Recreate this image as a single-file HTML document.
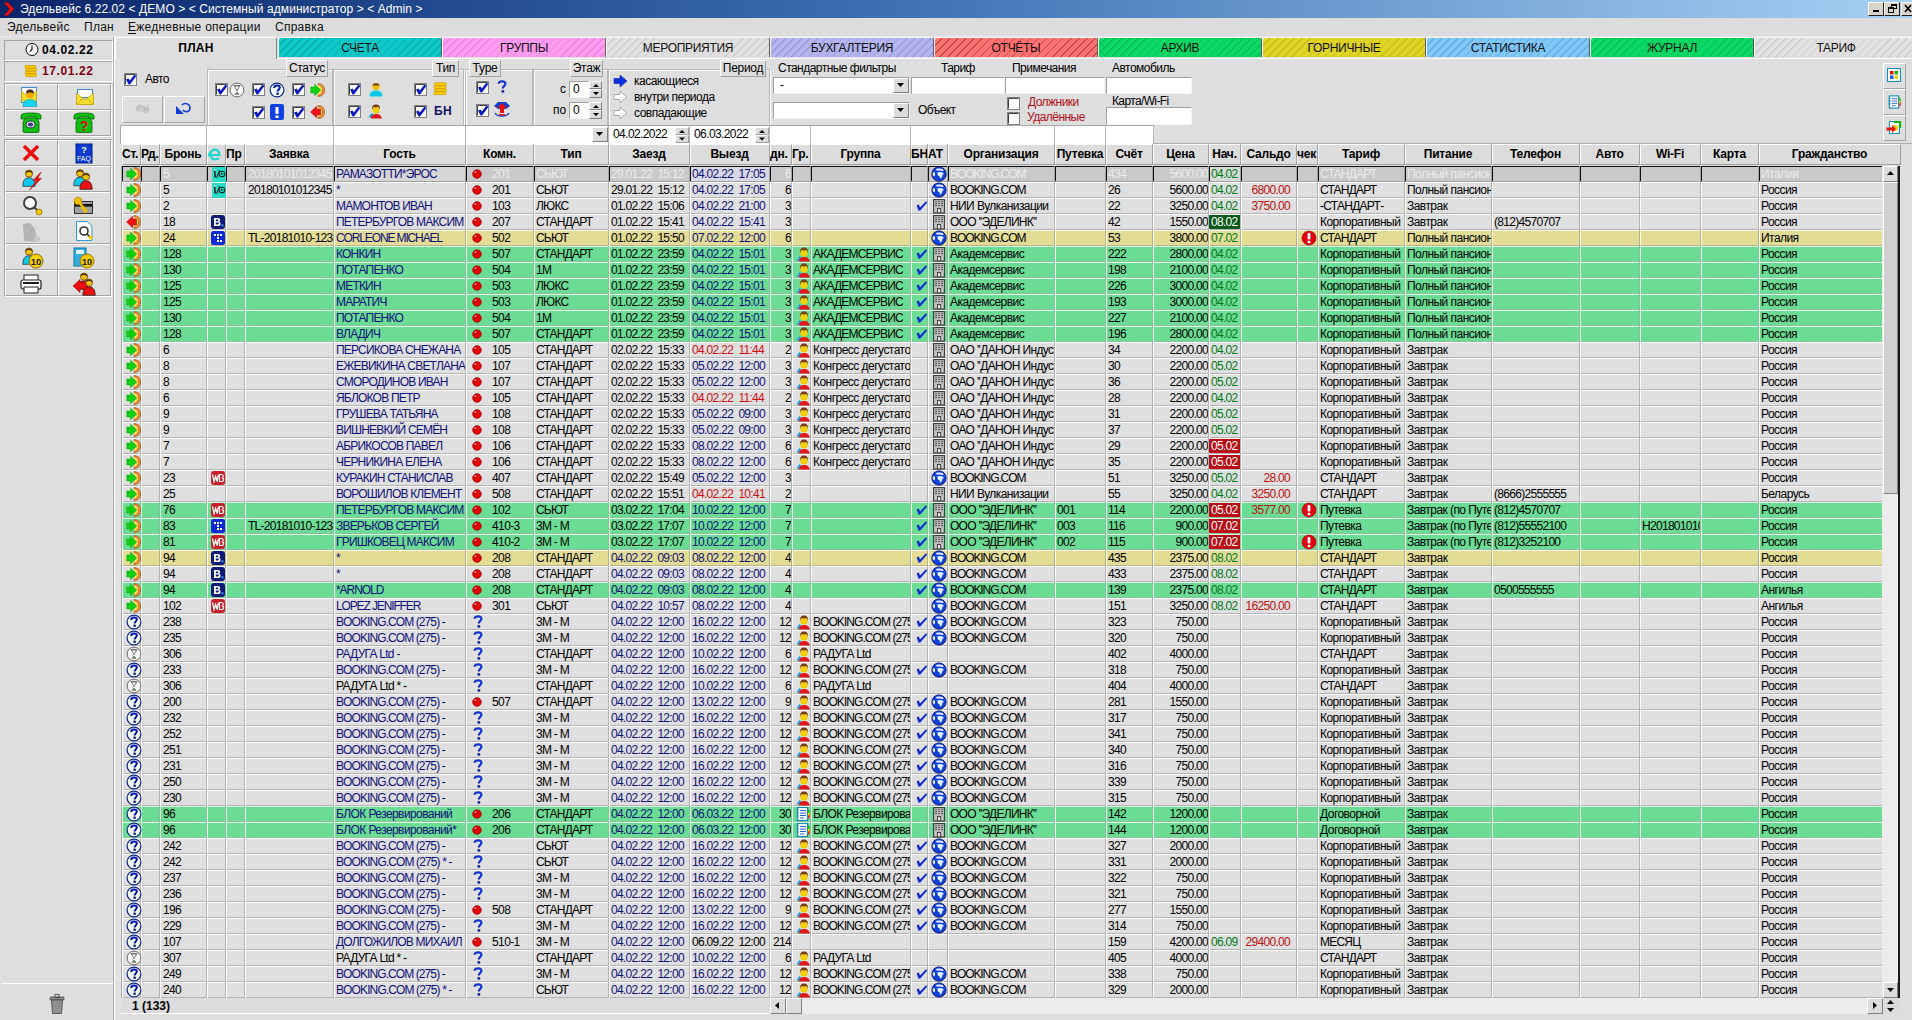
<!DOCTYPE html><html><head><meta charset="utf-8"><title>Эдельвейс</title><style>
*{box-sizing:border-box}
body{margin:0;width:1912px;height:1020px;overflow:hidden;background:#dedede;font-family:"Liberation Sans",sans-serif;font-size:12px;position:relative}
.a{position:absolute}
.t{white-space:pre;line-height:16px}
.cl{position:absolute;overflow:hidden;white-space:pre;line-height:16px;height:16px}
.r{text-align:right}
.btn{position:absolute;background:#dcdcdc;border-top:1px solid #fff;border-left:1px solid #fff;border-right:1px solid #808080;border-bottom:1px solid #808080}
.sunk{position:absolute;background:#fff;border-top:1px solid #a0a0a0;border-left:1px solid #a0a0a0;border-right:1px solid #f4f4f4;border-bottom:1px solid #f4f4f4}
.tab{position:absolute;top:37px;height:20px;border-top:1px solid #f6f6f6;border-left:1px solid #f6f6f6;border-right:1px solid #606060;border-radius:3px 3px 0 0;text-align:center;line-height:20px;font-size:12px;letter-spacing:-0.3px;color:#101010}
.grp{position:absolute;border:1px solid #b8b8b8;box-shadow:inset 1px 1px 0 #fff, 1px 1px 0 #fff}
.lbl{position:absolute;background:#dedede;border-top:1px solid #fff;border-left:1px solid #fff;border-right:1px solid #a0a0a0;border-bottom:1px solid #a0a0a0;line-height:14px;text-align:center;font-size:12px;letter-spacing:-0.3px}
</style></head><body>

<svg width="0" height="0" style="position:absolute">
<defs>
<symbol id="i-in" viewBox="0 0 16 16">
 <path d="M9 1.5 C13.5 1.5 15.6 4.5 15.6 8 C15.6 11.5 13.5 14.5 9 14.5 L9 12.8 C11.8 12.5 13 10.5 13 8 C13 5.5 11.8 3.5 9 3.2Z" fill="#f08a30" stroke="#9a4c10" stroke-width=".6"/>
 <path d="M9 3.2 C11.8 3.5 13 5.5 13 8 C13 10.5 11.8 12.5 9 12.8Z" fill="#ffe060"/>
 <path d="M1.8 5 H5.6 V2.2 L11.8 8 L5.6 13.8 V11 H1.8Z" fill="#10d010" stroke="#08a008" stroke-width=".5"/>
</symbol>
<symbol id="i-out" viewBox="0 0 16 16">
 <path d="M9 1.5 C13.5 1.5 15.6 4.5 15.6 8 C15.6 11.5 13.5 14.5 9 14.5 L9 12.8 C11.8 12.5 13 10.5 13 8 C13 5.5 11.8 3.5 9 3.2Z" fill="#f08a30" stroke="#9a4c10" stroke-width=".6"/>
 <path d="M9 3.2 C11.8 3.5 13 5.5 13 8 C13 10.5 11.8 12.5 9 12.8Z" fill="#ffe060"/>
 <path d="M11.5 5 H7.6 V2.2 L1.6 8 L7.6 13.8 V11 H11.5Z" fill="#f01010" stroke="#a00000" stroke-width=".5"/>
</symbol>
<symbol id="i-q" viewBox="0 0 16 16">
 <circle cx="8" cy="8" r="6.9" fill="#f4faff" stroke="#0a2a8a" stroke-width="1.2"/>
 <path d="M5.2 6 C5.2 4.2 6.4 3.4 8 3.4 C9.8 3.4 10.8 4.4 10.8 5.6 C10.8 7.3 8.6 7.6 8.6 9.4" fill="none" stroke="#0818a8" stroke-width="2"/>
 <rect x="7.4" y="10.6" width="2.4" height="2.2" fill="#0a1a60"/>
</symbol>
<symbol id="i-wait" viewBox="0 0 16 16">
 <circle cx="8" cy="8" r="6.9" fill="#f8f8f8" stroke="#6a6a6a" stroke-width="1"/>
 <path d="M4.6 3.4 H11.4" stroke="#6a6a6a" stroke-width="1"/>
 <path d="M5.4 4 L10.6 4 L8.4 8 L8.4 8.6 L7.6 8.6 L7.6 8Z" fill="none" stroke="#6a6a6a" stroke-width=".9"/>
 <path d="M8 9.5 L10.8 12.8 H5.2Z" fill="#707870"/>
</symbol>
<symbol id="i-wifi" viewBox="0 0 14 15">
 <rect x="0" y="0" width="14" height="15" fill="#28dcc8"/>
 <path d="M2.6 3.2 L3.2 10.5" stroke="#102828" stroke-width="1.6"/>
 <rect x="1.8" y="2.2" width="1.6" height="1.4" fill="#fff"/>
 <path d="M4.6 10.8 L7.6 3.4" stroke="#102828" stroke-width="1.1"/>
 <circle cx="10" cy="7" r="2.8" fill="none" stroke="#102828" stroke-width="1.1"/>
 <circle cx="10" cy="7" r=".9" fill="#102828"/>
</symbol>
<symbol id="i-B" viewBox="0 0 14 14">
 <rect x="0" y="0" width="14" height="14" rx="3" fill="#0c1a78"/>
 <path d="M3 3 H6.8 C8.6 3 9.2 4 9.2 5 C9.2 6 8.6 6.6 7.8 6.8 C9 7 9.6 7.8 9.6 8.9 C9.6 10.2 8.7 11 7 11 H3Z M4.8 4.5 V6.2 H6.5 C7.2 6.2 7.4 5.8 7.4 5.3 C7.4 4.8 7.1 4.5 6.5 4.5Z M4.8 7.6 V9.5 H6.8 C7.5 9.5 7.8 9.1 7.8 8.6 C7.8 8 7.5 7.6 6.8 7.6Z" fill="#fff" fill-rule="evenodd"/>
 <rect x="10.6" y="9.4" width="1.8" height="1.8" fill="#40b0ff"/>
</symbol>
<symbol id="i-dots" viewBox="0 0 14 14">
 <rect x="0" y="0" width="14" height="14" rx="2.5" fill="#0c2ad8"/>
 <g fill="#fff"><rect x="3" y="3" width="2" height="2"/><rect x="6" y="3" width="2" height="2"/><rect x="9" y="3" width="2" height="2"/><rect x="6" y="6" width="2" height="2"/><rect x="6" y="9" width="2" height="2"/><rect x="9" y="9" width="2" height="2"/></g>
</symbol>
<symbol id="i-wb" viewBox="0 0 14 14">
 <rect x="0" y="0" width="14" height="14" rx="3" fill="#c81e28"/>
 <path d="M1.5 3.5 L3 10.5 L4.6 5.5 L6.2 10.5 L7.4 3.5" fill="none" stroke="#fff" stroke-width="1.3"/>
 <path d="M8.5 3.5 V10.5 H10.8 C12 10.5 12.6 9.8 12.6 8.8 C12.6 7.8 12 7.2 11 7 C11.8 6.8 12.2 6.2 12.2 5.3 C12.2 4.2 11.5 3.5 10.5 3.5Z" fill="none" stroke="#fff" stroke-width="1.2"/>
</symbol>
<symbol id="i-dot" viewBox="0 0 10 10">
 <circle cx="5" cy="5" r="4.3" fill="#e80000" stroke="#8a0000" stroke-width=".7"/>
 <rect x="2.6" y="2.4" width="1.6" height="1.4" fill="#ffc0c0"/>
</symbol>
<symbol id="i-rq" viewBox="0 0 12 14">
 <path d="M2.6 3.8 C2.6 2 4 1.3 6 1.3 C8 1.3 9.4 2.2 9.4 3.8 C9.4 5.8 6.8 6 6.8 8.6" fill="none" stroke="#1434d0" stroke-width="2.2"/>
 <rect x="5.6" y="10.2" width="2.6" height="2.4" fill="#0a1a90"/>
</symbol>
<symbol id="i-grp" viewBox="0 0 16 16">
 <path d="M1.5 14 L4.5 10 L6.5 11.5 L3.5 15Z" fill="#18a8e0"/>
 <circle cx="9" cy="7" r="3.6" fill="#f0d000"/>
 <path d="M5 7 C4.6 3 6.5 1.5 9 1.5 C11.5 1.5 13.4 3 13 7 C12.6 5.6 12 4.4 11 4 C9.8 4.6 7.2 4.6 6.6 4 C5.8 4.6 5.4 5.6 5 7Z" fill="#7a3a12"/>
 <path d="M3.8 15.5 C4 12.4 6.2 11 9 11 C11.8 11 14.4 12.4 14.8 15.5Z" fill="#e01818"/>
</symbol>
<symbol id="i-list" viewBox="0 0 16 16">
 <rect x="2.5" y="1.5" width="10" height="13" fill="#fff" stroke="#1a8ab0" stroke-width="1.2"/>
 <path d="M5 4.5 H11 M5 7 H11 M5 9.5 H11 M5 12 H9" stroke="#2a6ad0" stroke-width="1"/>
 <path d="M1.5 4 H4 M1.5 7 H4 M1.5 10 H4" stroke="#1a8ab0" stroke-width="1"/>
 <path d="M13 3 A4 4 0 0 1 14.5 8 L13 8Z" fill="#10c010"/>
 <path d="M13 8 H14.5 A4 4 0 0 1 13 13Z" fill="#f02020"/>
 <path d="M13 6.5 H14.6 V9.5 H13Z" fill="#f0d000"/>
</symbol>
<symbol id="i-chk" viewBox="0 0 14 14">
 <path d="M2.6 5.6 L4.8 4.4 L6 7.6 L12 1.2 L13.2 2.4 L6.2 10.6 L4.6 10.8Z" fill="#0a28d0"/>
</symbol>
<symbol id="i-globe" viewBox="0 0 16 16">
 <circle cx="8" cy="8" r="7.1" fill="#1040e0" stroke="#081870" stroke-width="1"/>
 <path d="M4.6 3.4 C6.2 2.2 9.4 2 11.8 3.2 L12.8 4.8 L10.4 5 L8.8 4.2 L6.6 4.8Z" fill="#eef6ff"/>
 <path d="M6.2 6.6 L10.6 6.1 L12.8 7.6 L11.4 9.2 L10.8 11.2 L9.2 12.8 L8.6 10.6 L7 9.6Z" fill="#eef6ff"/>
 <path d="M1.9 6.4 L3.6 5.9 L4.2 8.6 L3.2 10.6 L1.8 9.2Z" fill="#eef6ff"/>
</symbol>
<symbol id="i-bld" viewBox="0 0 14 16">
 <rect x="1.6" y="1.6" width="10.8" height="13.4" fill="#c4c4c4" stroke="#383838" stroke-width="1.1"/>
 <g fill="#404040"><rect x="3.2" y="3.2" width="1.8" height="1"/><rect x="6.1" y="3.2" width="1.8" height="1"/><rect x="9" y="3.2" width="1.8" height="1"/><rect x="3.2" y="5.2" width="1.8" height="1"/><rect x="6.1" y="5.2" width="1.8" height="1"/><rect x="9" y="5.2" width="1.8" height="1"/><rect x="3.2" y="7.2" width="1.8" height="1"/><rect x="6.1" y="7.2" width="1.8" height="1"/><rect x="9" y="7.2" width="1.8" height="1"/></g>
 <rect x="5.4" y="10.4" width="3.2" height="4.6" fill="#e0e0e0" stroke="#383838" stroke-width=".9"/>
</symbol>
<symbol id="i-excl" viewBox="0 0 16 16">
 <circle cx="8" cy="8" r="7" fill="#e00010" stroke="#a00000" stroke-width=".6"/>
 <rect x="6.6" y="3" width="2.8" height="6.5" rx="1" fill="#fff"/>
 <rect x="6.7" y="10.8" width="2.6" height="2.4" fill="#fff"/>
</symbol>
<symbol id="i-cb" viewBox="0 0 13 13">
 <rect x=".5" y=".5" width="12" height="12" fill="#fff" stroke="#808080"/>
 <path d="M1.5 1.5 H11.5 M1.5 1.5 V11.5" stroke="#404040"/>
 <path d="M2 6.6 L4.6 5.4 L5.8 7.6 L10.6 1.6 L12.4 3 L6 11.4 L4.6 11.4Z" fill="#0c18c0"/>
</symbol>
<symbol id="i-cbe" viewBox="0 0 13 13">
 <rect x=".5" y=".5" width="12" height="12" fill="#fff" stroke="#808080"/>
 <path d="M1.5 1.5 H11.5 M1.5 1.5 V11.5" stroke="#404040"/>
</symbol>
</defs>
</svg>

<div class="a" style="left:0;top:0;width:1912px;height:18px;background:linear-gradient(90deg,#0a246a 0%,#3a6eb0 45%,#a6d0f4 100%)"></div>
<svg class="a" style="left:2px;top:1px" width="14" height="16"><path d="M2 1.5 H6 L12 8 L6 14.5 H2 L7.5 8Z" fill="#e81010" stroke="#900" stroke-width=".5"/></svg>
<div class="a t" style="left:20px;top:1px;color:#fff;font-size:12px;letter-spacing:0.08px;">Эдельвейс 6.22.02 &lt; ДЕМО &gt; &lt; Системный администратор &gt; &lt; Admin &gt;</div>
<div class="btn" style="left:1868px;top:2px;width:16px;height:14px;background:#d8d4cc;border-right-color:#202020;border-bottom-color:#202020"></div>
<div class="btn" style="left:1884px;top:2px;width:16px;height:14px;background:#d8d4cc;border-right-color:#202020;border-bottom-color:#202020"></div>
<div class="btn" style="left:1901px;top:2px;width:16px;height:14px;background:#d8d4cc;border-right-color:#202020;border-bottom-color:#202020"></div>
<div class="a" style="left:1873px;top:10px;width:6px;height:2px;background:#000"></div>
<div class="a" style="left:1891px;top:4px;width:6px;height:5px;border:1px solid #000;border-top-width:2px"></div>
<div class="a" style="left:1888px;top:7px;width:6px;height:6px;border:1px solid #000;border-top-width:2px;background:#d8d4cc"></div>
<svg class="a" style="left:1904px;top:4px" width="8" height="9"><path d="M1 1 L7 8 M7 1 L1 8" stroke="#000" stroke-width="1.6"/></svg>
<div class="a" style="left:0;top:18px;width:1912px;height:19px;background:#dcdcdc;border-bottom:1px solid #e8e8e8"></div>
<div class="a t" style="left:7px;top:19px;color:#101010;font-size:12px;letter-spacing:0.25px;">Эдельвейс</div>
<div class="a t" style="left:84px;top:19px;color:#101010;font-size:12px;letter-spacing:0.25px;">План</div>
<div class="a t" style="left:128px;top:19px;color:#101010;font-size:12px;letter-spacing:0.25px;">Ежедневные операции</div>
<div class="a t" style="left:275px;top:19px;color:#101010;font-size:12px;letter-spacing:0.25px;">Справка</div>
<div class="a" style="left:128px;top:33px;width:8px;height:1px;background:#101010"></div>
<div class="a" style="left:0;top:37px;width:114px;height:983px;background:#dedede;border-right:1px solid #b0b0b0"></div>
<div class="a" style="left:114px;top:37px;width:7px;height:983px;background:#e2e2e2;border-left:1px solid #fff"></div>
<div class="a" style="left:4px;top:40px;width:109px;height:21px;border-top:1px solid #a4a4a4;border-left:1px solid #a4a4a4;border-bottom:1px solid #fff;border-right:1px solid #fff"></div>
<div class="a" style="left:4px;top:61px;width:109px;height:21px;border-top:1px solid #a4a4a4;border-left:1px solid #a4a4a4;border-bottom:1px solid #fff;border-right:1px solid #fff"></div>
<svg class="a" style="left:25px;top:42px" width="14" height="15"><circle cx="7" cy="7.5" r="6" fill="#fff" stroke="#000" stroke-width="1"/><path d="M7 3.5 V7.5 L4.8 9.6" stroke="#000" stroke-width="1.1" fill="none"/></svg>
<div class="a t" style="left:42px;top:42px;color:#000;font-size:12px;letter-spacing:0.6px;font-weight:bold;">04.02.22</div>
<svg class="a" style="left:24px;top:65px" width="14" height="13"><g fill="#f8d000" stroke="#d09000" stroke-width=".7"><rect x="1" y=".6" width="11" height="2.6" rx="1.2"/><rect x="1.6" y="3.4" width="11" height="2.6" rx="1.2"/><rect x="1" y="6.2" width="11" height="2.6" rx="1.2"/><rect x="1.6" y="9" width="11" height="2.6" rx="1.2"/></g></svg>
<div class="a t" style="left:42px;top:63px;color:#800010;font-size:12px;letter-spacing:0.6px;font-weight:bold;">17.01.22</div>
<div class="a" style="left:4px;top:83px;width:108px;height:54px;border:1px solid #a4a4a4;border-right-color:#fff;border-bottom-color:#fff"></div>
<div class="a" style="left:4px;top:139px;width:108px;height:158px;border:1px solid #a4a4a4;border-right-color:#fff;border-bottom-color:#fff"></div>
<div class="btn" style="left:5px;top:84px;width:53px;height:26px;background:#dedede;border-right-color:#a4a4a4;border-bottom-color:#a4a4a4"></div>
<div class="btn" style="left:58px;top:84px;width:53px;height:26px;background:#dedede;border-right-color:#a4a4a4;border-bottom-color:#a4a4a4"></div>
<div class="btn" style="left:5px;top:110px;width:53px;height:26px;background:#dedede;border-right-color:#a4a4a4;border-bottom-color:#a4a4a4"></div>
<div class="btn" style="left:58px;top:110px;width:53px;height:26px;background:#dedede;border-right-color:#a4a4a4;border-bottom-color:#a4a4a4"></div>
<div class="btn" style="left:5px;top:140px;width:53px;height:26px;background:#dedede;border-right-color:#a4a4a4;border-bottom-color:#a4a4a4"></div>
<div class="btn" style="left:58px;top:140px;width:53px;height:26px;background:#dedede;border-right-color:#a4a4a4;border-bottom-color:#a4a4a4"></div>
<div class="btn" style="left:5px;top:166px;width:53px;height:26px;background:#dedede;border-right-color:#a4a4a4;border-bottom-color:#a4a4a4"></div>
<div class="btn" style="left:58px;top:166px;width:53px;height:26px;background:#dedede;border-right-color:#a4a4a4;border-bottom-color:#a4a4a4"></div>
<div class="btn" style="left:5px;top:192px;width:53px;height:26px;background:#dedede;border-right-color:#a4a4a4;border-bottom-color:#a4a4a4"></div>
<div class="btn" style="left:58px;top:192px;width:53px;height:26px;background:#dedede;border-right-color:#a4a4a4;border-bottom-color:#a4a4a4"></div>
<div class="btn" style="left:5px;top:218px;width:53px;height:26px;background:#dedede;border-right-color:#a4a4a4;border-bottom-color:#a4a4a4"></div>
<div class="btn" style="left:58px;top:218px;width:53px;height:26px;background:#dedede;border-right-color:#a4a4a4;border-bottom-color:#a4a4a4"></div>
<div class="btn" style="left:5px;top:244px;width:53px;height:26px;background:#dedede;border-right-color:#a4a4a4;border-bottom-color:#a4a4a4"></div>
<div class="btn" style="left:58px;top:244px;width:53px;height:26px;background:#dedede;border-right-color:#a4a4a4;border-bottom-color:#a4a4a4"></div>
<div class="btn" style="left:5px;top:270px;width:53px;height:26px;background:#dedede;border-right-color:#a4a4a4;border-bottom-color:#a4a4a4"></div>
<div class="btn" style="left:58px;top:270px;width:53px;height:26px;background:#dedede;border-right-color:#a4a4a4;border-bottom-color:#a4a4a4"></div>
<svg class="a" style="left:19px;top:86px" width="22" height="22"><rect x="2.5" y="1.5" width="15" height="15" fill="#fff" stroke="#3a8ad0"/><path d="M2.5 5 L10 12 L17.5 5 V15 H2.5Z" fill="#f8e030" stroke="#c0a000" stroke-width=".7"/><circle cx="11" cy="8.5" r="3.8" fill="#f0a800"/><path d="M7.2 8 C7 4.5 8.6 3.6 11 3.6 C13.4 3.6 15 4.5 14.8 8 C14 6 8 6 7.2 8Z" fill="#402818"/><path d="M4 20.5 C4 15.5 7 13.5 11 13.5 C15 13.5 18 15.5 18 20.5Z" fill="#10d8f4" stroke="#1090c0" stroke-width=".6"/></svg>
<svg class="a" style="left:75px;top:88px" width="20" height="18"><rect x="2.5" y="1.5" width="15" height="8" fill="#fff" stroke="#3a8ad0"/><path d="M1.5 5.5 L10 12 L18.5 5.5 V16.5 H1.5Z" fill="#f8e030" stroke="#c0a000" stroke-width=".8"/><path d="M1.5 16.5 L8 10.5 M18.5 16.5 L12 10.5" stroke="#c0a000" stroke-width=".8"/></svg>
<svg class="a" style="left:20px;top:112px" width="22" height="21"><path d="M1 4 C1 1.5 5 1 11 1 C17 1 21 1.5 21 4 L21 7 L17 7 L16 5 L6 5 L5 7 L1 7Z" fill="#10c010" stroke="#086008" stroke-width=".8"/><path d="M5 6 L17 6 L19 10 L19 19 C19 20 18.5 20.5 17.5 20.5 L4.5 20.5 C3.5 20.5 3 20 3 19 L3 10Z" fill="#10c010" stroke="#086008" stroke-width=".8"/><ellipse cx="10.5" cy="12.5" rx="4.5" ry="3.4" fill="#fff" stroke="#202040"/><ellipse cx="10.5" cy="12.5" rx="2.8" ry="2" fill="#404080"/></svg>
<svg class="a" style="left:73px;top:112px" width="22" height="21"><path d="M1 4 C1 1.5 5 1 11 1 C17 1 21 1.5 21 4 L21 7 L17 7 L16 5 L6 5 L5 7 L1 7Z" fill="#10c010" stroke="#086008" stroke-width=".8"/><path d="M5 6 L17 6 L19 10 L19 19 C19 20 18.5 20.5 17.5 20.5 L4.5 20.5 C3.5 20.5 3 20 3 19 L3 10Z" fill="#10c010" stroke="#086008" stroke-width=".8"/><text x="11" y="18.5" font-size="14" font-weight="bold" text-anchor="middle" fill="#e00000" font-family="Liberation Sans">?</text></svg>
<svg class="a" style="left:22px;top:144px" width="18" height="18"><path d="M2 2 L16 16 M16 2 L2 16" stroke="#e81010" stroke-width="3.6"/></svg>
<svg class="a" style="left:75px;top:143px" width="18" height="21"><rect x="1" y="1" width="16" height="19" fill="#0a3ad0" stroke="#00208a"/><text x="9" y="10" font-size="9" font-weight="bold" text-anchor="middle" fill="#fff" font-family="Liberation Sans">?</text><text x="9" y="18" font-size="7" text-anchor="middle" fill="#fff" font-family="Liberation Sans">FAQ</text></svg>
<svg class="a" style="left:21px;top:168px" width="22" height="24"><path d="M1.8000000000000003 18.299999999999997 C1.8000000000000003 11.299999999999999 5 9.799999999999999 8 9.799999999999999 C11 9.799999999999999 14.2 11.299999999999999 14.2 18.299999999999997Z" fill="#10c8f0" stroke="#202020" stroke-width=".7"/><circle cx="8" cy="5.6" r="3.6" fill="#f0c400" stroke="#503010" stroke-width=".7"/><path d="M4.4 5.6 C4.4 1.5 11.6 1.5 11.6 5.6 C9.8 3.4399999999999995 6.2 3.4399999999999995 4.4 5.6Z" fill="#4a2a10"/><path d="M20 4 L12 12.5 L15.5 12.5 L8.5 22 L20.5 10.5 L16.8 10.5Z" fill="#f01010" stroke="#900" stroke-width=".5"/></svg>
<svg class="a" style="left:72px;top:168px" width="24" height="24"><path d="M1.8000000000000003 17.799999999999997 C1.8000000000000003 10.799999999999999 5 9.299999999999999 8 9.299999999999999 C11 9.299999999999999 14.2 10.799999999999999 14.2 17.799999999999997Z" fill="#10c8f0" stroke="#202020" stroke-width=".7"/><circle cx="8" cy="5.1" r="3.6" fill="#f0c400" stroke="#503010" stroke-width=".7"/><path d="M4.4 5.1 C4.4 1.0 11.6 1.0 11.6 5.1 C9.8 2.9399999999999995 6.2 2.9399999999999995 4.4 5.1Z" fill="#4a2a10"/><path d="M7.800000000000001 21.299999999999997 C7.800000000000001 14.299999999999999 11 12.799999999999999 14 12.799999999999999 C17 12.799999999999999 20.200000000000003 14.299999999999999 20.200000000000003 21.299999999999997Z" fill="#e81010" stroke="#202020" stroke-width=".7"/><circle cx="14" cy="8.6" r="3.6" fill="#f0c400" stroke="#503010" stroke-width=".7"/><path d="M10.4 8.6 C10.4 4.5 17.6 4.5 17.6 8.6 C15.8 6.4399999999999995 12.2 6.4399999999999995 10.4 8.6Z" fill="#4a2a10"/></svg>
<svg class="a" style="left:22px;top:195px" width="22" height="22"><circle cx="8" cy="8" r="6" fill="#fff" stroke="#404040" stroke-width="2"/><path d="M12 12 L18 18" stroke="#404040" stroke-width="2"/><circle cx="17" cy="17" r="3" fill="#f0c800" stroke="#806000" stroke-width=".6"/></svg>
<svg class="a" style="left:72px;top:196px" width="22" height="20"><rect x="2.5" y="5.5" width="18" height="12" fill="#a0a0a0" stroke="#303030"/><rect x="3" y="8" width="17" height="2.6" fill="#101010"/><circle cx="6" cy="5" r="3.8" fill="#f0c000" stroke="#a07000" stroke-width=".6"/><path d="M7.5 7 L14 14.5 L12 16.5 M11 11.5 L9.5 13" stroke="#f0c000" stroke-width="2.6" fill="none"/></svg>
<svg class="a" style="left:20px;top:221px" width="22" height="22"><path d="M3 3 L10 2 L15 8 L16 14 L20 18 L17 21 L4 20Z" fill="#b4b4b4"/><circle cx="17" cy="18" r="3" fill="#c8c8c8"/></svg>
<svg class="a" style="left:75px;top:220px" width="20" height="22"><path d="M1.5 1.5 H12 L17 6 V20.5 H1.5Z" fill="#fff" stroke="#30a0d0"/><circle cx="9" cy="11" r="4" fill="#fff" stroke="#303030" stroke-width="1.6"/><path d="M12 14 L15 17" stroke="#303030" stroke-width="1.6"/><circle cx="15.5" cy="17.5" r="2" fill="#f0c800"/></svg>
<svg class="a" style="left:21px;top:246px" width="24" height="24"><path d="M1.8000000000000003 18.299999999999997 C1.8000000000000003 11.299999999999999 5 9.799999999999999 8 9.799999999999999 C11 9.799999999999999 14.2 11.299999999999999 14.2 18.299999999999997Z" fill="#10c8f0" stroke="#202020" stroke-width=".7"/><circle cx="8" cy="5.6" r="3.6" fill="#f0c400" stroke="#503010" stroke-width=".7"/><path d="M4.4 5.6 C4.4 1.5 11.6 1.5 11.6 5.6 C9.8 3.4399999999999995 6.2 3.4399999999999995 4.4 5.6Z" fill="#4a2a10"/><circle cx="15" cy="15" r="7" fill="#f8d000" stroke="#806000" stroke-width=".9"/><text x="15" y="19" font-size="9.5" font-weight="bold" text-anchor="middle" fill="#202020" font-family="Liberation Sans">10</text></svg>
<svg class="a" style="left:73px;top:247px" width="22" height="22"><rect x="1" y="1" width="12" height="18" fill="#30b0e0" stroke="#1070a0"/><rect x="3" y="3" width="8" height="4" fill="#e0f4ff"/><circle cx="14" cy="14" r="7" fill="#f0c800" stroke="#906000" stroke-width=".8"/><text x="14" y="18" font-size="9" font-weight="bold" text-anchor="middle" fill="#202020" font-family="Liberation Sans">10</text></svg>
<svg class="a" style="left:20px;top:274px" width="22" height="20"><rect x="4" y="1" width="14" height="6" fill="#fff" stroke="#202020"/><rect x="1" y="6" width="20" height="9" rx="2" fill="#fff" stroke="#202020" stroke-width="1.2"/><rect x="3" y="8" width="16" height="2" fill="#202020"/><rect x="4" y="13" width="14" height="6" fill="#fff" stroke="#202020"/></svg>
<svg class="a" style="left:72px;top:272px" width="24" height="24"><path d="M5.800000000000001 17.299999999999997 C5.800000000000001 10.299999999999999 9 8.799999999999999 12 8.799999999999999 C15 8.799999999999999 18.2 10.299999999999999 18.2 17.299999999999997Z" fill="#e81010" stroke="#202020" stroke-width=".7"/><circle cx="12" cy="4.6" r="3.6" fill="#f0c400" stroke="#503010" stroke-width=".7"/><path d="M8.4 4.6 C8.4 0.5 15.6 0.5 15.6 4.6 C13.8 2.4399999999999995 10.2 2.4399999999999995 8.4 4.6Z" fill="#4a2a10"/><path d="M10.8 23.299999999999997 C10.8 16.299999999999997 14 14.799999999999999 17 14.799999999999999 C20 14.799999999999999 23.200000000000003 16.299999999999997 23.200000000000003 23.299999999999997Z" fill="#e81010" stroke="#202020" stroke-width=".7"/><circle cx="17" cy="10.6" r="3.6" fill="#f0c400" stroke="#503010" stroke-width=".7"/><path d="M13.4 10.6 C13.4 6.5 20.6 6.5 20.6 10.6 C18.8 8.44 15.2 8.44 13.4 10.6Z" fill="#4a2a10"/><path d="M1 14 L8 7.5 V11 H14 V17 H8 V20.5Z" fill="#f01010" stroke="#900" stroke-width=".6"/></svg>
<div class="a" style="left:1px;top:983px;width:112px;height:37px;background:#dedede;border-top:1px solid #fff"></div>
<svg class="a" style="left:47px;top:993px" width="20" height="22"><rect x="3" y="4" width="14" height="3" rx="1" fill="#909090" stroke="#404040" stroke-width=".8"/><rect x="8" y="1.5" width="4" height="3" fill="none" stroke="#404040" stroke-width=".8"/><path d="M4.5 7 H15.5 L14.5 20.5 H5.5Z" fill="#909090" stroke="#404040" stroke-width=".8"/></svg>
<div class="a" style="left:114px;top:58px;width:1798px;height:1px;background:#fff"></div>
<div class="a" style="left:115px;top:37px;width:162px;height:22px;background:#dedede;border-top:1px solid #fff;border-left:1px solid #fff;border-right:1px solid #808080;border-radius:3px 3px 0 0"></div>
<div class="a t" style="left:115px;top:40px;width:162px;text-align:center;font-weight:bold;letter-spacing:0.3px;color:#000">ПЛАН</div>
<div class="tab" style="left:278px;width:164px;background:#0cc8c8 repeating-linear-gradient(135deg, transparent 0px, transparent 4.7px, #0aacac 4.7px, #0aacac 5.7px) ">СЧЕТА</div>
<div class="tab" style="left:442px;width:164px;background:#ff9cf0 repeating-linear-gradient(135deg, transparent 0px, transparent 4.7px, #e884dc 4.7px, #e884dc 5.7px) ">ГРУППЫ</div>
<div class="tab" style="left:606px;width:164px;background:#e0e0e0 repeating-linear-gradient(135deg, transparent 0px, transparent 4.7px, #cdcdcd 4.7px, #cdcdcd 5.7px) ">МЕРОПРИЯТИЯ</div>
<div class="tab" style="left:770px;width:164px;background:#b4b4f0 repeating-linear-gradient(135deg, transparent 0px, transparent 4.7px, #9c9cdc 4.7px, #9c9cdc 5.7px) ">БУХГАЛТЕРИЯ</div>
<div class="tab" style="left:934px;width:164px;background:#ff7272 repeating-linear-gradient(135deg, transparent 0px, transparent 4.7px, #cc4a4a 4.7px, #cc4a4a 5.7px) ">ОТЧЁТЫ</div>
<div class="tab" style="left:1098px;width:164px;background:#0ad864 repeating-linear-gradient(135deg, transparent 0px, transparent 4.7px, #0ac056 4.7px, #0ac056 5.7px) ">АРХИВ</div>
<div class="tab" style="left:1262px;width:164px;background:#e0d424 repeating-linear-gradient(135deg, transparent 0px, transparent 4.7px, #c8bc1c 4.7px, #c8bc1c 5.7px) ">ГОРНИЧНЫЕ</div>
<div class="tab" style="left:1426px;width:164px;background:#80c8fa repeating-linear-gradient(135deg, transparent 0px, transparent 4.7px, #64acdc 4.7px, #64acdc 5.7px) ">СТАТИСТИКА</div>
<div class="tab" style="left:1590px;width:164px;background:#0ad864 repeating-linear-gradient(135deg, transparent 0px, transparent 4.7px, #0ac056 4.7px, #0ac056 5.7px) ">ЖУРНАЛ</div>
<div class="tab" style="left:1754px;width:164px;background:#e0e0e0 repeating-linear-gradient(135deg, transparent 0px, transparent 4.7px, #cdcdcd 4.7px, #cdcdcd 5.7px) ">ТАРИФ</div>
<svg class="a" style="left:124px;top:73px" width="13" height="13"><use href="#i-cb"/></svg>
<div class="a t" style="left:145px;top:71px;color:#000;font-size:12px;letter-spacing:-0.57px;">Авто</div>
<div class="btn" style="left:122px;top:96px;width:41px;height:27px;background:#dedede;border-right-color:#a4a4a4;border-bottom-color:#a4a4a4"></div>
<div class="btn" style="left:164px;top:96px;width:41px;height:27px;background:#dedede;border-right-color:#a4a4a4;border-bottom-color:#a4a4a4"></div>
<svg class="a" style="left:134px;top:101px" width="18" height="16"><path d="M2 9 C2 4 6 3 9 5 L12 7 L14 3 V11 H7 L10 8 C8 6 5 7 5 10Z" fill="#b8b8b8"/><path d="M16 7 C16 12 12 13 9 11 L6 9 L4 13 V5 H11 L8 8 C10 10 13 9 13 6Z" fill="#c8c8c8"/></svg>
<svg class="a" style="left:175px;top:101px" width="18" height="16"><path d="M7 4 C10 1 15 3 15 7 C15 11 10 12 8 9" fill="none" stroke="#1040d0" stroke-width="1.6"/><path d="M1 5 V13 H9Z" fill="#1040d0"/></svg>
<div class="grp" style="left:207px;top:69px;width:126px;height:57px"></div>
<div class="grp" style="left:333px;top:69px;width:131px;height:57px"></div>
<div class="grp" style="left:465px;top:69px;width:68px;height:57px"></div>
<div class="grp" style="left:533px;top:69px;width:75px;height:57px"></div>
<div class="grp" style="left:608px;top:69px;width:162px;height:57px"></div>
<div class="lbl" style="left:286px;top:60px;width:42px;height:17px">Статус</div>
<div class="lbl" style="left:432px;top:60px;width:27px;height:17px">Тип</div>
<div class="lbl" style="left:469px;top:60px;width:32px;height:17px">Type</div>
<div class="lbl" style="left:570px;top:60px;width:33px;height:17px">Этаж</div>
<div class="lbl" style="left:720px;top:60px;width:46px;height:17px">Период</div>
<svg class="a" style="left:215px;top:83px" width="13" height="13"><use href="#i-cb"/></svg>
<svg class="a" style="left:229px;top:82px" width="16" height="16"><use href="#i-wait"/></svg>
<svg class="a" style="left:252px;top:83px" width="13" height="13"><use href="#i-cb"/></svg>
<svg class="a" style="left:269px;top:82px" width="16" height="16"><use href="#i-q"/></svg>
<svg class="a" style="left:292px;top:83px" width="13" height="13"><use href="#i-cb"/></svg>
<svg class="a" style="left:309px;top:82px" width="16" height="16"><use href="#i-in"/></svg>
<svg class="a" style="left:252px;top:106px" width="13" height="13"><use href="#i-cb"/></svg>
<svg class="a" style="left:270px;top:104px" width="14" height="16"><rect x="0" y="0" width="14" height="16" rx="2" fill="#1040e0"/><rect x="5.5" y="3" width="3" height="7" fill="#fff"/><rect x="5.5" y="11.5" width="3" height="2.5" fill="#fff"/></svg>
<svg class="a" style="left:292px;top:106px" width="13" height="13"><use href="#i-cb"/></svg>
<svg class="a" style="left:309px;top:104px" width="16" height="16"><use href="#i-out"/></svg>
<svg class="a" style="left:348px;top:83px" width="13" height="13"><use href="#i-cb"/></svg>
<svg class="a" style="left:368px;top:81px" width="16" height="16"><circle cx="8" cy="5.5" r="3.6" fill="#f0c000"/><path d="M4.4 4.6 C4.4 1.4 11.6 1.4 11.6 4.6Z" fill="#704010"/><path d="M1.5 15.5 C1.5 11 4.5 9.5 8 9.5 C11.5 9.5 14.5 11 14.5 15.5Z" fill="#10c8e8"/></svg>
<svg class="a" style="left:414px;top:83px" width="13" height="13"><use href="#i-cb"/></svg>
<svg class="a" style="left:433px;top:82px" width="15" height="14"><g fill="#f8d000" stroke="#d09000" stroke-width=".7"><rect x="1.4" y=".8" width="12" height="2.8" rx="1.3"/><rect x="1" y="3.8" width="12" height="2.8" rx="1.3"/><rect x="1.4" y="6.8" width="12" height="2.8" rx="1.3"/><rect x="1" y="9.8" width="12" height="2.8" rx="1.3"/></g></svg>
<svg class="a" style="left:348px;top:105px" width="13" height="13"><use href="#i-cb"/></svg>
<svg class="a" style="left:367px;top:103px" width="16" height="16"><use href="#i-grp"/></svg>
<svg class="a" style="left:414px;top:105px" width="13" height="13"><use href="#i-cb"/></svg>
<div class="a t" style="left:434px;top:103px;color:#101060;font-size:12px;letter-spacing:0.3px;font-weight:bold;">БН</div>
<svg class="a" style="left:476px;top:81px" width="13" height="13"><use href="#i-cb"/></svg>
<svg class="a" style="left:496px;top:80px" width="12" height="14"><use href="#i-rq"/></svg>
<svg class="a" style="left:476px;top:104px" width="13" height="13"><use href="#i-cb"/></svg>
<svg class="a" style="left:493px;top:101px" width="18" height="17"><path d="M1 5 L5 1 H13 L17 5 L13 8 H5Z" fill="#1040d0"/><path d="M9 2 L14 7 H11 V12 H7 V7 H4Z" fill="#e81010"/><path d="M2 12 C4 16 14 16 16 12" fill="none" stroke="#1040d0" stroke-width="1.5"/><rect x="6" y="13" width="6" height="1.5" fill="#e81010"/></svg>
<div class="a t" style="left:560px;top:81px;color:#000;font-size:12px;letter-spacing:0px;">с</div>
<div class="a t" style="left:553px;top:102px;color:#000;font-size:12px;letter-spacing:0px;">по</div>
<div class="sunk" style="left:569px;top:81px;width:20px;height:17px"></div>
<div class="a t" style="left:573px;top:81px;color:#000;font-size:12px;letter-spacing:0px;">0</div>
<div class="btn" style="left:589px;top:81px;width:13px;height:8px"></div><div class="btn" style="left:589px;top:89px;width:13px;height:9px"></div>
<svg class="a" style="left:592px;top:83px" width="8" height="13"><path d="M1 4 L4 1 L7 4Z M1 9 L4 12 L7 9Z" fill="#000"/></svg>
<div class="sunk" style="left:569px;top:102px;width:20px;height:17px"></div>
<div class="a t" style="left:573px;top:102px;color:#000;font-size:12px;letter-spacing:0px;">0</div>
<div class="btn" style="left:589px;top:102px;width:13px;height:8px"></div><div class="btn" style="left:589px;top:110px;width:13px;height:9px"></div>
<svg class="a" style="left:592px;top:104px" width="8" height="13"><path d="M1 4 L4 1 L7 4Z M1 9 L4 12 L7 9Z" fill="#000"/></svg>
<svg class="a" style="left:613px;top:74px" width="16" height="14"><path d="M1 4.5 H7 V1 L14 7 L7 13 V9.5 H1Z" fill="#1030e0" stroke="#0a20a0" stroke-width=".6"/></svg>
<svg class="a" style="left:613px;top:90px" width="16" height="14"><path d="M1 4.5 H7 V1 L14 7 L7 13 V9.5 H1Z" fill="#fff" stroke="#a0a0a0" stroke-width=".9"/></svg>
<svg class="a" style="left:613px;top:106px" width="16" height="14"><path d="M1 4.5 H7 V1 L14 7 L7 13 V9.5 H1Z" fill="#fff" stroke="#a0a0a0" stroke-width=".9"/></svg>
<div class="a t" style="left:634px;top:73px;color:#000;font-size:12px;letter-spacing:-0.5px;">касающиеся</div>
<div class="a t" style="left:634px;top:89px;color:#000;font-size:12px;letter-spacing:-0.52px;">внутри периода</div>
<div class="a t" style="left:634px;top:105px;color:#000;font-size:12px;letter-spacing:-0.5px;">совпадающие</div>
<div class="a t" style="left:778px;top:60px;color:#000;font-size:12px;letter-spacing:-0.53px;">Стандартные фильтры</div>
<div class="a t" style="left:941px;top:60px;color:#000;font-size:12px;letter-spacing:-0.56px;">Тариф</div>
<div class="a t" style="left:1012px;top:60px;color:#000;font-size:12px;letter-spacing:-0.53px;">Примечания</div>
<div class="a t" style="left:1112px;top:60px;color:#000;font-size:12px;letter-spacing:-0.53px;">Автомобиль</div>
<div class="sunk" style="left:773px;top:77px;width:137px;height:17px"></div>
<div class="btn" style="left:893px;top:78px;width:16px;height:15px"></div>
<svg class="a" style="left:897px;top:83px" width="8" height="5"><path d="M0 0 H7 L3.5 4Z" fill="#000"/></svg>
<div class="sunk" style="left:773px;top:102px;width:137px;height:17px"></div>
<div class="btn" style="left:893px;top:103px;width:16px;height:15px"></div>
<svg class="a" style="left:897px;top:108px" width="8" height="5"><path d="M0 0 H7 L3.5 4Z" fill="#000"/></svg>
<div class="a t" style="left:780px;top:77px;color:#000;font-size:12px;letter-spacing:0px;">-</div>
<div class="a t" style="left:918px;top:102px;color:#000;font-size:12px;letter-spacing:-0.55px;">Объект</div>
<div class="sunk" style="left:911px;top:77px;width:94px;height:17px"></div>
<div class="sunk" style="left:1005px;top:77px;width:100px;height:17px"></div>
<div class="sunk" style="left:1106px;top:77px;width:86px;height:17px"></div>
<div class="sunk" style="left:1106px;top:107px;width:86px;height:18px"></div>
<svg class="a" style="left:1007px;top:97px" width="13" height="13"><use href="#i-cbe"/></svg>
<svg class="a" style="left:1007px;top:112px" width="13" height="13"><use href="#i-cbe"/></svg>
<div class="a t" style="left:1028px;top:94px;color:#b01018;font-size:12px;letter-spacing:-0.54px;">Должники</div>
<div class="a t" style="left:1027px;top:109px;color:#b01018;font-size:12px;letter-spacing:-0.53px;">Удалённые</div>
<div class="a t" style="left:1112px;top:93px;color:#000;font-size:12px;letter-spacing:-0.63px;">Карта/Wi-Fi</div>
<div class="btn" style="left:1883px;top:63px;width:23px;height:26px;background:#dedede;border-right-color:#a4a4a4;border-bottom-color:#a4a4a4"></div>
<div class="btn" style="left:1883px;top:89px;width:23px;height:26px;background:#dedede;border-right-color:#a4a4a4;border-bottom-color:#a4a4a4"></div>
<div class="btn" style="left:1883px;top:115px;width:23px;height:26px;background:#dedede;border-right-color:#a4a4a4;border-bottom-color:#a4a4a4"></div>
<svg class="a" style="left:1887px;top:68px" width="14" height="14"><rect x=".5" y=".5" width="13" height="13" fill="#fff" stroke="#1090c0"/><rect x="3" y="3" width="3.5" height="3.5" fill="#e01010"/><rect x="7.5" y="3" width="3.5" height="3.5" fill="#10b010"/><rect x="3" y="7.5" width="3.5" height="3.5" fill="#1060e0"/><rect x="7.5" y="7.5" width="3.5" height="3.5" fill="#f0d000"/></svg>
<svg class="a" style="left:1887px;top:94px" width="15" height="16"><use href="#i-list" width="15" height="16"/></svg>
<svg class="a" style="left:1886px;top:120px" width="16" height="16"><rect x="3.5" y="1.5" width="10" height="12" fill="#fff" stroke="#1090c0"/><path d="M8 2 L14 2 L14 8" fill="none" stroke="#10b010" stroke-width="2.2"/><circle cx="9" cy="8" r="3" fill="#f0d000"/><path d="M0.5 7.5 H6 V5 L10 9 L6 13 V10.5 H0.5Z" fill="#e81010"/></svg>
<div class="a" style="left:1154px;top:143px;width:758px;height:1px;background:#b0b0b0"></div>
<div class="a" style="left:120px;top:125px;width:1034px;height:19px;background:#fff;border-top:1px solid #a8a8a8;border-left:1px solid #a8a8a8"></div>
<div class="a" style="left:206px;top:126px;width:1px;height:18px;background:#b8b8b8"></div>
<div class="a" style="left:333px;top:126px;width:1px;height:18px;background:#b8b8b8"></div>
<div class="a" style="left:465px;top:126px;width:1px;height:18px;background:#b8b8b8"></div>
<div class="a" style="left:608px;top:126px;width:1px;height:18px;background:#b8b8b8"></div>
<div class="a" style="left:689px;top:126px;width:1px;height:18px;background:#b8b8b8"></div>
<div class="a" style="left:769px;top:126px;width:1px;height:18px;background:#b8b8b8"></div>
<div class="a" style="left:810px;top:126px;width:1px;height:18px;background:#b8b8b8"></div>
<div class="a" style="left:910px;top:126px;width:1px;height:18px;background:#b8b8b8"></div>
<div class="a" style="left:1054px;top:126px;width:1px;height:18px;background:#b8b8b8"></div>
<div class="a" style="left:1105px;top:126px;width:1px;height:18px;background:#b8b8b8"></div>
<div class="a" style="left:1153px;top:126px;width:1px;height:18px;background:#b8b8b8"></div>
<div class="btn" style="left:592px;top:127px;width:16px;height:15px"></div>
<svg class="a" style="left:596px;top:132px" width="8" height="5"><path d="M0 0 H7 L3.5 4Z" fill="#000"/></svg>
<div class="a t" style="left:613px;top:126px;color:#000;font-size:12px;letter-spacing:-0.6px;">04.02.2022</div>
<div class="a t" style="left:694px;top:126px;color:#000;font-size:12px;letter-spacing:-0.6px;">06.03.2022</div>
<div class="btn" style="left:675px;top:127px;width:14px;height:8px;border-right-color:#a0a0a0;border-bottom-color:#a0a0a0"></div><div class="btn" style="left:675px;top:135px;width:14px;height:8px;border-right-color:#a0a0a0;border-bottom-color:#a0a0a0"></div>
<svg class="a" style="left:678px;top:129px" width="9" height="13"><path d="M1 4 L4 1 L7 4Z M1 8.5 L4 11.5 L7 8.5Z" fill="#000"/></svg>
<div class="btn" style="left:755px;top:127px;width:14px;height:8px;border-right-color:#a0a0a0;border-bottom-color:#a0a0a0"></div><div class="btn" style="left:755px;top:135px;width:14px;height:8px;border-right-color:#a0a0a0;border-bottom-color:#a0a0a0"></div>
<svg class="a" style="left:758px;top:129px" width="9" height="13"><path d="M1 4 L4 1 L7 4Z M1 8.5 L4 11.5 L7 8.5Z" fill="#000"/></svg>
<div class="a" style="left:120px;top:144px;width:1781px;height:22px;background:#dcdcdc"></div>
<div class="a" style="left:122px;top:144px;width:19px;height:21px;border-left:1px solid #fff;border-top:1px solid #fff;border-right:1px solid #a0a0a0;border-bottom:1px solid #a0a0a0"></div>
<div class="cl" style="left:122px;top:146px;width:18px;text-align:left;font-weight:bold;letter-spacing:-0.2px;color:#000">Ст.</div>
<div class="a" style="left:141px;top:144px;width:19px;height:21px;border-left:1px solid #fff;border-top:1px solid #fff;border-right:1px solid #a0a0a0;border-bottom:1px solid #a0a0a0"></div>
<div class="cl" style="left:141px;top:146px;width:18px;text-align:left;font-weight:bold;letter-spacing:-0.2px;color:#000">Рд.</div>
<div class="a" style="left:160px;top:144px;width:47px;height:21px;border-left:1px solid #fff;border-top:1px solid #fff;border-right:1px solid #a0a0a0;border-bottom:1px solid #a0a0a0"></div>
<div class="cl" style="left:160px;top:146px;width:46px;text-align:center;font-weight:bold;letter-spacing:-0.2px;color:#000">Бронь</div>
<div class="a" style="left:207px;top:144px;width:19px;height:21px;border-left:1px solid #fff;border-top:1px solid #fff;border-right:1px solid #a0a0a0;border-bottom:1px solid #a0a0a0"></div>
<div class="a" style="left:226px;top:144px;width:19px;height:21px;border-left:1px solid #fff;border-top:1px solid #fff;border-right:1px solid #a0a0a0;border-bottom:1px solid #a0a0a0"></div>
<div class="cl" style="left:226px;top:146px;width:18px;text-align:left;font-weight:bold;letter-spacing:-0.2px;color:#000">Пр</div>
<div class="a" style="left:245px;top:144px;width:89px;height:21px;border-left:1px solid #fff;border-top:1px solid #fff;border-right:1px solid #a0a0a0;border-bottom:1px solid #a0a0a0"></div>
<div class="cl" style="left:245px;top:146px;width:88px;text-align:center;font-weight:bold;letter-spacing:-0.2px;color:#000">Заявка</div>
<div class="a" style="left:334px;top:144px;width:132px;height:21px;border-left:1px solid #fff;border-top:1px solid #fff;border-right:1px solid #a0a0a0;border-bottom:1px solid #a0a0a0"></div>
<div class="cl" style="left:334px;top:146px;width:131px;text-align:center;font-weight:bold;letter-spacing:-0.2px;color:#000">Гость</div>
<div class="a" style="left:466px;top:144px;width:68px;height:21px;border-left:1px solid #fff;border-top:1px solid #fff;border-right:1px solid #a0a0a0;border-bottom:1px solid #a0a0a0"></div>
<div class="cl" style="left:466px;top:146px;width:67px;text-align:center;font-weight:bold;letter-spacing:-0.2px;color:#000">Комн.</div>
<div class="a" style="left:534px;top:144px;width:75px;height:21px;border-left:1px solid #fff;border-top:1px solid #fff;border-right:1px solid #a0a0a0;border-bottom:1px solid #a0a0a0"></div>
<div class="cl" style="left:534px;top:146px;width:74px;text-align:center;font-weight:bold;letter-spacing:-0.2px;color:#000">Тип</div>
<div class="a" style="left:609px;top:144px;width:81px;height:21px;border-left:1px solid #fff;border-top:1px solid #fff;border-right:1px solid #a0a0a0;border-bottom:1px solid #a0a0a0"></div>
<div class="cl" style="left:609px;top:146px;width:80px;text-align:center;font-weight:bold;letter-spacing:-0.2px;color:#000">Заезд</div>
<div class="a" style="left:690px;top:144px;width:80px;height:21px;border-left:1px solid #fff;border-top:1px solid #fff;border-right:1px solid #a0a0a0;border-bottom:1px solid #a0a0a0"></div>
<div class="cl" style="left:690px;top:146px;width:79px;text-align:center;font-weight:bold;letter-spacing:-0.2px;color:#000">Выезд</div>
<div class="a" style="left:770px;top:144px;width:22px;height:21px;border-left:1px solid #fff;border-top:1px solid #fff;border-right:1px solid #a0a0a0;border-bottom:1px solid #a0a0a0"></div>
<div class="cl" style="left:770px;top:146px;width:21px;text-align:left;font-weight:bold;letter-spacing:-0.2px;color:#000">дн.</div>
<div class="a" style="left:792px;top:144px;width:19px;height:21px;border-left:1px solid #fff;border-top:1px solid #fff;border-right:1px solid #a0a0a0;border-bottom:1px solid #a0a0a0"></div>
<div class="cl" style="left:792px;top:146px;width:18px;text-align:left;font-weight:bold;letter-spacing:-0.2px;color:#000">Гр.</div>
<div class="a" style="left:811px;top:144px;width:100px;height:21px;border-left:1px solid #fff;border-top:1px solid #fff;border-right:1px solid #a0a0a0;border-bottom:1px solid #a0a0a0"></div>
<div class="cl" style="left:811px;top:146px;width:99px;text-align:center;font-weight:bold;letter-spacing:-0.2px;color:#000">Группа</div>
<div class="a" style="left:911px;top:144px;width:17px;height:21px;border-left:1px solid #fff;border-top:1px solid #fff;border-right:1px solid #a0a0a0;border-bottom:1px solid #a0a0a0"></div>
<div class="cl" style="left:911px;top:146px;width:16px;text-align:left;font-weight:bold;letter-spacing:-0.2px;color:#000">БН</div>
<div class="a" style="left:928px;top:144px;width:20px;height:21px;border-left:1px solid #fff;border-top:1px solid #fff;border-right:1px solid #a0a0a0;border-bottom:1px solid #a0a0a0"></div>
<div class="cl" style="left:928px;top:146px;width:19px;text-align:left;font-weight:bold;letter-spacing:-0.2px;color:#000">АТ</div>
<div class="a" style="left:948px;top:144px;width:107px;height:21px;border-left:1px solid #fff;border-top:1px solid #fff;border-right:1px solid #a0a0a0;border-bottom:1px solid #a0a0a0"></div>
<div class="cl" style="left:948px;top:146px;width:106px;text-align:center;font-weight:bold;letter-spacing:-0.2px;color:#000">Организация</div>
<div class="a" style="left:1055px;top:144px;width:51px;height:21px;border-left:1px solid #fff;border-top:1px solid #fff;border-right:1px solid #a0a0a0;border-bottom:1px solid #a0a0a0"></div>
<div class="cl" style="left:1055px;top:146px;width:50px;text-align:center;font-weight:bold;letter-spacing:-0.2px;color:#000">Путевка</div>
<div class="a" style="left:1106px;top:144px;width:47px;height:21px;border-left:1px solid #fff;border-top:1px solid #fff;border-right:1px solid #a0a0a0;border-bottom:1px solid #a0a0a0"></div>
<div class="cl" style="left:1106px;top:146px;width:46px;text-align:center;font-weight:bold;letter-spacing:-0.2px;color:#000">Счёт</div>
<div class="a" style="left:1153px;top:144px;width:56px;height:21px;border-left:1px solid #fff;border-top:1px solid #fff;border-right:1px solid #a0a0a0;border-bottom:1px solid #a0a0a0"></div>
<div class="cl" style="left:1153px;top:146px;width:55px;text-align:center;font-weight:bold;letter-spacing:-0.2px;color:#000">Цена</div>
<div class="a" style="left:1209px;top:144px;width:32px;height:21px;border-left:1px solid #fff;border-top:1px solid #fff;border-right:1px solid #a0a0a0;border-bottom:1px solid #a0a0a0"></div>
<div class="cl" style="left:1209px;top:146px;width:31px;text-align:center;font-weight:bold;letter-spacing:-0.2px;color:#000">Нач.</div>
<div class="a" style="left:1241px;top:144px;width:56px;height:21px;border-left:1px solid #fff;border-top:1px solid #fff;border-right:1px solid #a0a0a0;border-bottom:1px solid #a0a0a0"></div>
<div class="cl" style="left:1241px;top:146px;width:55px;text-align:center;font-weight:bold;letter-spacing:-0.2px;color:#000">Сальдо</div>
<div class="a" style="left:1297px;top:144px;width:21px;height:21px;border-left:1px solid #fff;border-top:1px solid #fff;border-right:1px solid #a0a0a0;border-bottom:1px solid #a0a0a0"></div>
<div class="cl" style="left:1297px;top:146px;width:20px;text-align:left;font-weight:bold;letter-spacing:-0.2px;color:#000">чек</div>
<div class="a" style="left:1318px;top:144px;width:87px;height:21px;border-left:1px solid #fff;border-top:1px solid #fff;border-right:1px solid #a0a0a0;border-bottom:1px solid #a0a0a0"></div>
<div class="cl" style="left:1318px;top:146px;width:86px;text-align:center;font-weight:bold;letter-spacing:-0.2px;color:#000">Тариф</div>
<div class="a" style="left:1405px;top:144px;width:87px;height:21px;border-left:1px solid #fff;border-top:1px solid #fff;border-right:1px solid #a0a0a0;border-bottom:1px solid #a0a0a0"></div>
<div class="cl" style="left:1405px;top:146px;width:86px;text-align:center;font-weight:bold;letter-spacing:-0.2px;color:#000">Питание</div>
<div class="a" style="left:1492px;top:144px;width:88px;height:21px;border-left:1px solid #fff;border-top:1px solid #fff;border-right:1px solid #a0a0a0;border-bottom:1px solid #a0a0a0"></div>
<div class="cl" style="left:1492px;top:146px;width:87px;text-align:center;font-weight:bold;letter-spacing:-0.2px;color:#000">Телефон</div>
<div class="a" style="left:1580px;top:144px;width:60px;height:21px;border-left:1px solid #fff;border-top:1px solid #fff;border-right:1px solid #a0a0a0;border-bottom:1px solid #a0a0a0"></div>
<div class="cl" style="left:1580px;top:146px;width:59px;text-align:center;font-weight:bold;letter-spacing:-0.2px;color:#000">Авто</div>
<div class="a" style="left:1640px;top:144px;width:61px;height:21px;border-left:1px solid #fff;border-top:1px solid #fff;border-right:1px solid #a0a0a0;border-bottom:1px solid #a0a0a0"></div>
<div class="cl" style="left:1640px;top:146px;width:60px;text-align:center;font-weight:bold;letter-spacing:-0.2px;color:#000">Wi-Fi</div>
<div class="a" style="left:1701px;top:144px;width:58px;height:21px;border-left:1px solid #fff;border-top:1px solid #fff;border-right:1px solid #a0a0a0;border-bottom:1px solid #a0a0a0"></div>
<div class="cl" style="left:1701px;top:146px;width:57px;text-align:center;font-weight:bold;letter-spacing:-0.2px;color:#000">Карта</div>
<div class="a" style="left:1759px;top:144px;width:142px;height:21px;border-left:1px solid #fff;border-top:1px solid #fff;border-right:1px solid #a0a0a0;border-bottom:1px solid #a0a0a0"></div>
<div class="cl" style="left:1759px;top:146px;width:141px;text-align:center;font-weight:bold;letter-spacing:-0.2px;color:#000">Гражданство</div>
<svg class="a" style="left:207px;top:147px" width="16" height="15"><path d="M4 8 H12.5 C12.5 4.6 10.6 2.6 8 2.6 C5.2 2.6 3.4 5 3.4 7.6 C3.4 10.6 5.6 12.4 8.4 12.4 C10 12.4 11.2 11.8 12 11" fill="none" stroke="#18d8d0" stroke-width="2.2"/><path d="M1.2 9.5 C1.6 6.5 3 5 4 4.4" fill="none" stroke="#18d8d0" stroke-width="1.6"/></svg>
<div class="a" style="left:121px;top:166px;width:1761px;height:832px;background:#dfdfdf"></div>
<div class="a" style="left:121px;top:166px;width:1761px;height:16px;background:#c9c9c9;border-top:1px solid #ffffff;border-bottom:1px solid #a0a0a0"></div>
<div class="a" style="left:121px;top:182px;width:1761px;height:16px;background:#dfdfdf;border-top:1px solid #ffffff;border-bottom:1px solid #b4b4b4"></div>
<div class="a" style="left:121px;top:198px;width:1761px;height:16px;background:#dfdfdf;border-top:1px solid #ffffff;border-bottom:1px solid #b4b4b4"></div>
<div class="a" style="left:121px;top:214px;width:1761px;height:16px;background:#dfdfdf;border-top:1px solid #ffffff;border-bottom:1px solid #b4b4b4"></div>
<div class="a" style="left:121px;top:230px;width:1761px;height:16px;background:#e3dc95;border-top:1px solid #fffff0;border-bottom:1px solid #b8b28c"></div>
<div class="a" style="left:121px;top:246px;width:1761px;height:16px;background:#6bdc93;border-top:1px solid #e0ffe8;border-bottom:1px solid #8cc09c"></div>
<div class="a" style="left:121px;top:262px;width:1761px;height:16px;background:#6bdc93;border-top:1px solid #e0ffe8;border-bottom:1px solid #8cc09c"></div>
<div class="a" style="left:121px;top:278px;width:1761px;height:16px;background:#6bdc93;border-top:1px solid #e0ffe8;border-bottom:1px solid #8cc09c"></div>
<div class="a" style="left:121px;top:294px;width:1761px;height:16px;background:#6bdc93;border-top:1px solid #e0ffe8;border-bottom:1px solid #8cc09c"></div>
<div class="a" style="left:121px;top:310px;width:1761px;height:16px;background:#6bdc93;border-top:1px solid #e0ffe8;border-bottom:1px solid #8cc09c"></div>
<div class="a" style="left:121px;top:326px;width:1761px;height:16px;background:#6bdc93;border-top:1px solid #e0ffe8;border-bottom:1px solid #8cc09c"></div>
<div class="a" style="left:121px;top:342px;width:1761px;height:16px;background:#dfdfdf;border-top:1px solid #ffffff;border-bottom:1px solid #b4b4b4"></div>
<div class="a" style="left:121px;top:358px;width:1761px;height:16px;background:#dfdfdf;border-top:1px solid #ffffff;border-bottom:1px solid #b4b4b4"></div>
<div class="a" style="left:121px;top:374px;width:1761px;height:16px;background:#dfdfdf;border-top:1px solid #ffffff;border-bottom:1px solid #b4b4b4"></div>
<div class="a" style="left:121px;top:390px;width:1761px;height:16px;background:#dfdfdf;border-top:1px solid #ffffff;border-bottom:1px solid #b4b4b4"></div>
<div class="a" style="left:121px;top:406px;width:1761px;height:16px;background:#dfdfdf;border-top:1px solid #ffffff;border-bottom:1px solid #b4b4b4"></div>
<div class="a" style="left:121px;top:422px;width:1761px;height:16px;background:#dfdfdf;border-top:1px solid #ffffff;border-bottom:1px solid #b4b4b4"></div>
<div class="a" style="left:121px;top:438px;width:1761px;height:16px;background:#dfdfdf;border-top:1px solid #ffffff;border-bottom:1px solid #b4b4b4"></div>
<div class="a" style="left:121px;top:454px;width:1761px;height:16px;background:#dfdfdf;border-top:1px solid #ffffff;border-bottom:1px solid #b4b4b4"></div>
<div class="a" style="left:121px;top:470px;width:1761px;height:16px;background:#dfdfdf;border-top:1px solid #ffffff;border-bottom:1px solid #b4b4b4"></div>
<div class="a" style="left:121px;top:486px;width:1761px;height:16px;background:#dfdfdf;border-top:1px solid #ffffff;border-bottom:1px solid #b4b4b4"></div>
<div class="a" style="left:121px;top:502px;width:1761px;height:16px;background:#6bdc93;border-top:1px solid #e0ffe8;border-bottom:1px solid #8cc09c"></div>
<div class="a" style="left:121px;top:518px;width:1761px;height:16px;background:#6bdc93;border-top:1px solid #e0ffe8;border-bottom:1px solid #8cc09c"></div>
<div class="a" style="left:121px;top:534px;width:1761px;height:16px;background:#6bdc93;border-top:1px solid #e0ffe8;border-bottom:1px solid #8cc09c"></div>
<div class="a" style="left:121px;top:550px;width:1761px;height:16px;background:#e3dc95;border-top:1px solid #fffff0;border-bottom:1px solid #b8b28c"></div>
<div class="a" style="left:121px;top:566px;width:1761px;height:16px;background:#dfdfdf;border-top:1px solid #ffffff;border-bottom:1px solid #b4b4b4"></div>
<div class="a" style="left:121px;top:582px;width:1761px;height:16px;background:#6bdc93;border-top:1px solid #e0ffe8;border-bottom:1px solid #8cc09c"></div>
<div class="a" style="left:121px;top:598px;width:1761px;height:16px;background:#dfdfdf;border-top:1px solid #ffffff;border-bottom:1px solid #b4b4b4"></div>
<div class="a" style="left:121px;top:614px;width:1761px;height:16px;background:#dfdfdf;border-top:1px solid #ffffff;border-bottom:1px solid #b4b4b4"></div>
<div class="a" style="left:121px;top:630px;width:1761px;height:16px;background:#dfdfdf;border-top:1px solid #ffffff;border-bottom:1px solid #b4b4b4"></div>
<div class="a" style="left:121px;top:646px;width:1761px;height:16px;background:#dfdfdf;border-top:1px solid #ffffff;border-bottom:1px solid #b4b4b4"></div>
<div class="a" style="left:121px;top:662px;width:1761px;height:16px;background:#dfdfdf;border-top:1px solid #ffffff;border-bottom:1px solid #b4b4b4"></div>
<div class="a" style="left:121px;top:678px;width:1761px;height:16px;background:#dfdfdf;border-top:1px solid #ffffff;border-bottom:1px solid #b4b4b4"></div>
<div class="a" style="left:121px;top:694px;width:1761px;height:16px;background:#dfdfdf;border-top:1px solid #ffffff;border-bottom:1px solid #b4b4b4"></div>
<div class="a" style="left:121px;top:710px;width:1761px;height:16px;background:#dfdfdf;border-top:1px solid #ffffff;border-bottom:1px solid #b4b4b4"></div>
<div class="a" style="left:121px;top:726px;width:1761px;height:16px;background:#dfdfdf;border-top:1px solid #ffffff;border-bottom:1px solid #b4b4b4"></div>
<div class="a" style="left:121px;top:742px;width:1761px;height:16px;background:#dfdfdf;border-top:1px solid #ffffff;border-bottom:1px solid #b4b4b4"></div>
<div class="a" style="left:121px;top:758px;width:1761px;height:16px;background:#dfdfdf;border-top:1px solid #ffffff;border-bottom:1px solid #b4b4b4"></div>
<div class="a" style="left:121px;top:774px;width:1761px;height:16px;background:#dfdfdf;border-top:1px solid #ffffff;border-bottom:1px solid #b4b4b4"></div>
<div class="a" style="left:121px;top:790px;width:1761px;height:16px;background:#dfdfdf;border-top:1px solid #ffffff;border-bottom:1px solid #b4b4b4"></div>
<div class="a" style="left:121px;top:806px;width:1761px;height:16px;background:#6bdc93;border-top:1px solid #e0ffe8;border-bottom:1px solid #8cc09c"></div>
<div class="a" style="left:121px;top:822px;width:1761px;height:16px;background:#6bdc93;border-top:1px solid #e0ffe8;border-bottom:1px solid #8cc09c"></div>
<div class="a" style="left:121px;top:838px;width:1761px;height:16px;background:#dfdfdf;border-top:1px solid #ffffff;border-bottom:1px solid #b4b4b4"></div>
<div class="a" style="left:121px;top:854px;width:1761px;height:16px;background:#dfdfdf;border-top:1px solid #ffffff;border-bottom:1px solid #b4b4b4"></div>
<div class="a" style="left:121px;top:870px;width:1761px;height:16px;background:#dfdfdf;border-top:1px solid #ffffff;border-bottom:1px solid #b4b4b4"></div>
<div class="a" style="left:121px;top:886px;width:1761px;height:16px;background:#dfdfdf;border-top:1px solid #ffffff;border-bottom:1px solid #b4b4b4"></div>
<div class="a" style="left:121px;top:902px;width:1761px;height:16px;background:#dfdfdf;border-top:1px solid #ffffff;border-bottom:1px solid #b4b4b4"></div>
<div class="a" style="left:121px;top:918px;width:1761px;height:16px;background:#dfdfdf;border-top:1px solid #ffffff;border-bottom:1px solid #b4b4b4"></div>
<div class="a" style="left:121px;top:934px;width:1761px;height:16px;background:#dfdfdf;border-top:1px solid #ffffff;border-bottom:1px solid #b4b4b4"></div>
<div class="a" style="left:121px;top:950px;width:1761px;height:16px;background:#dfdfdf;border-top:1px solid #ffffff;border-bottom:1px solid #b4b4b4"></div>
<div class="a" style="left:121px;top:966px;width:1761px;height:16px;background:#dfdfdf;border-top:1px solid #ffffff;border-bottom:1px solid #b4b4b4"></div>
<div class="a" style="left:121px;top:982px;width:1761px;height:16px;background:#dfdfdf;border-top:1px solid #ffffff;border-bottom:1px solid #b4b4b4"></div>
<div class="a" style="left:122px;top:166px;width:19px;height:15px;background:#c9c9c9;border-top:1px solid #101010;border-left:1px solid #101010"></div>
<div class="a" style="left:141px;top:166px;width:19px;height:15px;background:#c9c9c9;border-top:1px solid #101010;border-left:1px solid #101010"></div>
<div class="a" style="left:160px;top:166px;width:47px;height:15px;background:#c9c9c9;border-top:1px solid #101010;border-left:1px solid #101010"></div>
<div class="a" style="left:207px;top:166px;width:19px;height:15px;background:#c9c9c9;border-top:1px solid #101010;border-left:1px solid #101010"></div>
<div class="a" style="left:226px;top:166px;width:19px;height:15px;background:#c9c9c9;border-top:1px solid #101010;border-left:1px solid #101010"></div>
<div class="a" style="left:245px;top:166px;width:89px;height:15px;background:#c9c9c9;border-top:1px solid #101010;border-left:1px solid #101010"></div>
<div class="a" style="left:334px;top:166px;width:132px;height:15px;background:#d6d6d6;border-top:1px solid #101010;border-left:1px solid #101010"></div>
<div class="a" style="left:466px;top:166px;width:68px;height:15px;background:#c9c9c9;border-top:1px solid #101010;border-left:1px solid #101010"></div>
<div class="a" style="left:534px;top:166px;width:75px;height:15px;background:#c9c9c9;border-top:1px solid #101010;border-left:1px solid #101010"></div>
<div class="a" style="left:609px;top:166px;width:81px;height:15px;background:#c9c9c9;border-top:1px solid #101010;border-left:1px solid #101010"></div>
<div class="a" style="left:690px;top:166px;width:80px;height:15px;background:#d8d8e6;border-top:1px solid #101010;border-left:1px solid #101010"></div>
<div class="a" style="left:770px;top:166px;width:22px;height:15px;background:#c9c9c9;border-top:1px solid #101010;border-left:1px solid #101010"></div>
<div class="a" style="left:792px;top:166px;width:19px;height:15px;background:#c9c9c9;border-top:1px solid #101010;border-left:1px solid #101010"></div>
<div class="a" style="left:811px;top:166px;width:100px;height:15px;background:#c9c9c9;border-top:1px solid #101010;border-left:1px solid #101010"></div>
<div class="a" style="left:911px;top:166px;width:17px;height:15px;background:#c9c9c9;border-top:1px solid #101010;border-left:1px solid #101010"></div>
<div class="a" style="left:928px;top:166px;width:20px;height:15px;background:#c9c9c9;border-top:1px solid #101010;border-left:1px solid #101010"></div>
<div class="a" style="left:948px;top:166px;width:107px;height:15px;background:#c9c9c9;border-top:1px solid #101010;border-left:1px solid #101010"></div>
<div class="a" style="left:1055px;top:166px;width:51px;height:15px;background:#c9c9c9;border-top:1px solid #101010;border-left:1px solid #101010"></div>
<div class="a" style="left:1106px;top:166px;width:47px;height:15px;background:#c9c9c9;border-top:1px solid #101010;border-left:1px solid #101010"></div>
<div class="a" style="left:1153px;top:166px;width:56px;height:15px;background:#c9c9c9;border-top:1px solid #101010;border-left:1px solid #101010"></div>
<div class="a" style="left:1209px;top:166px;width:32px;height:15px;background:#d4dcd4;border-top:1px solid #101010;border-left:1px solid #101010"></div>
<div class="a" style="left:1241px;top:166px;width:56px;height:15px;background:#c9c9c9;border-top:1px solid #101010;border-left:1px solid #101010"></div>
<div class="a" style="left:1297px;top:166px;width:21px;height:15px;background:#c9c9c9;border-top:1px solid #101010;border-left:1px solid #101010"></div>
<div class="a" style="left:1318px;top:166px;width:87px;height:15px;background:#c9c9c9;border-top:1px solid #101010;border-left:1px solid #101010"></div>
<div class="a" style="left:1405px;top:166px;width:87px;height:15px;background:#c9c9c9;border-top:1px solid #101010;border-left:1px solid #101010"></div>
<div class="a" style="left:1492px;top:166px;width:88px;height:15px;background:#c9c9c9;border-top:1px solid #101010;border-left:1px solid #101010"></div>
<div class="a" style="left:1580px;top:166px;width:60px;height:15px;background:#c9c9c9;border-top:1px solid #101010;border-left:1px solid #101010"></div>
<div class="a" style="left:1640px;top:166px;width:61px;height:15px;background:#c9c9c9;border-top:1px solid #101010;border-left:1px solid #101010"></div>
<div class="a" style="left:1701px;top:166px;width:58px;height:15px;background:#c9c9c9;border-top:1px solid #101010;border-left:1px solid #101010"></div>
<div class="a" style="left:1759px;top:166px;width:124px;height:15px;background:#c9c9c9;border-top:1px solid #101010;border-left:1px solid #101010"></div>
<svg class="a" style="left:0;top:0;pointer-events:none" width="1912" height="1020" shape-rendering="crispEdges"><path d="M140.5 166V182M159.5 166V182M206.5 166V182M225.5 166V182M244.5 166V182M333.5 166V182M465.5 166V182M533.5 166V182M608.5 166V182M689.5 166V182M769.5 166V182M791.5 166V182M810.5 166V182M910.5 166V182M927.5 166V182M947.5 166V182M1054.5 166V182M1105.5 166V182M1152.5 166V182M1208.5 166V182M1240.5 166V182M1296.5 166V182M1317.5 166V182M1404.5 166V182M1491.5 166V182M1579.5 166V182M1639.5 166V182M1700.5 166V182M1758.5 166V182" stroke="#a0a0a0" stroke-width="1" fill="none"/><path d="M140.5 182V230M159.5 182V230M206.5 182V230M225.5 182V230M244.5 182V230M333.5 182V230M465.5 182V230M533.5 182V230M608.5 182V230M689.5 182V230M769.5 182V230M791.5 182V230M810.5 182V230M910.5 182V230M927.5 182V230M947.5 182V230M1054.5 182V230M1105.5 182V230M1152.5 182V230M1208.5 182V230M1240.5 182V230M1296.5 182V230M1317.5 182V230M1404.5 182V230M1491.5 182V230M1579.5 182V230M1639.5 182V230M1700.5 182V230M1758.5 182V230" stroke="#b4b4b4" stroke-width="1" fill="none"/><path d="M122.5 182V230M141.5 182V230M160.5 182V230M207.5 182V230M226.5 182V230M245.5 182V230M334.5 182V230M466.5 182V230M534.5 182V230M609.5 182V230M690.5 182V230M770.5 182V230M792.5 182V230M811.5 182V230M911.5 182V230M928.5 182V230M948.5 182V230M1055.5 182V230M1106.5 182V230M1153.5 182V230M1209.5 182V230M1241.5 182V230M1297.5 182V230M1318.5 182V230M1405.5 182V230M1492.5 182V230M1580.5 182V230M1640.5 182V230M1701.5 182V230M1759.5 182V230" stroke="#ffffff" stroke-width="1" fill="none"/><path d="M140.5 230V246M159.5 230V246M206.5 230V246M225.5 230V246M244.5 230V246M333.5 230V246M465.5 230V246M533.5 230V246M608.5 230V246M689.5 230V246M769.5 230V246M791.5 230V246M810.5 230V246M910.5 230V246M927.5 230V246M947.5 230V246M1054.5 230V246M1105.5 230V246M1152.5 230V246M1208.5 230V246M1240.5 230V246M1296.5 230V246M1317.5 230V246M1404.5 230V246M1491.5 230V246M1579.5 230V246M1639.5 230V246M1700.5 230V246M1758.5 230V246" stroke="#b8b28c" stroke-width="1" fill="none"/><path d="M122.5 230V246M141.5 230V246M160.5 230V246M207.5 230V246M226.5 230V246M245.5 230V246M334.5 230V246M466.5 230V246M534.5 230V246M609.5 230V246M690.5 230V246M770.5 230V246M792.5 230V246M811.5 230V246M911.5 230V246M928.5 230V246M948.5 230V246M1055.5 230V246M1106.5 230V246M1153.5 230V246M1209.5 230V246M1241.5 230V246M1297.5 230V246M1318.5 230V246M1405.5 230V246M1492.5 230V246M1580.5 230V246M1640.5 230V246M1701.5 230V246M1759.5 230V246" stroke="#fffff0" stroke-width="1" fill="none"/><path d="M140.5 246V342M159.5 246V342M206.5 246V342M225.5 246V342M244.5 246V342M333.5 246V342M465.5 246V342M533.5 246V342M608.5 246V342M689.5 246V342M769.5 246V342M791.5 246V342M810.5 246V342M910.5 246V342M927.5 246V342M947.5 246V342M1054.5 246V342M1105.5 246V342M1152.5 246V342M1208.5 246V342M1240.5 246V342M1296.5 246V342M1317.5 246V342M1404.5 246V342M1491.5 246V342M1579.5 246V342M1639.5 246V342M1700.5 246V342M1758.5 246V342" stroke="#8cc09c" stroke-width="1" fill="none"/><path d="M122.5 246V342M141.5 246V342M160.5 246V342M207.5 246V342M226.5 246V342M245.5 246V342M334.5 246V342M466.5 246V342M534.5 246V342M609.5 246V342M690.5 246V342M770.5 246V342M792.5 246V342M811.5 246V342M911.5 246V342M928.5 246V342M948.5 246V342M1055.5 246V342M1106.5 246V342M1153.5 246V342M1209.5 246V342M1241.5 246V342M1297.5 246V342M1318.5 246V342M1405.5 246V342M1492.5 246V342M1580.5 246V342M1640.5 246V342M1701.5 246V342M1759.5 246V342" stroke="#e0ffe8" stroke-width="1" fill="none"/><path d="M140.5 342V502M159.5 342V502M206.5 342V502M225.5 342V502M244.5 342V502M333.5 342V502M465.5 342V502M533.5 342V502M608.5 342V502M689.5 342V502M769.5 342V502M791.5 342V502M810.5 342V502M910.5 342V502M927.5 342V502M947.5 342V502M1054.5 342V502M1105.5 342V502M1152.5 342V502M1208.5 342V502M1240.5 342V502M1296.5 342V502M1317.5 342V502M1404.5 342V502M1491.5 342V502M1579.5 342V502M1639.5 342V502M1700.5 342V502M1758.5 342V502" stroke="#b4b4b4" stroke-width="1" fill="none"/><path d="M122.5 342V502M141.5 342V502M160.5 342V502M207.5 342V502M226.5 342V502M245.5 342V502M334.5 342V502M466.5 342V502M534.5 342V502M609.5 342V502M690.5 342V502M770.5 342V502M792.5 342V502M811.5 342V502M911.5 342V502M928.5 342V502M948.5 342V502M1055.5 342V502M1106.5 342V502M1153.5 342V502M1209.5 342V502M1241.5 342V502M1297.5 342V502M1318.5 342V502M1405.5 342V502M1492.5 342V502M1580.5 342V502M1640.5 342V502M1701.5 342V502M1759.5 342V502" stroke="#ffffff" stroke-width="1" fill="none"/><path d="M140.5 502V550M159.5 502V550M206.5 502V550M225.5 502V550M244.5 502V550M333.5 502V550M465.5 502V550M533.5 502V550M608.5 502V550M689.5 502V550M769.5 502V550M791.5 502V550M810.5 502V550M910.5 502V550M927.5 502V550M947.5 502V550M1054.5 502V550M1105.5 502V550M1152.5 502V550M1208.5 502V550M1240.5 502V550M1296.5 502V550M1317.5 502V550M1404.5 502V550M1491.5 502V550M1579.5 502V550M1639.5 502V550M1700.5 502V550M1758.5 502V550" stroke="#8cc09c" stroke-width="1" fill="none"/><path d="M122.5 502V550M141.5 502V550M160.5 502V550M207.5 502V550M226.5 502V550M245.5 502V550M334.5 502V550M466.5 502V550M534.5 502V550M609.5 502V550M690.5 502V550M770.5 502V550M792.5 502V550M811.5 502V550M911.5 502V550M928.5 502V550M948.5 502V550M1055.5 502V550M1106.5 502V550M1153.5 502V550M1209.5 502V550M1241.5 502V550M1297.5 502V550M1318.5 502V550M1405.5 502V550M1492.5 502V550M1580.5 502V550M1640.5 502V550M1701.5 502V550M1759.5 502V550" stroke="#e0ffe8" stroke-width="1" fill="none"/><path d="M140.5 550V566M159.5 550V566M206.5 550V566M225.5 550V566M244.5 550V566M333.5 550V566M465.5 550V566M533.5 550V566M608.5 550V566M689.5 550V566M769.5 550V566M791.5 550V566M810.5 550V566M910.5 550V566M927.5 550V566M947.5 550V566M1054.5 550V566M1105.5 550V566M1152.5 550V566M1208.5 550V566M1240.5 550V566M1296.5 550V566M1317.5 550V566M1404.5 550V566M1491.5 550V566M1579.5 550V566M1639.5 550V566M1700.5 550V566M1758.5 550V566" stroke="#b8b28c" stroke-width="1" fill="none"/><path d="M122.5 550V566M141.5 550V566M160.5 550V566M207.5 550V566M226.5 550V566M245.5 550V566M334.5 550V566M466.5 550V566M534.5 550V566M609.5 550V566M690.5 550V566M770.5 550V566M792.5 550V566M811.5 550V566M911.5 550V566M928.5 550V566M948.5 550V566M1055.5 550V566M1106.5 550V566M1153.5 550V566M1209.5 550V566M1241.5 550V566M1297.5 550V566M1318.5 550V566M1405.5 550V566M1492.5 550V566M1580.5 550V566M1640.5 550V566M1701.5 550V566M1759.5 550V566" stroke="#fffff0" stroke-width="1" fill="none"/><path d="M140.5 566V582M159.5 566V582M206.5 566V582M225.5 566V582M244.5 566V582M333.5 566V582M465.5 566V582M533.5 566V582M608.5 566V582M689.5 566V582M769.5 566V582M791.5 566V582M810.5 566V582M910.5 566V582M927.5 566V582M947.5 566V582M1054.5 566V582M1105.5 566V582M1152.5 566V582M1208.5 566V582M1240.5 566V582M1296.5 566V582M1317.5 566V582M1404.5 566V582M1491.5 566V582M1579.5 566V582M1639.5 566V582M1700.5 566V582M1758.5 566V582" stroke="#b4b4b4" stroke-width="1" fill="none"/><path d="M122.5 566V582M141.5 566V582M160.5 566V582M207.5 566V582M226.5 566V582M245.5 566V582M334.5 566V582M466.5 566V582M534.5 566V582M609.5 566V582M690.5 566V582M770.5 566V582M792.5 566V582M811.5 566V582M911.5 566V582M928.5 566V582M948.5 566V582M1055.5 566V582M1106.5 566V582M1153.5 566V582M1209.5 566V582M1241.5 566V582M1297.5 566V582M1318.5 566V582M1405.5 566V582M1492.5 566V582M1580.5 566V582M1640.5 566V582M1701.5 566V582M1759.5 566V582" stroke="#ffffff" stroke-width="1" fill="none"/><path d="M140.5 582V598M159.5 582V598M206.5 582V598M225.5 582V598M244.5 582V598M333.5 582V598M465.5 582V598M533.5 582V598M608.5 582V598M689.5 582V598M769.5 582V598M791.5 582V598M810.5 582V598M910.5 582V598M927.5 582V598M947.5 582V598M1054.5 582V598M1105.5 582V598M1152.5 582V598M1208.5 582V598M1240.5 582V598M1296.5 582V598M1317.5 582V598M1404.5 582V598M1491.5 582V598M1579.5 582V598M1639.5 582V598M1700.5 582V598M1758.5 582V598" stroke="#8cc09c" stroke-width="1" fill="none"/><path d="M122.5 582V598M141.5 582V598M160.5 582V598M207.5 582V598M226.5 582V598M245.5 582V598M334.5 582V598M466.5 582V598M534.5 582V598M609.5 582V598M690.5 582V598M770.5 582V598M792.5 582V598M811.5 582V598M911.5 582V598M928.5 582V598M948.5 582V598M1055.5 582V598M1106.5 582V598M1153.5 582V598M1209.5 582V598M1241.5 582V598M1297.5 582V598M1318.5 582V598M1405.5 582V598M1492.5 582V598M1580.5 582V598M1640.5 582V598M1701.5 582V598M1759.5 582V598" stroke="#e0ffe8" stroke-width="1" fill="none"/><path d="M140.5 598V806M159.5 598V806M206.5 598V806M225.5 598V806M244.5 598V806M333.5 598V806M465.5 598V806M533.5 598V806M608.5 598V806M689.5 598V806M769.5 598V806M791.5 598V806M810.5 598V806M910.5 598V806M927.5 598V806M947.5 598V806M1054.5 598V806M1105.5 598V806M1152.5 598V806M1208.5 598V806M1240.5 598V806M1296.5 598V806M1317.5 598V806M1404.5 598V806M1491.5 598V806M1579.5 598V806M1639.5 598V806M1700.5 598V806M1758.5 598V806" stroke="#b4b4b4" stroke-width="1" fill="none"/><path d="M122.5 598V806M141.5 598V806M160.5 598V806M207.5 598V806M226.5 598V806M245.5 598V806M334.5 598V806M466.5 598V806M534.5 598V806M609.5 598V806M690.5 598V806M770.5 598V806M792.5 598V806M811.5 598V806M911.5 598V806M928.5 598V806M948.5 598V806M1055.5 598V806M1106.5 598V806M1153.5 598V806M1209.5 598V806M1241.5 598V806M1297.5 598V806M1318.5 598V806M1405.5 598V806M1492.5 598V806M1580.5 598V806M1640.5 598V806M1701.5 598V806M1759.5 598V806" stroke="#ffffff" stroke-width="1" fill="none"/><path d="M140.5 806V838M159.5 806V838M206.5 806V838M225.5 806V838M244.5 806V838M333.5 806V838M465.5 806V838M533.5 806V838M608.5 806V838M689.5 806V838M769.5 806V838M791.5 806V838M810.5 806V838M910.5 806V838M927.5 806V838M947.5 806V838M1054.5 806V838M1105.5 806V838M1152.5 806V838M1208.5 806V838M1240.5 806V838M1296.5 806V838M1317.5 806V838M1404.5 806V838M1491.5 806V838M1579.5 806V838M1639.5 806V838M1700.5 806V838M1758.5 806V838" stroke="#8cc09c" stroke-width="1" fill="none"/><path d="M122.5 806V838M141.5 806V838M160.5 806V838M207.5 806V838M226.5 806V838M245.5 806V838M334.5 806V838M466.5 806V838M534.5 806V838M609.5 806V838M690.5 806V838M770.5 806V838M792.5 806V838M811.5 806V838M911.5 806V838M928.5 806V838M948.5 806V838M1055.5 806V838M1106.5 806V838M1153.5 806V838M1209.5 806V838M1241.5 806V838M1297.5 806V838M1318.5 806V838M1405.5 806V838M1492.5 806V838M1580.5 806V838M1640.5 806V838M1701.5 806V838M1759.5 806V838" stroke="#e0ffe8" stroke-width="1" fill="none"/><path d="M140.5 838V998M159.5 838V998M206.5 838V998M225.5 838V998M244.5 838V998M333.5 838V998M465.5 838V998M533.5 838V998M608.5 838V998M689.5 838V998M769.5 838V998M791.5 838V998M810.5 838V998M910.5 838V998M927.5 838V998M947.5 838V998M1054.5 838V998M1105.5 838V998M1152.5 838V998M1208.5 838V998M1240.5 838V998M1296.5 838V998M1317.5 838V998M1404.5 838V998M1491.5 838V998M1579.5 838V998M1639.5 838V998M1700.5 838V998M1758.5 838V998" stroke="#b4b4b4" stroke-width="1" fill="none"/><path d="M122.5 838V998M141.5 838V998M160.5 838V998M207.5 838V998M226.5 838V998M245.5 838V998M334.5 838V998M466.5 838V998M534.5 838V998M609.5 838V998M690.5 838V998M770.5 838V998M792.5 838V998M811.5 838V998M911.5 838V998M928.5 838V998M948.5 838V998M1055.5 838V998M1106.5 838V998M1153.5 838V998M1209.5 838V998M1241.5 838V998M1297.5 838V998M1318.5 838V998M1405.5 838V998M1492.5 838V998M1580.5 838V998M1640.5 838V998M1701.5 838V998M1759.5 838V998" stroke="#ffffff" stroke-width="1" fill="none"/><path d="M121.5 166V998" stroke="#a8a8a8" stroke-width="1"/></svg>
<svg class="a" style="left:125px;top:166px" width="16" height="16"><use href="#i-in"/></svg>
<div class="cl" style="left:161px;top:166px;width:45px;color:#ececec;letter-spacing:-0.7px;padding-left:2px;">5</div>
<svg class="a" style="left:212px;top:167px" width="14" height="15"><use href="#i-wifi"/></svg>
<div class="cl" style="left:246px;top:166px;width:87px;color:#ececec;letter-spacing:-0.7px;padding-left:2px;">20180101012345</div>
<div class="cl" style="left:335px;top:166px;width:130px;color:#10107a;letter-spacing:-0.78px;padding-left:1px;">РАМАЗОТТИ*ЭРОС</div>
<svg class="a" style="left:472px;top:169px" width="10" height="10"><use href="#i-dot"/></svg>
<div class="a t" style="left:492px;top:166px;color:#ececec;font-size:12px;letter-spacing:-0.6px;">201</div>
<div class="cl" style="left:535px;top:166px;width:73px;color:#ececec;letter-spacing:-0.8px;padding-left:1px;">СЬЮТ</div>
<div class="cl" style="left:610px;top:166px;width:79px;color:#ececec;letter-spacing:-0.7px;padding-left:1px;">29.01.22  15:12</div>
<div class="cl" style="left:691px;top:166px;width:78px;color:#10107a;letter-spacing:-0.7px;padding-left:1px;">04.02.22  17:05</div>
<div class="cl" style="left:771px;top:166px;width:20px;color:#ececec;letter-spacing:-0.7px;text-align:right;padding-right:0px;">6</div>

<svg class="a" style="left:931px;top:166px" width="16" height="16"><use href="#i-globe"/></svg>
<div class="cl" style="left:949px;top:166px;width:105px;color:#ececec;letter-spacing:-1.09px;padding-left:1px;">BOOKING.COM</div>

<div class="cl" style="left:1107px;top:166px;width:45px;color:#ececec;letter-spacing:-0.7px;padding-left:1px;">434</div>
<div class="cl" style="left:1154px;top:166px;width:54px;color:#ececec;letter-spacing:-0.7px;text-align:right;padding-right:0px;">5600.00</div>
<div class="cl" style="left:1210px;top:166px;width:30px;color:#007a20;letter-spacing:-0.7px;padding-left:1px;">04.02</div>

<div class="cl" style="left:1319px;top:166px;width:85px;color:#ececec;letter-spacing:-0.8px;padding-left:1px;">СТАНДАРТ</div>
<div class="cl" style="left:1406px;top:166px;width:85px;color:#ececec;letter-spacing:-0.54px;padding-left:1px;">Полный пансион</div>


<div class="cl" style="left:1760px;top:166px;width:122px;color:#ececec;letter-spacing:-0.55px;padding-left:1px;">Италия</div>
<svg class="a" style="left:125px;top:182px" width="16" height="16"><use href="#i-in"/></svg>
<div class="cl" style="left:161px;top:182px;width:45px;color:#000;letter-spacing:-0.7px;padding-left:2px;">5</div>
<svg class="a" style="left:212px;top:183px" width="14" height="15"><use href="#i-wifi"/></svg>
<div class="cl" style="left:246px;top:182px;width:87px;color:#000;letter-spacing:-0.7px;padding-left:2px;">20180101012345</div>
<div class="cl" style="left:335px;top:182px;width:130px;color:#10107a;letter-spacing:-0.5px;padding-left:1px;">*</div>
<svg class="a" style="left:472px;top:185px" width="10" height="10"><use href="#i-dot"/></svg>
<div class="a t" style="left:492px;top:182px;color:#000;font-size:12px;letter-spacing:-0.6px;">201</div>
<div class="cl" style="left:535px;top:182px;width:73px;color:#000;letter-spacing:-0.8px;padding-left:1px;">СЬЮТ</div>
<div class="cl" style="left:610px;top:182px;width:79px;color:#000;letter-spacing:-0.7px;padding-left:1px;">29.01.22  15:12</div>
<div class="cl" style="left:691px;top:182px;width:78px;color:#10107a;letter-spacing:-0.7px;padding-left:1px;">04.02.22  17:05</div>
<div class="cl" style="left:771px;top:182px;width:20px;color:#000;letter-spacing:-0.7px;text-align:right;padding-right:0px;">6</div>

<svg class="a" style="left:931px;top:182px" width="16" height="16"><use href="#i-globe"/></svg>
<div class="cl" style="left:949px;top:182px;width:105px;color:#000;letter-spacing:-1.09px;padding-left:1px;">BOOKING.COM</div>

<div class="cl" style="left:1107px;top:182px;width:45px;color:#000;letter-spacing:-0.7px;padding-left:1px;">26</div>
<div class="cl" style="left:1154px;top:182px;width:54px;color:#000;letter-spacing:-0.7px;text-align:right;padding-right:0px;">5600.00</div>
<div class="cl" style="left:1210px;top:182px;width:30px;color:#007a20;letter-spacing:-0.7px;padding-left:1px;">04.02</div>
<div class="cl" style="left:1242px;top:182px;width:54px;color:#c01010;letter-spacing:-0.7px;text-align:right;padding-right:6px;">6800.00</div>
<div class="cl" style="left:1319px;top:182px;width:85px;color:#000;letter-spacing:-0.8px;padding-left:1px;">СТАНДАРТ</div>
<div class="cl" style="left:1406px;top:182px;width:85px;color:#000;letter-spacing:-0.54px;padding-left:1px;">Полный пансион</div>


<div class="cl" style="left:1760px;top:182px;width:122px;color:#000;letter-spacing:-0.55px;padding-left:1px;">Россия</div>
<svg class="a" style="left:125px;top:198px" width="16" height="16"><use href="#i-in"/></svg>
<div class="cl" style="left:161px;top:198px;width:45px;color:#000;letter-spacing:-0.7px;padding-left:2px;">2</div>

<div class="cl" style="left:335px;top:198px;width:130px;color:#10107a;letter-spacing:-0.8px;padding-left:1px;">МАМОНТОВ ИВАН</div>
<svg class="a" style="left:472px;top:201px" width="10" height="10"><use href="#i-dot"/></svg>
<div class="a t" style="left:492px;top:198px;color:#000;font-size:12px;letter-spacing:-0.6px;">103</div>
<div class="cl" style="left:535px;top:198px;width:73px;color:#000;letter-spacing:-0.8px;padding-left:1px;">ЛЮКС</div>
<div class="cl" style="left:610px;top:198px;width:79px;color:#000;letter-spacing:-0.7px;padding-left:1px;">01.02.22  15:06</div>
<div class="cl" style="left:691px;top:198px;width:78px;color:#10107a;letter-spacing:-0.7px;padding-left:1px;">04.02.22  21:00</div>
<div class="cl" style="left:771px;top:198px;width:20px;color:#000;letter-spacing:-0.7px;text-align:right;padding-right:0px;">3</div>

<svg class="a" style="left:914px;top:200px" width="14" height="14"><use href="#i-chk"/></svg>
<svg class="a" style="left:932px;top:198px" width="14" height="16"><use href="#i-bld"/></svg>
<div class="cl" style="left:949px;top:198px;width:105px;color:#000;letter-spacing:-0.59px;padding-left:1px;">НИИ Вулканизации</div>

<div class="cl" style="left:1107px;top:198px;width:45px;color:#000;letter-spacing:-0.7px;padding-left:1px;">22</div>
<div class="cl" style="left:1154px;top:198px;width:54px;color:#000;letter-spacing:-0.7px;text-align:right;padding-right:0px;">3250.00</div>
<div class="cl" style="left:1210px;top:198px;width:30px;color:#007a20;letter-spacing:-0.7px;padding-left:1px;">04.02</div>
<div class="cl" style="left:1242px;top:198px;width:54px;color:#c01010;letter-spacing:-0.7px;text-align:right;padding-right:6px;">3750.00</div>
<div class="cl" style="left:1319px;top:198px;width:85px;color:#000;letter-spacing:-0.74px;padding-left:1px;">-СТАНДАРТ-</div>
<div class="cl" style="left:1406px;top:198px;width:85px;color:#000;letter-spacing:-0.54px;padding-left:1px;">Завтрак</div>


<div class="cl" style="left:1760px;top:198px;width:122px;color:#000;letter-spacing:-0.55px;padding-left:1px;">Россия</div>
<svg class="a" style="left:125px;top:214px" width="16" height="16"><use href="#i-out"/></svg>
<div class="cl" style="left:161px;top:214px;width:45px;color:#000;letter-spacing:-0.7px;padding-left:2px;">18</div>
<svg class="a" style="left:211px;top:215px" width="14" height="14"><use href="#i-B"/></svg>

<div class="cl" style="left:335px;top:214px;width:130px;color:#10107a;letter-spacing:-0.8px;padding-left:1px;">ПЕТЕРБУРГОВ МАКСИМ</div>
<svg class="a" style="left:472px;top:217px" width="10" height="10"><use href="#i-dot"/></svg>
<div class="a t" style="left:492px;top:214px;color:#000;font-size:12px;letter-spacing:-0.6px;">207</div>
<div class="cl" style="left:535px;top:214px;width:73px;color:#000;letter-spacing:-0.8px;padding-left:1px;">СТАНДАРТ</div>
<div class="cl" style="left:610px;top:214px;width:79px;color:#000;letter-spacing:-0.7px;padding-left:1px;">01.02.22  15:41</div>
<div class="cl" style="left:691px;top:214px;width:78px;color:#10107a;letter-spacing:-0.7px;padding-left:1px;">04.02.22  15:41</div>
<div class="cl" style="left:771px;top:214px;width:20px;color:#000;letter-spacing:-0.7px;text-align:right;padding-right:0px;">3</div>

<svg class="a" style="left:932px;top:214px" width="14" height="16"><use href="#i-bld"/></svg>
<div class="cl" style="left:949px;top:214px;width:105px;color:#000;letter-spacing:-0.72px;padding-left:1px;">ООО &#x27;&#x27;ЭДЕЛИНК&#x27;&#x27;</div>

<div class="cl" style="left:1107px;top:214px;width:45px;color:#000;letter-spacing:-0.7px;padding-left:1px;">42</div>
<div class="cl" style="left:1154px;top:214px;width:54px;color:#000;letter-spacing:-0.7px;text-align:right;padding-right:0px;">1550.00</div>
<div class="a" style="left:1209px;top:215px;width:31px;height:14px;background:#0a5a18"></div>
<div class="cl" style="left:1210px;top:214px;width:30px;color:#fff;letter-spacing:-0.7px;padding-left:1px;">08.02</div>

<div class="cl" style="left:1319px;top:214px;width:85px;color:#000;letter-spacing:-0.52px;padding-left:1px;">Корпоративный</div>
<div class="cl" style="left:1406px;top:214px;width:85px;color:#000;letter-spacing:-0.54px;padding-left:1px;">Завтрак</div>
<div class="cl" style="left:1493px;top:214px;width:86px;color:#000;letter-spacing:-0.7px;padding-left:1px;">(812)4570707</div>

<div class="cl" style="left:1760px;top:214px;width:122px;color:#000;letter-spacing:-0.55px;padding-left:1px;">Россия</div>
<svg class="a" style="left:125px;top:230px" width="16" height="16"><use href="#i-in"/></svg>
<div class="cl" style="left:161px;top:230px;width:45px;color:#000;letter-spacing:-0.7px;padding-left:2px;">24</div>
<svg class="a" style="left:211px;top:231px" width="14" height="14"><use href="#i-dots"/></svg>
<div class="cl" style="left:246px;top:230px;width:87px;color:#000;letter-spacing:-0.73px;padding-left:2px;">TL-20181010-1234</div>
<div class="cl" style="left:335px;top:230px;width:130px;color:#10107a;letter-spacing:-1.13px;padding-left:1px;">CORLEONE MICHAEL</div>
<svg class="a" style="left:472px;top:233px" width="10" height="10"><use href="#i-dot"/></svg>
<div class="a t" style="left:492px;top:230px;color:#000;font-size:12px;letter-spacing:-0.6px;">502</div>
<div class="cl" style="left:535px;top:230px;width:73px;color:#000;letter-spacing:-0.8px;padding-left:1px;">СЬЮТ</div>
<div class="cl" style="left:610px;top:230px;width:79px;color:#000;letter-spacing:-0.7px;padding-left:1px;">01.02.22  15:50</div>
<div class="cl" style="left:691px;top:230px;width:78px;color:#10107a;letter-spacing:-0.7px;padding-left:1px;">07.02.22  12:00</div>
<div class="cl" style="left:771px;top:230px;width:20px;color:#000;letter-spacing:-0.7px;text-align:right;padding-right:0px;">6</div>

<svg class="a" style="left:931px;top:230px" width="16" height="16"><use href="#i-globe"/></svg>
<div class="cl" style="left:949px;top:230px;width:105px;color:#000;letter-spacing:-1.09px;padding-left:1px;">BOOKING.COM</div>

<div class="cl" style="left:1107px;top:230px;width:45px;color:#000;letter-spacing:-0.7px;padding-left:1px;">53</div>
<div class="cl" style="left:1154px;top:230px;width:54px;color:#000;letter-spacing:-0.7px;text-align:right;padding-right:0px;">3800.00</div>
<div class="cl" style="left:1210px;top:230px;width:30px;color:#007a20;letter-spacing:-0.7px;padding-left:1px;">07.02</div>

<svg class="a" style="left:1301px;top:230px" width="16" height="16"><use href="#i-excl"/></svg>
<div class="cl" style="left:1319px;top:230px;width:85px;color:#000;letter-spacing:-0.8px;padding-left:1px;">СТАНДАРТ</div>
<div class="cl" style="left:1406px;top:230px;width:85px;color:#000;letter-spacing:-0.54px;padding-left:1px;">Полный пансион</div>


<div class="cl" style="left:1760px;top:230px;width:122px;color:#000;letter-spacing:-0.55px;padding-left:1px;">Италия</div>
<svg class="a" style="left:125px;top:246px" width="16" height="16"><use href="#i-in"/></svg>
<div class="cl" style="left:161px;top:246px;width:45px;color:#000;letter-spacing:-0.7px;padding-left:2px;">128</div>

<div class="cl" style="left:335px;top:246px;width:130px;color:#10107a;letter-spacing:-0.8px;padding-left:1px;">КОНКИН</div>
<svg class="a" style="left:472px;top:249px" width="10" height="10"><use href="#i-dot"/></svg>
<div class="a t" style="left:492px;top:246px;color:#000;font-size:12px;letter-spacing:-0.6px;">507</div>
<div class="cl" style="left:535px;top:246px;width:73px;color:#000;letter-spacing:-0.8px;padding-left:1px;">СТАНДАРТ</div>
<div class="cl" style="left:610px;top:246px;width:79px;color:#000;letter-spacing:-0.7px;padding-left:1px;">01.02.22  23:59</div>
<div class="cl" style="left:691px;top:246px;width:78px;color:#10107a;letter-spacing:-0.7px;padding-left:1px;">04.02.22  15:01</div>
<div class="cl" style="left:771px;top:246px;width:20px;color:#000;letter-spacing:-0.7px;text-align:right;padding-right:0px;">3</div>
<svg class="a" style="left:795px;top:246px" width="16" height="16"><use href="#i-grp"/></svg>
<div class="cl" style="left:812px;top:246px;width:98px;color:#000;letter-spacing:-0.8px;padding-left:1px;">АКАДЕМСЕРВИС</div>
<svg class="a" style="left:914px;top:248px" width="14" height="14"><use href="#i-chk"/></svg>
<svg class="a" style="left:932px;top:246px" width="14" height="16"><use href="#i-bld"/></svg>
<div class="cl" style="left:949px;top:246px;width:105px;color:#000;letter-spacing:-0.53px;padding-left:1px;">Академсервис</div>

<div class="cl" style="left:1107px;top:246px;width:45px;color:#000;letter-spacing:-0.7px;padding-left:1px;">222</div>
<div class="cl" style="left:1154px;top:246px;width:54px;color:#000;letter-spacing:-0.7px;text-align:right;padding-right:0px;">2800.00</div>
<div class="cl" style="left:1210px;top:246px;width:30px;color:#007a20;letter-spacing:-0.7px;padding-left:1px;">04.02</div>

<div class="cl" style="left:1319px;top:246px;width:85px;color:#000;letter-spacing:-0.52px;padding-left:1px;">Корпоративный</div>
<div class="cl" style="left:1406px;top:246px;width:85px;color:#000;letter-spacing:-0.54px;padding-left:1px;">Полный пансион</div>


<div class="cl" style="left:1760px;top:246px;width:122px;color:#000;letter-spacing:-0.55px;padding-left:1px;">Россия</div>
<svg class="a" style="left:125px;top:262px" width="16" height="16"><use href="#i-in"/></svg>
<div class="cl" style="left:161px;top:262px;width:45px;color:#000;letter-spacing:-0.7px;padding-left:2px;">130</div>

<div class="cl" style="left:335px;top:262px;width:130px;color:#10107a;letter-spacing:-0.8px;padding-left:1px;">ПОТАПЕНКО</div>
<svg class="a" style="left:472px;top:265px" width="10" height="10"><use href="#i-dot"/></svg>
<div class="a t" style="left:492px;top:262px;color:#000;font-size:12px;letter-spacing:-0.6px;">504</div>
<div class="cl" style="left:535px;top:262px;width:73px;color:#000;letter-spacing:-0.75px;padding-left:1px;">1М</div>
<div class="cl" style="left:610px;top:262px;width:79px;color:#000;letter-spacing:-0.7px;padding-left:1px;">01.02.22  23:59</div>
<div class="cl" style="left:691px;top:262px;width:78px;color:#10107a;letter-spacing:-0.7px;padding-left:1px;">04.02.22  15:01</div>
<div class="cl" style="left:771px;top:262px;width:20px;color:#000;letter-spacing:-0.7px;text-align:right;padding-right:0px;">3</div>
<svg class="a" style="left:795px;top:262px" width="16" height="16"><use href="#i-grp"/></svg>
<div class="cl" style="left:812px;top:262px;width:98px;color:#000;letter-spacing:-0.8px;padding-left:1px;">АКАДЕМСЕРВИС</div>
<svg class="a" style="left:914px;top:264px" width="14" height="14"><use href="#i-chk"/></svg>
<svg class="a" style="left:932px;top:262px" width="14" height="16"><use href="#i-bld"/></svg>
<div class="cl" style="left:949px;top:262px;width:105px;color:#000;letter-spacing:-0.53px;padding-left:1px;">Академсервис</div>

<div class="cl" style="left:1107px;top:262px;width:45px;color:#000;letter-spacing:-0.7px;padding-left:1px;">198</div>
<div class="cl" style="left:1154px;top:262px;width:54px;color:#000;letter-spacing:-0.7px;text-align:right;padding-right:0px;">2100.00</div>
<div class="cl" style="left:1210px;top:262px;width:30px;color:#007a20;letter-spacing:-0.7px;padding-left:1px;">04.02</div>

<div class="cl" style="left:1319px;top:262px;width:85px;color:#000;letter-spacing:-0.52px;padding-left:1px;">Корпоративный</div>
<div class="cl" style="left:1406px;top:262px;width:85px;color:#000;letter-spacing:-0.54px;padding-left:1px;">Полный пансион</div>


<div class="cl" style="left:1760px;top:262px;width:122px;color:#000;letter-spacing:-0.55px;padding-left:1px;">Россия</div>
<svg class="a" style="left:125px;top:278px" width="16" height="16"><use href="#i-in"/></svg>
<div class="cl" style="left:161px;top:278px;width:45px;color:#000;letter-spacing:-0.7px;padding-left:2px;">125</div>

<div class="cl" style="left:335px;top:278px;width:130px;color:#10107a;letter-spacing:-0.8px;padding-left:1px;">МЕТКИН</div>
<svg class="a" style="left:472px;top:281px" width="10" height="10"><use href="#i-dot"/></svg>
<div class="a t" style="left:492px;top:278px;color:#000;font-size:12px;letter-spacing:-0.6px;">503</div>
<div class="cl" style="left:535px;top:278px;width:73px;color:#000;letter-spacing:-0.8px;padding-left:1px;">ЛЮКС</div>
<div class="cl" style="left:610px;top:278px;width:79px;color:#000;letter-spacing:-0.7px;padding-left:1px;">01.02.22  23:59</div>
<div class="cl" style="left:691px;top:278px;width:78px;color:#10107a;letter-spacing:-0.7px;padding-left:1px;">04.02.22  15:01</div>
<div class="cl" style="left:771px;top:278px;width:20px;color:#000;letter-spacing:-0.7px;text-align:right;padding-right:0px;">3</div>
<svg class="a" style="left:795px;top:278px" width="16" height="16"><use href="#i-grp"/></svg>
<div class="cl" style="left:812px;top:278px;width:98px;color:#000;letter-spacing:-0.8px;padding-left:1px;">АКАДЕМСЕРВИС</div>
<svg class="a" style="left:914px;top:280px" width="14" height="14"><use href="#i-chk"/></svg>
<svg class="a" style="left:932px;top:278px" width="14" height="16"><use href="#i-bld"/></svg>
<div class="cl" style="left:949px;top:278px;width:105px;color:#000;letter-spacing:-0.53px;padding-left:1px;">Академсервис</div>

<div class="cl" style="left:1107px;top:278px;width:45px;color:#000;letter-spacing:-0.7px;padding-left:1px;">226</div>
<div class="cl" style="left:1154px;top:278px;width:54px;color:#000;letter-spacing:-0.7px;text-align:right;padding-right:0px;">3000.00</div>
<div class="cl" style="left:1210px;top:278px;width:30px;color:#007a20;letter-spacing:-0.7px;padding-left:1px;">04.02</div>

<div class="cl" style="left:1319px;top:278px;width:85px;color:#000;letter-spacing:-0.52px;padding-left:1px;">Корпоративный</div>
<div class="cl" style="left:1406px;top:278px;width:85px;color:#000;letter-spacing:-0.54px;padding-left:1px;">Полный пансион</div>


<div class="cl" style="left:1760px;top:278px;width:122px;color:#000;letter-spacing:-0.55px;padding-left:1px;">Россия</div>
<svg class="a" style="left:125px;top:294px" width="16" height="16"><use href="#i-in"/></svg>
<div class="cl" style="left:161px;top:294px;width:45px;color:#000;letter-spacing:-0.7px;padding-left:2px;">125</div>

<div class="cl" style="left:335px;top:294px;width:130px;color:#10107a;letter-spacing:-0.8px;padding-left:1px;">МАРАТИЧ</div>
<svg class="a" style="left:472px;top:297px" width="10" height="10"><use href="#i-dot"/></svg>
<div class="a t" style="left:492px;top:294px;color:#000;font-size:12px;letter-spacing:-0.6px;">503</div>
<div class="cl" style="left:535px;top:294px;width:73px;color:#000;letter-spacing:-0.8px;padding-left:1px;">ЛЮКС</div>
<div class="cl" style="left:610px;top:294px;width:79px;color:#000;letter-spacing:-0.7px;padding-left:1px;">01.02.22  23:59</div>
<div class="cl" style="left:691px;top:294px;width:78px;color:#10107a;letter-spacing:-0.7px;padding-left:1px;">04.02.22  15:01</div>
<div class="cl" style="left:771px;top:294px;width:20px;color:#000;letter-spacing:-0.7px;text-align:right;padding-right:0px;">3</div>
<svg class="a" style="left:795px;top:294px" width="16" height="16"><use href="#i-grp"/></svg>
<div class="cl" style="left:812px;top:294px;width:98px;color:#000;letter-spacing:-0.8px;padding-left:1px;">АКАДЕМСЕРВИС</div>
<svg class="a" style="left:914px;top:296px" width="14" height="14"><use href="#i-chk"/></svg>
<svg class="a" style="left:932px;top:294px" width="14" height="16"><use href="#i-bld"/></svg>
<div class="cl" style="left:949px;top:294px;width:105px;color:#000;letter-spacing:-0.53px;padding-left:1px;">Академсервис</div>

<div class="cl" style="left:1107px;top:294px;width:45px;color:#000;letter-spacing:-0.7px;padding-left:1px;">193</div>
<div class="cl" style="left:1154px;top:294px;width:54px;color:#000;letter-spacing:-0.7px;text-align:right;padding-right:0px;">3000.00</div>
<div class="cl" style="left:1210px;top:294px;width:30px;color:#007a20;letter-spacing:-0.7px;padding-left:1px;">04.02</div>

<div class="cl" style="left:1319px;top:294px;width:85px;color:#000;letter-spacing:-0.52px;padding-left:1px;">Корпоративный</div>
<div class="cl" style="left:1406px;top:294px;width:85px;color:#000;letter-spacing:-0.54px;padding-left:1px;">Полный пансион</div>


<div class="cl" style="left:1760px;top:294px;width:122px;color:#000;letter-spacing:-0.55px;padding-left:1px;">Россия</div>
<svg class="a" style="left:125px;top:310px" width="16" height="16"><use href="#i-in"/></svg>
<div class="cl" style="left:161px;top:310px;width:45px;color:#000;letter-spacing:-0.7px;padding-left:2px;">130</div>

<div class="cl" style="left:335px;top:310px;width:130px;color:#10107a;letter-spacing:-0.8px;padding-left:1px;">ПОТАПЕНКО</div>
<svg class="a" style="left:472px;top:313px" width="10" height="10"><use href="#i-dot"/></svg>
<div class="a t" style="left:492px;top:310px;color:#000;font-size:12px;letter-spacing:-0.6px;">504</div>
<div class="cl" style="left:535px;top:310px;width:73px;color:#000;letter-spacing:-0.75px;padding-left:1px;">1М</div>
<div class="cl" style="left:610px;top:310px;width:79px;color:#000;letter-spacing:-0.7px;padding-left:1px;">01.02.22  23:59</div>
<div class="cl" style="left:691px;top:310px;width:78px;color:#10107a;letter-spacing:-0.7px;padding-left:1px;">04.02.22  15:01</div>
<div class="cl" style="left:771px;top:310px;width:20px;color:#000;letter-spacing:-0.7px;text-align:right;padding-right:0px;">3</div>
<svg class="a" style="left:795px;top:310px" width="16" height="16"><use href="#i-grp"/></svg>
<div class="cl" style="left:812px;top:310px;width:98px;color:#000;letter-spacing:-0.8px;padding-left:1px;">АКАДЕМСЕРВИС</div>
<svg class="a" style="left:914px;top:312px" width="14" height="14"><use href="#i-chk"/></svg>
<svg class="a" style="left:932px;top:310px" width="14" height="16"><use href="#i-bld"/></svg>
<div class="cl" style="left:949px;top:310px;width:105px;color:#000;letter-spacing:-0.53px;padding-left:1px;">Академсервис</div>

<div class="cl" style="left:1107px;top:310px;width:45px;color:#000;letter-spacing:-0.7px;padding-left:1px;">227</div>
<div class="cl" style="left:1154px;top:310px;width:54px;color:#000;letter-spacing:-0.7px;text-align:right;padding-right:0px;">2100.00</div>
<div class="cl" style="left:1210px;top:310px;width:30px;color:#007a20;letter-spacing:-0.7px;padding-left:1px;">04.02</div>

<div class="cl" style="left:1319px;top:310px;width:85px;color:#000;letter-spacing:-0.52px;padding-left:1px;">Корпоративный</div>
<div class="cl" style="left:1406px;top:310px;width:85px;color:#000;letter-spacing:-0.54px;padding-left:1px;">Полный пансион</div>


<div class="cl" style="left:1760px;top:310px;width:122px;color:#000;letter-spacing:-0.55px;padding-left:1px;">Россия</div>
<svg class="a" style="left:125px;top:326px" width="16" height="16"><use href="#i-in"/></svg>
<div class="cl" style="left:161px;top:326px;width:45px;color:#000;letter-spacing:-0.7px;padding-left:2px;">128</div>

<div class="cl" style="left:335px;top:326px;width:130px;color:#10107a;letter-spacing:-0.8px;padding-left:1px;">ВЛАДИЧ</div>
<svg class="a" style="left:472px;top:329px" width="10" height="10"><use href="#i-dot"/></svg>
<div class="a t" style="left:492px;top:326px;color:#000;font-size:12px;letter-spacing:-0.6px;">507</div>
<div class="cl" style="left:535px;top:326px;width:73px;color:#000;letter-spacing:-0.8px;padding-left:1px;">СТАНДАРТ</div>
<div class="cl" style="left:610px;top:326px;width:79px;color:#000;letter-spacing:-0.7px;padding-left:1px;">01.02.22  23:59</div>
<div class="cl" style="left:691px;top:326px;width:78px;color:#10107a;letter-spacing:-0.7px;padding-left:1px;">04.02.22  15:01</div>
<div class="cl" style="left:771px;top:326px;width:20px;color:#000;letter-spacing:-0.7px;text-align:right;padding-right:0px;">3</div>
<svg class="a" style="left:795px;top:326px" width="16" height="16"><use href="#i-grp"/></svg>
<div class="cl" style="left:812px;top:326px;width:98px;color:#000;letter-spacing:-0.8px;padding-left:1px;">АКАДЕМСЕРВИС</div>
<svg class="a" style="left:914px;top:328px" width="14" height="14"><use href="#i-chk"/></svg>
<svg class="a" style="left:932px;top:326px" width="14" height="16"><use href="#i-bld"/></svg>
<div class="cl" style="left:949px;top:326px;width:105px;color:#000;letter-spacing:-0.53px;padding-left:1px;">Академсервис</div>

<div class="cl" style="left:1107px;top:326px;width:45px;color:#000;letter-spacing:-0.7px;padding-left:1px;">196</div>
<div class="cl" style="left:1154px;top:326px;width:54px;color:#000;letter-spacing:-0.7px;text-align:right;padding-right:0px;">2800.00</div>
<div class="cl" style="left:1210px;top:326px;width:30px;color:#007a20;letter-spacing:-0.7px;padding-left:1px;">04.02</div>

<div class="cl" style="left:1319px;top:326px;width:85px;color:#000;letter-spacing:-0.52px;padding-left:1px;">Корпоративный</div>
<div class="cl" style="left:1406px;top:326px;width:85px;color:#000;letter-spacing:-0.54px;padding-left:1px;">Полный пансион</div>


<div class="cl" style="left:1760px;top:326px;width:122px;color:#000;letter-spacing:-0.55px;padding-left:1px;">Россия</div>
<svg class="a" style="left:125px;top:342px" width="16" height="16"><use href="#i-in"/></svg>
<div class="cl" style="left:161px;top:342px;width:45px;color:#000;letter-spacing:-0.7px;padding-left:2px;">6</div>

<div class="cl" style="left:335px;top:342px;width:130px;color:#10107a;letter-spacing:-0.8px;padding-left:1px;">ПЕРСИКОВА СНЕЖАНА</div>
<svg class="a" style="left:472px;top:345px" width="10" height="10"><use href="#i-dot"/></svg>
<div class="a t" style="left:492px;top:342px;color:#000;font-size:12px;letter-spacing:-0.6px;">105</div>
<div class="cl" style="left:535px;top:342px;width:73px;color:#000;letter-spacing:-0.8px;padding-left:1px;">СТАНДАРТ</div>
<div class="cl" style="left:610px;top:342px;width:79px;color:#000;letter-spacing:-0.7px;padding-left:1px;">02.02.22  15:33</div>
<div class="cl" style="left:691px;top:342px;width:78px;color:#d01010;letter-spacing:-0.7px;padding-left:1px;">04.02.22  11:44</div>
<div class="cl" style="left:771px;top:342px;width:20px;color:#000;letter-spacing:-0.7px;text-align:right;padding-right:0px;">2</div>
<svg class="a" style="left:795px;top:342px" width="16" height="16"><use href="#i-grp"/></svg>
<div class="cl" style="left:812px;top:342px;width:98px;color:#000;letter-spacing:-0.53px;padding-left:1px;">Конгресс дегустаторов</div>
<svg class="a" style="left:932px;top:342px" width="14" height="16"><use href="#i-bld"/></svg>
<div class="cl" style="left:949px;top:342px;width:105px;color:#000;letter-spacing:-0.64px;padding-left:1px;">ОАО &#x27;&#x27;ДАНОН Индустрия&#x27;&#x27;</div>

<div class="cl" style="left:1107px;top:342px;width:45px;color:#000;letter-spacing:-0.7px;padding-left:1px;">34</div>
<div class="cl" style="left:1154px;top:342px;width:54px;color:#000;letter-spacing:-0.7px;text-align:right;padding-right:0px;">2200.00</div>
<div class="cl" style="left:1210px;top:342px;width:30px;color:#007a20;letter-spacing:-0.7px;padding-left:1px;">04.02</div>

<div class="cl" style="left:1319px;top:342px;width:85px;color:#000;letter-spacing:-0.52px;padding-left:1px;">Корпоративный</div>
<div class="cl" style="left:1406px;top:342px;width:85px;color:#000;letter-spacing:-0.54px;padding-left:1px;">Завтрак</div>


<div class="cl" style="left:1760px;top:342px;width:122px;color:#000;letter-spacing:-0.55px;padding-left:1px;">Россия</div>
<svg class="a" style="left:125px;top:358px" width="16" height="16"><use href="#i-in"/></svg>
<div class="cl" style="left:161px;top:358px;width:45px;color:#000;letter-spacing:-0.7px;padding-left:2px;">8</div>

<div class="cl" style="left:335px;top:358px;width:130px;color:#10107a;letter-spacing:-0.8px;padding-left:1px;">ЕЖЕВИКИНА СВЕТЛАНА</div>
<svg class="a" style="left:472px;top:361px" width="10" height="10"><use href="#i-dot"/></svg>
<div class="a t" style="left:492px;top:358px;color:#000;font-size:12px;letter-spacing:-0.6px;">107</div>
<div class="cl" style="left:535px;top:358px;width:73px;color:#000;letter-spacing:-0.8px;padding-left:1px;">СТАНДАРТ</div>
<div class="cl" style="left:610px;top:358px;width:79px;color:#000;letter-spacing:-0.7px;padding-left:1px;">02.02.22  15:33</div>
<div class="cl" style="left:691px;top:358px;width:78px;color:#10107a;letter-spacing:-0.7px;padding-left:1px;">05.02.22  12:00</div>
<div class="cl" style="left:771px;top:358px;width:20px;color:#000;letter-spacing:-0.7px;text-align:right;padding-right:0px;">3</div>
<svg class="a" style="left:795px;top:358px" width="16" height="16"><use href="#i-grp"/></svg>
<div class="cl" style="left:812px;top:358px;width:98px;color:#000;letter-spacing:-0.53px;padding-left:1px;">Конгресс дегустаторов</div>
<svg class="a" style="left:932px;top:358px" width="14" height="16"><use href="#i-bld"/></svg>
<div class="cl" style="left:949px;top:358px;width:105px;color:#000;letter-spacing:-0.64px;padding-left:1px;">ОАО &#x27;&#x27;ДАНОН Индустрия&#x27;&#x27;</div>

<div class="cl" style="left:1107px;top:358px;width:45px;color:#000;letter-spacing:-0.7px;padding-left:1px;">30</div>
<div class="cl" style="left:1154px;top:358px;width:54px;color:#000;letter-spacing:-0.7px;text-align:right;padding-right:0px;">2200.00</div>
<div class="cl" style="left:1210px;top:358px;width:30px;color:#007a20;letter-spacing:-0.7px;padding-left:1px;">05.02</div>

<div class="cl" style="left:1319px;top:358px;width:85px;color:#000;letter-spacing:-0.52px;padding-left:1px;">Корпоративный</div>
<div class="cl" style="left:1406px;top:358px;width:85px;color:#000;letter-spacing:-0.54px;padding-left:1px;">Завтрак</div>


<div class="cl" style="left:1760px;top:358px;width:122px;color:#000;letter-spacing:-0.55px;padding-left:1px;">Россия</div>
<svg class="a" style="left:125px;top:374px" width="16" height="16"><use href="#i-in"/></svg>
<div class="cl" style="left:161px;top:374px;width:45px;color:#000;letter-spacing:-0.7px;padding-left:2px;">8</div>

<div class="cl" style="left:335px;top:374px;width:130px;color:#10107a;letter-spacing:-0.8px;padding-left:1px;">СМОРОДИНОВ ИВАН</div>
<svg class="a" style="left:472px;top:377px" width="10" height="10"><use href="#i-dot"/></svg>
<div class="a t" style="left:492px;top:374px;color:#000;font-size:12px;letter-spacing:-0.6px;">107</div>
<div class="cl" style="left:535px;top:374px;width:73px;color:#000;letter-spacing:-0.8px;padding-left:1px;">СТАНДАРТ</div>
<div class="cl" style="left:610px;top:374px;width:79px;color:#000;letter-spacing:-0.7px;padding-left:1px;">02.02.22  15:33</div>
<div class="cl" style="left:691px;top:374px;width:78px;color:#10107a;letter-spacing:-0.7px;padding-left:1px;">05.02.22  12:00</div>
<div class="cl" style="left:771px;top:374px;width:20px;color:#000;letter-spacing:-0.7px;text-align:right;padding-right:0px;">3</div>
<svg class="a" style="left:795px;top:374px" width="16" height="16"><use href="#i-grp"/></svg>
<div class="cl" style="left:812px;top:374px;width:98px;color:#000;letter-spacing:-0.53px;padding-left:1px;">Конгресс дегустаторов</div>
<svg class="a" style="left:932px;top:374px" width="14" height="16"><use href="#i-bld"/></svg>
<div class="cl" style="left:949px;top:374px;width:105px;color:#000;letter-spacing:-0.64px;padding-left:1px;">ОАО &#x27;&#x27;ДАНОН Индустрия&#x27;&#x27;</div>

<div class="cl" style="left:1107px;top:374px;width:45px;color:#000;letter-spacing:-0.7px;padding-left:1px;">36</div>
<div class="cl" style="left:1154px;top:374px;width:54px;color:#000;letter-spacing:-0.7px;text-align:right;padding-right:0px;">2200.00</div>
<div class="cl" style="left:1210px;top:374px;width:30px;color:#007a20;letter-spacing:-0.7px;padding-left:1px;">05.02</div>

<div class="cl" style="left:1319px;top:374px;width:85px;color:#000;letter-spacing:-0.52px;padding-left:1px;">Корпоративный</div>
<div class="cl" style="left:1406px;top:374px;width:85px;color:#000;letter-spacing:-0.54px;padding-left:1px;">Завтрак</div>


<div class="cl" style="left:1760px;top:374px;width:122px;color:#000;letter-spacing:-0.55px;padding-left:1px;">Россия</div>
<svg class="a" style="left:125px;top:390px" width="16" height="16"><use href="#i-in"/></svg>
<div class="cl" style="left:161px;top:390px;width:45px;color:#000;letter-spacing:-0.7px;padding-left:2px;">6</div>

<div class="cl" style="left:335px;top:390px;width:130px;color:#10107a;letter-spacing:-0.8px;padding-left:1px;">ЯБЛОКОВ ПЕТР</div>
<svg class="a" style="left:472px;top:393px" width="10" height="10"><use href="#i-dot"/></svg>
<div class="a t" style="left:492px;top:390px;color:#000;font-size:12px;letter-spacing:-0.6px;">105</div>
<div class="cl" style="left:535px;top:390px;width:73px;color:#000;letter-spacing:-0.8px;padding-left:1px;">СТАНДАРТ</div>
<div class="cl" style="left:610px;top:390px;width:79px;color:#000;letter-spacing:-0.7px;padding-left:1px;">02.02.22  15:33</div>
<div class="cl" style="left:691px;top:390px;width:78px;color:#d01010;letter-spacing:-0.7px;padding-left:1px;">04.02.22  11:44</div>
<div class="cl" style="left:771px;top:390px;width:20px;color:#000;letter-spacing:-0.7px;text-align:right;padding-right:0px;">2</div>
<svg class="a" style="left:795px;top:390px" width="16" height="16"><use href="#i-grp"/></svg>
<div class="cl" style="left:812px;top:390px;width:98px;color:#000;letter-spacing:-0.53px;padding-left:1px;">Конгресс дегустаторов</div>
<svg class="a" style="left:932px;top:390px" width="14" height="16"><use href="#i-bld"/></svg>
<div class="cl" style="left:949px;top:390px;width:105px;color:#000;letter-spacing:-0.64px;padding-left:1px;">ОАО &#x27;&#x27;ДАНОН Индустрия&#x27;&#x27;</div>

<div class="cl" style="left:1107px;top:390px;width:45px;color:#000;letter-spacing:-0.7px;padding-left:1px;">28</div>
<div class="cl" style="left:1154px;top:390px;width:54px;color:#000;letter-spacing:-0.7px;text-align:right;padding-right:0px;">2200.00</div>
<div class="cl" style="left:1210px;top:390px;width:30px;color:#007a20;letter-spacing:-0.7px;padding-left:1px;">04.02</div>

<div class="cl" style="left:1319px;top:390px;width:85px;color:#000;letter-spacing:-0.52px;padding-left:1px;">Корпоративный</div>
<div class="cl" style="left:1406px;top:390px;width:85px;color:#000;letter-spacing:-0.54px;padding-left:1px;">Завтрак</div>


<div class="cl" style="left:1760px;top:390px;width:122px;color:#000;letter-spacing:-0.55px;padding-left:1px;">Россия</div>
<svg class="a" style="left:125px;top:406px" width="16" height="16"><use href="#i-in"/></svg>
<div class="cl" style="left:161px;top:406px;width:45px;color:#000;letter-spacing:-0.7px;padding-left:2px;">9</div>

<div class="cl" style="left:335px;top:406px;width:130px;color:#10107a;letter-spacing:-0.8px;padding-left:1px;">ГРУШЕВА ТАТЬЯНА</div>
<svg class="a" style="left:472px;top:409px" width="10" height="10"><use href="#i-dot"/></svg>
<div class="a t" style="left:492px;top:406px;color:#000;font-size:12px;letter-spacing:-0.6px;">108</div>
<div class="cl" style="left:535px;top:406px;width:73px;color:#000;letter-spacing:-0.8px;padding-left:1px;">СТАНДАРТ</div>
<div class="cl" style="left:610px;top:406px;width:79px;color:#000;letter-spacing:-0.7px;padding-left:1px;">02.02.22  15:33</div>
<div class="cl" style="left:691px;top:406px;width:78px;color:#10107a;letter-spacing:-0.7px;padding-left:1px;">05.02.22  09:00</div>
<div class="cl" style="left:771px;top:406px;width:20px;color:#000;letter-spacing:-0.7px;text-align:right;padding-right:0px;">3</div>
<svg class="a" style="left:795px;top:406px" width="16" height="16"><use href="#i-grp"/></svg>
<div class="cl" style="left:812px;top:406px;width:98px;color:#000;letter-spacing:-0.53px;padding-left:1px;">Конгресс дегустаторов</div>
<svg class="a" style="left:932px;top:406px" width="14" height="16"><use href="#i-bld"/></svg>
<div class="cl" style="left:949px;top:406px;width:105px;color:#000;letter-spacing:-0.64px;padding-left:1px;">ОАО &#x27;&#x27;ДАНОН Индустрия&#x27;&#x27;</div>

<div class="cl" style="left:1107px;top:406px;width:45px;color:#000;letter-spacing:-0.7px;padding-left:1px;">31</div>
<div class="cl" style="left:1154px;top:406px;width:54px;color:#000;letter-spacing:-0.7px;text-align:right;padding-right:0px;">2200.00</div>
<div class="cl" style="left:1210px;top:406px;width:30px;color:#007a20;letter-spacing:-0.7px;padding-left:1px;">05.02</div>

<div class="cl" style="left:1319px;top:406px;width:85px;color:#000;letter-spacing:-0.52px;padding-left:1px;">Корпоративный</div>
<div class="cl" style="left:1406px;top:406px;width:85px;color:#000;letter-spacing:-0.54px;padding-left:1px;">Завтрак</div>


<div class="cl" style="left:1760px;top:406px;width:122px;color:#000;letter-spacing:-0.55px;padding-left:1px;">Россия</div>
<svg class="a" style="left:125px;top:422px" width="16" height="16"><use href="#i-in"/></svg>
<div class="cl" style="left:161px;top:422px;width:45px;color:#000;letter-spacing:-0.7px;padding-left:2px;">9</div>

<div class="cl" style="left:335px;top:422px;width:130px;color:#10107a;letter-spacing:-0.8px;padding-left:1px;">ВИШНЕВКИЙ СЕМЁН</div>
<svg class="a" style="left:472px;top:425px" width="10" height="10"><use href="#i-dot"/></svg>
<div class="a t" style="left:492px;top:422px;color:#000;font-size:12px;letter-spacing:-0.6px;">108</div>
<div class="cl" style="left:535px;top:422px;width:73px;color:#000;letter-spacing:-0.8px;padding-left:1px;">СТАНДАРТ</div>
<div class="cl" style="left:610px;top:422px;width:79px;color:#000;letter-spacing:-0.7px;padding-left:1px;">02.02.22  15:33</div>
<div class="cl" style="left:691px;top:422px;width:78px;color:#10107a;letter-spacing:-0.7px;padding-left:1px;">05.02.22  09:00</div>
<div class="cl" style="left:771px;top:422px;width:20px;color:#000;letter-spacing:-0.7px;text-align:right;padding-right:0px;">3</div>
<svg class="a" style="left:795px;top:422px" width="16" height="16"><use href="#i-grp"/></svg>
<div class="cl" style="left:812px;top:422px;width:98px;color:#000;letter-spacing:-0.53px;padding-left:1px;">Конгресс дегустаторов</div>
<svg class="a" style="left:932px;top:422px" width="14" height="16"><use href="#i-bld"/></svg>
<div class="cl" style="left:949px;top:422px;width:105px;color:#000;letter-spacing:-0.64px;padding-left:1px;">ОАО &#x27;&#x27;ДАНОН Индустрия&#x27;&#x27;</div>

<div class="cl" style="left:1107px;top:422px;width:45px;color:#000;letter-spacing:-0.7px;padding-left:1px;">37</div>
<div class="cl" style="left:1154px;top:422px;width:54px;color:#000;letter-spacing:-0.7px;text-align:right;padding-right:0px;">2200.00</div>
<div class="cl" style="left:1210px;top:422px;width:30px;color:#007a20;letter-spacing:-0.7px;padding-left:1px;">05.02</div>

<div class="cl" style="left:1319px;top:422px;width:85px;color:#000;letter-spacing:-0.52px;padding-left:1px;">Корпоративный</div>
<div class="cl" style="left:1406px;top:422px;width:85px;color:#000;letter-spacing:-0.54px;padding-left:1px;">Завтрак</div>


<div class="cl" style="left:1760px;top:422px;width:122px;color:#000;letter-spacing:-0.55px;padding-left:1px;">Россия</div>
<svg class="a" style="left:125px;top:438px" width="16" height="16"><use href="#i-in"/></svg>
<div class="cl" style="left:161px;top:438px;width:45px;color:#000;letter-spacing:-0.7px;padding-left:2px;">7</div>

<div class="cl" style="left:335px;top:438px;width:130px;color:#10107a;letter-spacing:-0.8px;padding-left:1px;">АБРИКОСОВ ПАВЕЛ</div>
<svg class="a" style="left:472px;top:441px" width="10" height="10"><use href="#i-dot"/></svg>
<div class="a t" style="left:492px;top:438px;color:#000;font-size:12px;letter-spacing:-0.6px;">106</div>
<div class="cl" style="left:535px;top:438px;width:73px;color:#000;letter-spacing:-0.8px;padding-left:1px;">СТАНДАРТ</div>
<div class="cl" style="left:610px;top:438px;width:79px;color:#000;letter-spacing:-0.7px;padding-left:1px;">02.02.22  15:33</div>
<div class="cl" style="left:691px;top:438px;width:78px;color:#10107a;letter-spacing:-0.7px;padding-left:1px;">08.02.22  12:00</div>
<div class="cl" style="left:771px;top:438px;width:20px;color:#000;letter-spacing:-0.7px;text-align:right;padding-right:0px;">6</div>
<svg class="a" style="left:795px;top:438px" width="16" height="16"><use href="#i-grp"/></svg>
<div class="cl" style="left:812px;top:438px;width:98px;color:#000;letter-spacing:-0.53px;padding-left:1px;">Конгресс дегустаторов</div>
<svg class="a" style="left:932px;top:438px" width="14" height="16"><use href="#i-bld"/></svg>
<div class="cl" style="left:949px;top:438px;width:105px;color:#000;letter-spacing:-0.64px;padding-left:1px;">ОАО &#x27;&#x27;ДАНОН Индустрия&#x27;&#x27;</div>

<div class="cl" style="left:1107px;top:438px;width:45px;color:#000;letter-spacing:-0.7px;padding-left:1px;">29</div>
<div class="cl" style="left:1154px;top:438px;width:54px;color:#000;letter-spacing:-0.7px;text-align:right;padding-right:0px;">2200.00</div>
<div class="a" style="left:1209px;top:439px;width:31px;height:14px;background:#b80e14"></div>
<div class="cl" style="left:1210px;top:438px;width:30px;color:#fff;letter-spacing:-0.7px;padding-left:1px;">05.02</div>

<div class="cl" style="left:1319px;top:438px;width:85px;color:#000;letter-spacing:-0.52px;padding-left:1px;">Корпоративный</div>
<div class="cl" style="left:1406px;top:438px;width:85px;color:#000;letter-spacing:-0.54px;padding-left:1px;">Завтрак</div>


<div class="cl" style="left:1760px;top:438px;width:122px;color:#000;letter-spacing:-0.55px;padding-left:1px;">Россия</div>
<svg class="a" style="left:125px;top:454px" width="16" height="16"><use href="#i-in"/></svg>
<div class="cl" style="left:161px;top:454px;width:45px;color:#000;letter-spacing:-0.7px;padding-left:2px;">7</div>

<div class="cl" style="left:335px;top:454px;width:130px;color:#10107a;letter-spacing:-0.8px;padding-left:1px;">ЧЕРНИКИНА ЕЛЕНА</div>
<svg class="a" style="left:472px;top:457px" width="10" height="10"><use href="#i-dot"/></svg>
<div class="a t" style="left:492px;top:454px;color:#000;font-size:12px;letter-spacing:-0.6px;">106</div>
<div class="cl" style="left:535px;top:454px;width:73px;color:#000;letter-spacing:-0.8px;padding-left:1px;">СТАНДАРТ</div>
<div class="cl" style="left:610px;top:454px;width:79px;color:#000;letter-spacing:-0.7px;padding-left:1px;">02.02.22  15:33</div>
<div class="cl" style="left:691px;top:454px;width:78px;color:#10107a;letter-spacing:-0.7px;padding-left:1px;">08.02.22  12:00</div>
<div class="cl" style="left:771px;top:454px;width:20px;color:#000;letter-spacing:-0.7px;text-align:right;padding-right:0px;">6</div>
<svg class="a" style="left:795px;top:454px" width="16" height="16"><use href="#i-grp"/></svg>
<div class="cl" style="left:812px;top:454px;width:98px;color:#000;letter-spacing:-0.53px;padding-left:1px;">Конгресс дегустаторов</div>
<svg class="a" style="left:932px;top:454px" width="14" height="16"><use href="#i-bld"/></svg>
<div class="cl" style="left:949px;top:454px;width:105px;color:#000;letter-spacing:-0.64px;padding-left:1px;">ОАО &#x27;&#x27;ДАНОН Индустрия&#x27;&#x27;</div>

<div class="cl" style="left:1107px;top:454px;width:45px;color:#000;letter-spacing:-0.7px;padding-left:1px;">35</div>
<div class="cl" style="left:1154px;top:454px;width:54px;color:#000;letter-spacing:-0.7px;text-align:right;padding-right:0px;">2200.00</div>
<div class="a" style="left:1209px;top:455px;width:31px;height:14px;background:#b80e14"></div>
<div class="cl" style="left:1210px;top:454px;width:30px;color:#fff;letter-spacing:-0.7px;padding-left:1px;">05.02</div>

<div class="cl" style="left:1319px;top:454px;width:85px;color:#000;letter-spacing:-0.52px;padding-left:1px;">Корпоративный</div>
<div class="cl" style="left:1406px;top:454px;width:85px;color:#000;letter-spacing:-0.54px;padding-left:1px;">Завтрак</div>


<div class="cl" style="left:1760px;top:454px;width:122px;color:#000;letter-spacing:-0.55px;padding-left:1px;">Россия</div>
<svg class="a" style="left:125px;top:470px" width="16" height="16"><use href="#i-in"/></svg>
<div class="cl" style="left:161px;top:470px;width:45px;color:#000;letter-spacing:-0.7px;padding-left:2px;">23</div>
<svg class="a" style="left:211px;top:471px" width="14" height="14"><use href="#i-wb"/></svg>

<div class="cl" style="left:335px;top:470px;width:130px;color:#10107a;letter-spacing:-0.8px;padding-left:1px;">КУРАКИН СТАНИСЛАВ</div>
<svg class="a" style="left:472px;top:473px" width="10" height="10"><use href="#i-dot"/></svg>
<div class="a t" style="left:492px;top:470px;color:#000;font-size:12px;letter-spacing:-0.6px;">407</div>
<div class="cl" style="left:535px;top:470px;width:73px;color:#000;letter-spacing:-0.8px;padding-left:1px;">СТАНДАРТ</div>
<div class="cl" style="left:610px;top:470px;width:79px;color:#000;letter-spacing:-0.7px;padding-left:1px;">02.02.22  15:49</div>
<div class="cl" style="left:691px;top:470px;width:78px;color:#10107a;letter-spacing:-0.7px;padding-left:1px;">05.02.22  12:00</div>
<div class="cl" style="left:771px;top:470px;width:20px;color:#000;letter-spacing:-0.7px;text-align:right;padding-right:0px;">3</div>

<svg class="a" style="left:931px;top:470px" width="16" height="16"><use href="#i-globe"/></svg>
<div class="cl" style="left:949px;top:470px;width:105px;color:#000;letter-spacing:-1.09px;padding-left:1px;">BOOKING.COM</div>

<div class="cl" style="left:1107px;top:470px;width:45px;color:#000;letter-spacing:-0.7px;padding-left:1px;">51</div>
<div class="cl" style="left:1154px;top:470px;width:54px;color:#000;letter-spacing:-0.7px;text-align:right;padding-right:0px;">3250.00</div>
<div class="cl" style="left:1210px;top:470px;width:30px;color:#007a20;letter-spacing:-0.7px;padding-left:1px;">05.02</div>
<div class="cl" style="left:1242px;top:470px;width:54px;color:#c01010;letter-spacing:-0.7px;text-align:right;padding-right:6px;">28.00</div>
<div class="cl" style="left:1319px;top:470px;width:85px;color:#000;letter-spacing:-0.8px;padding-left:1px;">СТАНДАРТ</div>
<div class="cl" style="left:1406px;top:470px;width:85px;color:#000;letter-spacing:-0.54px;padding-left:1px;">Завтрак</div>


<div class="cl" style="left:1760px;top:470px;width:122px;color:#000;letter-spacing:-0.55px;padding-left:1px;">Россия</div>
<svg class="a" style="left:125px;top:486px" width="16" height="16"><use href="#i-in"/></svg>
<div class="cl" style="left:161px;top:486px;width:45px;color:#000;letter-spacing:-0.7px;padding-left:2px;">25</div>

<div class="cl" style="left:335px;top:486px;width:130px;color:#10107a;letter-spacing:-0.8px;padding-left:1px;">ВОРОШИЛОВ КЛЕМЕНТ</div>
<svg class="a" style="left:472px;top:489px" width="10" height="10"><use href="#i-dot"/></svg>
<div class="a t" style="left:492px;top:486px;color:#000;font-size:12px;letter-spacing:-0.6px;">508</div>
<div class="cl" style="left:535px;top:486px;width:73px;color:#000;letter-spacing:-0.8px;padding-left:1px;">СТАНДАРТ</div>
<div class="cl" style="left:610px;top:486px;width:79px;color:#000;letter-spacing:-0.7px;padding-left:1px;">02.02.22  15:51</div>
<div class="cl" style="left:691px;top:486px;width:78px;color:#d01010;letter-spacing:-0.7px;padding-left:1px;">04.02.22  10:41</div>
<div class="cl" style="left:771px;top:486px;width:20px;color:#000;letter-spacing:-0.7px;text-align:right;padding-right:0px;">2</div>

<svg class="a" style="left:932px;top:486px" width="14" height="16"><use href="#i-bld"/></svg>
<div class="cl" style="left:949px;top:486px;width:105px;color:#000;letter-spacing:-0.59px;padding-left:1px;">НИИ Вулканизации</div>

<div class="cl" style="left:1107px;top:486px;width:45px;color:#000;letter-spacing:-0.7px;padding-left:1px;">55</div>
<div class="cl" style="left:1154px;top:486px;width:54px;color:#000;letter-spacing:-0.7px;text-align:right;padding-right:0px;">3250.00</div>
<div class="cl" style="left:1210px;top:486px;width:30px;color:#007a20;letter-spacing:-0.7px;padding-left:1px;">04.02</div>
<div class="cl" style="left:1242px;top:486px;width:54px;color:#c01010;letter-spacing:-0.7px;text-align:right;padding-right:6px;">3250.00</div>
<div class="cl" style="left:1319px;top:486px;width:85px;color:#000;letter-spacing:-0.8px;padding-left:1px;">СТАНДАРТ</div>
<div class="cl" style="left:1406px;top:486px;width:85px;color:#000;letter-spacing:-0.54px;padding-left:1px;">Завтрак</div>
<div class="cl" style="left:1493px;top:486px;width:86px;color:#000;letter-spacing:-0.7px;padding-left:1px;">(8666)2555555</div>

<div class="cl" style="left:1760px;top:486px;width:122px;color:#000;letter-spacing:-0.54px;padding-left:1px;">Беларусь</div>
<svg class="a" style="left:125px;top:502px" width="16" height="16"><use href="#i-in"/></svg>
<div class="cl" style="left:161px;top:502px;width:45px;color:#000;letter-spacing:-0.7px;padding-left:2px;">76</div>
<svg class="a" style="left:211px;top:503px" width="14" height="14"><use href="#i-wb"/></svg>

<div class="cl" style="left:335px;top:502px;width:130px;color:#10107a;letter-spacing:-0.8px;padding-left:1px;">ПЕТЕРБУРГОВ МАКСИМ</div>
<svg class="a" style="left:472px;top:505px" width="10" height="10"><use href="#i-dot"/></svg>
<div class="a t" style="left:492px;top:502px;color:#000;font-size:12px;letter-spacing:-0.6px;">102</div>
<div class="cl" style="left:535px;top:502px;width:73px;color:#000;letter-spacing:-0.8px;padding-left:1px;">СЬЮТ</div>
<div class="cl" style="left:610px;top:502px;width:79px;color:#000;letter-spacing:-0.7px;padding-left:1px;">03.02.22  17:04</div>
<div class="cl" style="left:691px;top:502px;width:78px;color:#10107a;letter-spacing:-0.7px;padding-left:1px;">10.02.22  12:00</div>
<div class="cl" style="left:771px;top:502px;width:20px;color:#000;letter-spacing:-0.7px;text-align:right;padding-right:0px;">7</div>

<svg class="a" style="left:914px;top:504px" width="14" height="14"><use href="#i-chk"/></svg>
<svg class="a" style="left:932px;top:502px" width="14" height="16"><use href="#i-bld"/></svg>
<div class="cl" style="left:949px;top:502px;width:105px;color:#000;letter-spacing:-0.72px;padding-left:1px;">ООО &#x27;&#x27;ЭДЕЛИНК&#x27;&#x27;</div>
<div class="cl" style="left:1056px;top:502px;width:49px;color:#000;letter-spacing:-0.7px;padding-left:1px;">001</div>
<div class="cl" style="left:1107px;top:502px;width:45px;color:#000;letter-spacing:-0.7px;padding-left:1px;">114</div>
<div class="cl" style="left:1154px;top:502px;width:54px;color:#000;letter-spacing:-0.7px;text-align:right;padding-right:0px;">2200.00</div>
<div class="a" style="left:1209px;top:503px;width:31px;height:14px;background:#b80e14"></div>
<div class="cl" style="left:1210px;top:502px;width:30px;color:#fff;letter-spacing:-0.7px;padding-left:1px;">05.02</div>
<div class="cl" style="left:1242px;top:502px;width:54px;color:#c01010;letter-spacing:-0.7px;text-align:right;padding-right:6px;">3577.00</div>
<svg class="a" style="left:1301px;top:502px" width="16" height="16"><use href="#i-excl"/></svg>
<div class="cl" style="left:1319px;top:502px;width:85px;color:#000;letter-spacing:-0.54px;padding-left:1px;">Путевка</div>
<div class="cl" style="left:1406px;top:502px;width:85px;color:#000;letter-spacing:-0.56px;padding-left:1px;">Завтрак (по Путевке)</div>
<div class="cl" style="left:1493px;top:502px;width:86px;color:#000;letter-spacing:-0.7px;padding-left:1px;">(812)4570707</div>

<div class="cl" style="left:1760px;top:502px;width:122px;color:#000;letter-spacing:-0.55px;padding-left:1px;">Россия</div>
<svg class="a" style="left:125px;top:518px" width="16" height="16"><use href="#i-in"/></svg>
<div class="cl" style="left:161px;top:518px;width:45px;color:#000;letter-spacing:-0.7px;padding-left:2px;">83</div>
<svg class="a" style="left:211px;top:519px" width="14" height="14"><use href="#i-dots"/></svg>
<div class="cl" style="left:246px;top:518px;width:87px;color:#000;letter-spacing:-0.73px;padding-left:2px;">TL-20181010-1234</div>
<div class="cl" style="left:335px;top:518px;width:130px;color:#10107a;letter-spacing:-0.8px;padding-left:1px;">ЗВЕРЬКОВ СЕРГЕЙ</div>
<svg class="a" style="left:472px;top:521px" width="10" height="10"><use href="#i-dot"/></svg>
<div class="a t" style="left:492px;top:518px;color:#000;font-size:12px;letter-spacing:-0.6px;">410-3</div>
<div class="cl" style="left:535px;top:518px;width:73px;color:#000;letter-spacing:-0.73px;padding-left:1px;">3М - М</div>
<div class="cl" style="left:610px;top:518px;width:79px;color:#000;letter-spacing:-0.7px;padding-left:1px;">03.02.22  17:07</div>
<div class="cl" style="left:691px;top:518px;width:78px;color:#10107a;letter-spacing:-0.7px;padding-left:1px;">10.02.22  12:00</div>
<div class="cl" style="left:771px;top:518px;width:20px;color:#000;letter-spacing:-0.7px;text-align:right;padding-right:0px;">7</div>

<svg class="a" style="left:914px;top:520px" width="14" height="14"><use href="#i-chk"/></svg>
<svg class="a" style="left:932px;top:518px" width="14" height="16"><use href="#i-bld"/></svg>
<div class="cl" style="left:949px;top:518px;width:105px;color:#000;letter-spacing:-0.72px;padding-left:1px;">ООО &#x27;&#x27;ЭДЕЛИНК&#x27;&#x27;</div>
<div class="cl" style="left:1056px;top:518px;width:49px;color:#000;letter-spacing:-0.7px;padding-left:1px;">003</div>
<div class="cl" style="left:1107px;top:518px;width:45px;color:#000;letter-spacing:-0.7px;padding-left:1px;">116</div>
<div class="cl" style="left:1154px;top:518px;width:54px;color:#000;letter-spacing:-0.7px;text-align:right;padding-right:0px;">900.00</div>
<div class="a" style="left:1209px;top:519px;width:31px;height:14px;background:#b80e14"></div>
<div class="cl" style="left:1210px;top:518px;width:30px;color:#fff;letter-spacing:-0.7px;padding-left:1px;">07.02</div>

<div class="cl" style="left:1319px;top:518px;width:85px;color:#000;letter-spacing:-0.54px;padding-left:1px;">Путевка</div>
<div class="cl" style="left:1406px;top:518px;width:85px;color:#000;letter-spacing:-0.56px;padding-left:1px;">Завтрак (по Путевке)</div>
<div class="cl" style="left:1493px;top:518px;width:86px;color:#000;letter-spacing:-0.7px;padding-left:1px;">(812)55552100</div>
<div class="cl" style="left:1641px;top:518px;width:59px;color:#000;letter-spacing:-0.7px;padding-left:1px;">H2018010101</div>
<div class="cl" style="left:1760px;top:518px;width:122px;color:#000;letter-spacing:-0.55px;padding-left:1px;">Россия</div>
<svg class="a" style="left:125px;top:534px" width="16" height="16"><use href="#i-in"/></svg>
<div class="cl" style="left:161px;top:534px;width:45px;color:#000;letter-spacing:-0.7px;padding-left:2px;">81</div>
<svg class="a" style="left:211px;top:535px" width="14" height="14"><use href="#i-wb"/></svg>

<div class="cl" style="left:335px;top:534px;width:130px;color:#10107a;letter-spacing:-0.8px;padding-left:1px;">ГРИШКОВЕЦ МАКСИМ</div>
<svg class="a" style="left:472px;top:537px" width="10" height="10"><use href="#i-dot"/></svg>
<div class="a t" style="left:492px;top:534px;color:#000;font-size:12px;letter-spacing:-0.6px;">410-2</div>
<div class="cl" style="left:535px;top:534px;width:73px;color:#000;letter-spacing:-0.73px;padding-left:1px;">3М - М</div>
<div class="cl" style="left:610px;top:534px;width:79px;color:#000;letter-spacing:-0.7px;padding-left:1px;">03.02.22  17:07</div>
<div class="cl" style="left:691px;top:534px;width:78px;color:#10107a;letter-spacing:-0.7px;padding-left:1px;">10.02.22  12:00</div>
<div class="cl" style="left:771px;top:534px;width:20px;color:#000;letter-spacing:-0.7px;text-align:right;padding-right:0px;">7</div>

<svg class="a" style="left:914px;top:536px" width="14" height="14"><use href="#i-chk"/></svg>
<svg class="a" style="left:932px;top:534px" width="14" height="16"><use href="#i-bld"/></svg>
<div class="cl" style="left:949px;top:534px;width:105px;color:#000;letter-spacing:-0.72px;padding-left:1px;">ООО &#x27;&#x27;ЭДЕЛИНК&#x27;&#x27;</div>
<div class="cl" style="left:1056px;top:534px;width:49px;color:#000;letter-spacing:-0.7px;padding-left:1px;">002</div>
<div class="cl" style="left:1107px;top:534px;width:45px;color:#000;letter-spacing:-0.7px;padding-left:1px;">115</div>
<div class="cl" style="left:1154px;top:534px;width:54px;color:#000;letter-spacing:-0.7px;text-align:right;padding-right:0px;">900.00</div>
<div class="a" style="left:1209px;top:535px;width:31px;height:14px;background:#b80e14"></div>
<div class="cl" style="left:1210px;top:534px;width:30px;color:#fff;letter-spacing:-0.7px;padding-left:1px;">07.02</div>

<svg class="a" style="left:1301px;top:534px" width="16" height="16"><use href="#i-excl"/></svg>
<div class="cl" style="left:1319px;top:534px;width:85px;color:#000;letter-spacing:-0.54px;padding-left:1px;">Путевка</div>
<div class="cl" style="left:1406px;top:534px;width:85px;color:#000;letter-spacing:-0.56px;padding-left:1px;">Завтрак (по Путевке)</div>
<div class="cl" style="left:1493px;top:534px;width:86px;color:#000;letter-spacing:-0.7px;padding-left:1px;">(812)3252100</div>

<div class="cl" style="left:1760px;top:534px;width:122px;color:#000;letter-spacing:-0.55px;padding-left:1px;">Россия</div>
<svg class="a" style="left:125px;top:550px" width="16" height="16"><use href="#i-in"/></svg>
<div class="cl" style="left:161px;top:550px;width:45px;color:#000;letter-spacing:-0.7px;padding-left:2px;">94</div>
<svg class="a" style="left:211px;top:551px" width="14" height="14"><use href="#i-B"/></svg>

<div class="cl" style="left:335px;top:550px;width:130px;color:#10107a;letter-spacing:-0.5px;padding-left:1px;">*</div>
<svg class="a" style="left:472px;top:553px" width="10" height="10"><use href="#i-dot"/></svg>
<div class="a t" style="left:492px;top:550px;color:#000;font-size:12px;letter-spacing:-0.6px;">208</div>
<div class="cl" style="left:535px;top:550px;width:73px;color:#000;letter-spacing:-0.8px;padding-left:1px;">СТАНДАРТ</div>
<div class="cl" style="left:610px;top:550px;width:79px;color:#10107a;letter-spacing:-0.7px;padding-left:1px;">04.02.22  09:03</div>
<div class="cl" style="left:691px;top:550px;width:78px;color:#10107a;letter-spacing:-0.7px;padding-left:1px;">08.02.22  12:00</div>
<div class="cl" style="left:771px;top:550px;width:20px;color:#000;letter-spacing:-0.7px;text-align:right;padding-right:0px;">4</div>

<svg class="a" style="left:914px;top:552px" width="14" height="14"><use href="#i-chk"/></svg>
<svg class="a" style="left:931px;top:550px" width="16" height="16"><use href="#i-globe"/></svg>
<div class="cl" style="left:949px;top:550px;width:105px;color:#000;letter-spacing:-1.09px;padding-left:1px;">BOOKING.COM</div>

<div class="cl" style="left:1107px;top:550px;width:45px;color:#000;letter-spacing:-0.7px;padding-left:1px;">435</div>
<div class="cl" style="left:1154px;top:550px;width:54px;color:#000;letter-spacing:-0.7px;text-align:right;padding-right:0px;">2375.00</div>
<div class="cl" style="left:1210px;top:550px;width:30px;color:#007a20;letter-spacing:-0.7px;padding-left:1px;">08.02</div>

<div class="cl" style="left:1319px;top:550px;width:85px;color:#000;letter-spacing:-0.8px;padding-left:1px;">СТАНДАРТ</div>
<div class="cl" style="left:1406px;top:550px;width:85px;color:#000;letter-spacing:-0.54px;padding-left:1px;">Завтрак</div>


<div class="cl" style="left:1760px;top:550px;width:122px;color:#000;letter-spacing:-0.55px;padding-left:1px;">Россия</div>
<svg class="a" style="left:125px;top:566px" width="16" height="16"><use href="#i-in"/></svg>
<div class="cl" style="left:161px;top:566px;width:45px;color:#000;letter-spacing:-0.7px;padding-left:2px;">94</div>
<svg class="a" style="left:211px;top:567px" width="14" height="14"><use href="#i-B"/></svg>

<div class="cl" style="left:335px;top:566px;width:130px;color:#10107a;letter-spacing:-0.5px;padding-left:1px;">*</div>
<svg class="a" style="left:472px;top:569px" width="10" height="10"><use href="#i-dot"/></svg>
<div class="a t" style="left:492px;top:566px;color:#000;font-size:12px;letter-spacing:-0.6px;">208</div>
<div class="cl" style="left:535px;top:566px;width:73px;color:#000;letter-spacing:-0.8px;padding-left:1px;">СТАНДАРТ</div>
<div class="cl" style="left:610px;top:566px;width:79px;color:#10107a;letter-spacing:-0.7px;padding-left:1px;">04.02.22  09:03</div>
<div class="cl" style="left:691px;top:566px;width:78px;color:#10107a;letter-spacing:-0.7px;padding-left:1px;">08.02.22  12:00</div>
<div class="cl" style="left:771px;top:566px;width:20px;color:#000;letter-spacing:-0.7px;text-align:right;padding-right:0px;">4</div>

<svg class="a" style="left:914px;top:568px" width="14" height="14"><use href="#i-chk"/></svg>
<svg class="a" style="left:931px;top:566px" width="16" height="16"><use href="#i-globe"/></svg>
<div class="cl" style="left:949px;top:566px;width:105px;color:#000;letter-spacing:-1.09px;padding-left:1px;">BOOKING.COM</div>

<div class="cl" style="left:1107px;top:566px;width:45px;color:#000;letter-spacing:-0.7px;padding-left:1px;">433</div>
<div class="cl" style="left:1154px;top:566px;width:54px;color:#000;letter-spacing:-0.7px;text-align:right;padding-right:0px;">2375.00</div>
<div class="cl" style="left:1210px;top:566px;width:30px;color:#007a20;letter-spacing:-0.7px;padding-left:1px;">08.02</div>

<div class="cl" style="left:1319px;top:566px;width:85px;color:#000;letter-spacing:-0.8px;padding-left:1px;">СТАНДАРТ</div>
<div class="cl" style="left:1406px;top:566px;width:85px;color:#000;letter-spacing:-0.54px;padding-left:1px;">Завтрак</div>


<div class="cl" style="left:1760px;top:566px;width:122px;color:#000;letter-spacing:-0.55px;padding-left:1px;">Россия</div>
<svg class="a" style="left:125px;top:582px" width="16" height="16"><use href="#i-in"/></svg>
<div class="cl" style="left:161px;top:582px;width:45px;color:#000;letter-spacing:-0.7px;padding-left:2px;">94</div>
<svg class="a" style="left:211px;top:583px" width="14" height="14"><use href="#i-B"/></svg>

<div class="cl" style="left:335px;top:582px;width:130px;color:#10107a;letter-spacing:-1.06px;padding-left:1px;">*ARNOLD</div>
<svg class="a" style="left:472px;top:585px" width="10" height="10"><use href="#i-dot"/></svg>
<div class="a t" style="left:492px;top:582px;color:#000;font-size:12px;letter-spacing:-0.6px;">208</div>
<div class="cl" style="left:535px;top:582px;width:73px;color:#000;letter-spacing:-0.8px;padding-left:1px;">СТАНДАРТ</div>
<div class="cl" style="left:610px;top:582px;width:79px;color:#10107a;letter-spacing:-0.7px;padding-left:1px;">04.02.22  09:03</div>
<div class="cl" style="left:691px;top:582px;width:78px;color:#10107a;letter-spacing:-0.7px;padding-left:1px;">08.02.22  12:00</div>
<div class="cl" style="left:771px;top:582px;width:20px;color:#000;letter-spacing:-0.7px;text-align:right;padding-right:0px;">4</div>

<svg class="a" style="left:914px;top:584px" width="14" height="14"><use href="#i-chk"/></svg>
<svg class="a" style="left:931px;top:582px" width="16" height="16"><use href="#i-globe"/></svg>
<div class="cl" style="left:949px;top:582px;width:105px;color:#000;letter-spacing:-1.09px;padding-left:1px;">BOOKING.COM</div>

<div class="cl" style="left:1107px;top:582px;width:45px;color:#000;letter-spacing:-0.7px;padding-left:1px;">139</div>
<div class="cl" style="left:1154px;top:582px;width:54px;color:#000;letter-spacing:-0.7px;text-align:right;padding-right:0px;">2375.00</div>
<div class="cl" style="left:1210px;top:582px;width:30px;color:#007a20;letter-spacing:-0.7px;padding-left:1px;">08.02</div>

<div class="cl" style="left:1319px;top:582px;width:85px;color:#000;letter-spacing:-0.8px;padding-left:1px;">СТАНДАРТ</div>
<div class="cl" style="left:1406px;top:582px;width:85px;color:#000;letter-spacing:-0.54px;padding-left:1px;">Завтрак</div>
<div class="cl" style="left:1493px;top:582px;width:86px;color:#000;letter-spacing:-0.7px;padding-left:1px;">0500555555</div>

<div class="cl" style="left:1760px;top:582px;width:122px;color:#000;letter-spacing:-0.54px;padding-left:1px;">Ангилья</div>
<svg class="a" style="left:125px;top:598px" width="16" height="16"><use href="#i-in"/></svg>
<div class="cl" style="left:161px;top:598px;width:45px;color:#000;letter-spacing:-0.7px;padding-left:2px;">102</div>
<svg class="a" style="left:211px;top:599px" width="14" height="14"><use href="#i-wb"/></svg>

<div class="cl" style="left:335px;top:598px;width:130px;color:#10107a;letter-spacing:-1.13px;padding-left:1px;">LOPEZ JENIFFER</div>
<svg class="a" style="left:472px;top:601px" width="10" height="10"><use href="#i-dot"/></svg>
<div class="a t" style="left:492px;top:598px;color:#000;font-size:12px;letter-spacing:-0.6px;">301</div>
<div class="cl" style="left:535px;top:598px;width:73px;color:#000;letter-spacing:-0.8px;padding-left:1px;">СЬЮТ</div>
<div class="cl" style="left:610px;top:598px;width:79px;color:#10107a;letter-spacing:-0.7px;padding-left:1px;">04.02.22  10:57</div>
<div class="cl" style="left:691px;top:598px;width:78px;color:#10107a;letter-spacing:-0.7px;padding-left:1px;">08.02.22  12:00</div>
<div class="cl" style="left:771px;top:598px;width:20px;color:#000;letter-spacing:-0.7px;text-align:right;padding-right:0px;">4</div>

<svg class="a" style="left:931px;top:598px" width="16" height="16"><use href="#i-globe"/></svg>
<div class="cl" style="left:949px;top:598px;width:105px;color:#000;letter-spacing:-1.09px;padding-left:1px;">BOOKING.COM</div>

<div class="cl" style="left:1107px;top:598px;width:45px;color:#000;letter-spacing:-0.7px;padding-left:1px;">151</div>
<div class="cl" style="left:1154px;top:598px;width:54px;color:#000;letter-spacing:-0.7px;text-align:right;padding-right:0px;">3250.00</div>
<div class="cl" style="left:1210px;top:598px;width:30px;color:#007a20;letter-spacing:-0.7px;padding-left:1px;">08.02</div>
<div class="cl" style="left:1242px;top:598px;width:54px;color:#c01010;letter-spacing:-0.7px;text-align:right;padding-right:6px;">16250.00</div>
<div class="cl" style="left:1319px;top:598px;width:85px;color:#000;letter-spacing:-0.8px;padding-left:1px;">СТАНДАРТ</div>
<div class="cl" style="left:1406px;top:598px;width:85px;color:#000;letter-spacing:-0.54px;padding-left:1px;">Завтрак</div>


<div class="cl" style="left:1760px;top:598px;width:122px;color:#000;letter-spacing:-0.54px;padding-left:1px;">Ангилья</div>
<svg class="a" style="left:126px;top:614px" width="16" height="16"><use href="#i-q"/></svg>
<div class="cl" style="left:161px;top:614px;width:45px;color:#000;letter-spacing:-0.7px;padding-left:2px;">238</div>

<div class="cl" style="left:335px;top:614px;width:130px;color:#10107a;letter-spacing:-0.91px;padding-left:1px;">BOOKING.COM (275) -</div>
<svg class="a" style="left:472px;top:615px" width="12" height="14"><use href="#i-rq"/></svg>
<div class="cl" style="left:535px;top:614px;width:73px;color:#000;letter-spacing:-0.73px;padding-left:1px;">3М - М</div>
<div class="cl" style="left:610px;top:614px;width:79px;color:#10107a;letter-spacing:-0.7px;padding-left:1px;">04.02.22  12:00</div>
<div class="cl" style="left:691px;top:614px;width:78px;color:#10107a;letter-spacing:-0.7px;padding-left:1px;">16.02.22  12:00</div>
<div class="cl" style="left:771px;top:614px;width:20px;color:#000;letter-spacing:-0.7px;text-align:right;padding-right:0px;">12</div>
<svg class="a" style="left:795px;top:614px" width="16" height="16"><use href="#i-grp"/></svg>
<div class="cl" style="left:812px;top:614px;width:98px;color:#000;letter-spacing:-0.94px;padding-left:1px;">BOOKING.COM (275)</div>
<svg class="a" style="left:914px;top:616px" width="14" height="14"><use href="#i-chk"/></svg>
<svg class="a" style="left:931px;top:614px" width="16" height="16"><use href="#i-globe"/></svg>
<div class="cl" style="left:949px;top:614px;width:105px;color:#000;letter-spacing:-1.09px;padding-left:1px;">BOOKING.COM</div>

<div class="cl" style="left:1107px;top:614px;width:45px;color:#000;letter-spacing:-0.7px;padding-left:1px;">323</div>
<div class="cl" style="left:1154px;top:614px;width:54px;color:#000;letter-spacing:-0.7px;text-align:right;padding-right:0px;">750.00</div>

<div class="cl" style="left:1319px;top:614px;width:85px;color:#000;letter-spacing:-0.52px;padding-left:1px;">Корпоративный</div>
<div class="cl" style="left:1406px;top:614px;width:85px;color:#000;letter-spacing:-0.54px;padding-left:1px;">Завтрак</div>


<div class="cl" style="left:1760px;top:614px;width:122px;color:#000;letter-spacing:-0.55px;padding-left:1px;">Россия</div>
<svg class="a" style="left:126px;top:630px" width="16" height="16"><use href="#i-q"/></svg>
<div class="cl" style="left:161px;top:630px;width:45px;color:#000;letter-spacing:-0.7px;padding-left:2px;">235</div>

<div class="cl" style="left:335px;top:630px;width:130px;color:#10107a;letter-spacing:-0.91px;padding-left:1px;">BOOKING.COM (275) -</div>
<svg class="a" style="left:472px;top:631px" width="12" height="14"><use href="#i-rq"/></svg>
<div class="cl" style="left:535px;top:630px;width:73px;color:#000;letter-spacing:-0.73px;padding-left:1px;">3М - М</div>
<div class="cl" style="left:610px;top:630px;width:79px;color:#10107a;letter-spacing:-0.7px;padding-left:1px;">04.02.22  12:00</div>
<div class="cl" style="left:691px;top:630px;width:78px;color:#10107a;letter-spacing:-0.7px;padding-left:1px;">16.02.22  12:00</div>
<div class="cl" style="left:771px;top:630px;width:20px;color:#000;letter-spacing:-0.7px;text-align:right;padding-right:0px;">12</div>
<svg class="a" style="left:795px;top:630px" width="16" height="16"><use href="#i-grp"/></svg>
<div class="cl" style="left:812px;top:630px;width:98px;color:#000;letter-spacing:-0.94px;padding-left:1px;">BOOKING.COM (275)</div>
<svg class="a" style="left:914px;top:632px" width="14" height="14"><use href="#i-chk"/></svg>
<svg class="a" style="left:931px;top:630px" width="16" height="16"><use href="#i-globe"/></svg>
<div class="cl" style="left:949px;top:630px;width:105px;color:#000;letter-spacing:-1.09px;padding-left:1px;">BOOKING.COM</div>

<div class="cl" style="left:1107px;top:630px;width:45px;color:#000;letter-spacing:-0.7px;padding-left:1px;">320</div>
<div class="cl" style="left:1154px;top:630px;width:54px;color:#000;letter-spacing:-0.7px;text-align:right;padding-right:0px;">750.00</div>

<div class="cl" style="left:1319px;top:630px;width:85px;color:#000;letter-spacing:-0.52px;padding-left:1px;">Корпоративный</div>
<div class="cl" style="left:1406px;top:630px;width:85px;color:#000;letter-spacing:-0.54px;padding-left:1px;">Завтрак</div>


<div class="cl" style="left:1760px;top:630px;width:122px;color:#000;letter-spacing:-0.55px;padding-left:1px;">Россия</div>
<svg class="a" style="left:126px;top:646px" width="16" height="16"><use href="#i-wait"/></svg>
<div class="cl" style="left:161px;top:646px;width:45px;color:#000;letter-spacing:-0.7px;padding-left:2px;">306</div>

<div class="cl" style="left:335px;top:646px;width:130px;color:#10107a;letter-spacing:-0.74px;padding-left:1px;">РАДУГА Ltd -</div>
<svg class="a" style="left:472px;top:647px" width="12" height="14"><use href="#i-rq"/></svg>
<div class="cl" style="left:535px;top:646px;width:73px;color:#000;letter-spacing:-0.8px;padding-left:1px;">СТАНДАРТ</div>
<div class="cl" style="left:610px;top:646px;width:79px;color:#10107a;letter-spacing:-0.7px;padding-left:1px;">04.02.22  12:00</div>
<div class="cl" style="left:691px;top:646px;width:78px;color:#10107a;letter-spacing:-0.7px;padding-left:1px;">10.02.22  12:00</div>
<div class="cl" style="left:771px;top:646px;width:20px;color:#000;letter-spacing:-0.7px;text-align:right;padding-right:0px;">6</div>
<svg class="a" style="left:795px;top:646px" width="16" height="16"><use href="#i-grp"/></svg>
<div class="cl" style="left:812px;top:646px;width:98px;color:#000;letter-spacing:-0.76px;padding-left:1px;">РАДУГА Ltd</div>


<div class="cl" style="left:1107px;top:646px;width:45px;color:#000;letter-spacing:-0.7px;padding-left:1px;">402</div>
<div class="cl" style="left:1154px;top:646px;width:54px;color:#000;letter-spacing:-0.7px;text-align:right;padding-right:0px;">4000.00</div>

<div class="cl" style="left:1319px;top:646px;width:85px;color:#000;letter-spacing:-0.8px;padding-left:1px;">СТАНДАРТ</div>
<div class="cl" style="left:1406px;top:646px;width:85px;color:#000;letter-spacing:-0.54px;padding-left:1px;">Завтрак</div>


<div class="cl" style="left:1760px;top:646px;width:122px;color:#000;letter-spacing:-0.55px;padding-left:1px;">Россия</div>
<svg class="a" style="left:126px;top:662px" width="16" height="16"><use href="#i-q"/></svg>
<div class="cl" style="left:161px;top:662px;width:45px;color:#000;letter-spacing:-0.7px;padding-left:2px;">233</div>

<div class="cl" style="left:335px;top:662px;width:130px;color:#10107a;letter-spacing:-0.91px;padding-left:1px;">BOOKING.COM (275) -</div>
<svg class="a" style="left:472px;top:663px" width="12" height="14"><use href="#i-rq"/></svg>
<div class="cl" style="left:535px;top:662px;width:73px;color:#000;letter-spacing:-0.73px;padding-left:1px;">3М - М</div>
<div class="cl" style="left:610px;top:662px;width:79px;color:#10107a;letter-spacing:-0.7px;padding-left:1px;">04.02.22  12:00</div>
<div class="cl" style="left:691px;top:662px;width:78px;color:#10107a;letter-spacing:-0.7px;padding-left:1px;">16.02.22  12:00</div>
<div class="cl" style="left:771px;top:662px;width:20px;color:#000;letter-spacing:-0.7px;text-align:right;padding-right:0px;">12</div>
<svg class="a" style="left:795px;top:662px" width="16" height="16"><use href="#i-grp"/></svg>
<div class="cl" style="left:812px;top:662px;width:98px;color:#000;letter-spacing:-0.94px;padding-left:1px;">BOOKING.COM (275)</div>
<svg class="a" style="left:914px;top:664px" width="14" height="14"><use href="#i-chk"/></svg>
<svg class="a" style="left:931px;top:662px" width="16" height="16"><use href="#i-globe"/></svg>
<div class="cl" style="left:949px;top:662px;width:105px;color:#000;letter-spacing:-1.09px;padding-left:1px;">BOOKING.COM</div>

<div class="cl" style="left:1107px;top:662px;width:45px;color:#000;letter-spacing:-0.7px;padding-left:1px;">318</div>
<div class="cl" style="left:1154px;top:662px;width:54px;color:#000;letter-spacing:-0.7px;text-align:right;padding-right:0px;">750.00</div>

<div class="cl" style="left:1319px;top:662px;width:85px;color:#000;letter-spacing:-0.52px;padding-left:1px;">Корпоративный</div>
<div class="cl" style="left:1406px;top:662px;width:85px;color:#000;letter-spacing:-0.54px;padding-left:1px;">Завтрак</div>


<div class="cl" style="left:1760px;top:662px;width:122px;color:#000;letter-spacing:-0.55px;padding-left:1px;">Россия</div>
<svg class="a" style="left:126px;top:678px" width="16" height="16"><use href="#i-wait"/></svg>
<div class="cl" style="left:161px;top:678px;width:45px;color:#000;letter-spacing:-0.7px;padding-left:2px;">306</div>

<div class="cl" style="left:335px;top:678px;width:130px;color:#000;letter-spacing:-0.73px;padding-left:1px;">РАДУГА Ltd * -</div>
<svg class="a" style="left:472px;top:679px" width="12" height="14"><use href="#i-rq"/></svg>
<div class="cl" style="left:535px;top:678px;width:73px;color:#000;letter-spacing:-0.8px;padding-left:1px;">СТАНДАРТ</div>
<div class="cl" style="left:610px;top:678px;width:79px;color:#10107a;letter-spacing:-0.7px;padding-left:1px;">04.02.22  12:00</div>
<div class="cl" style="left:691px;top:678px;width:78px;color:#10107a;letter-spacing:-0.7px;padding-left:1px;">10.02.22  12:00</div>
<div class="cl" style="left:771px;top:678px;width:20px;color:#000;letter-spacing:-0.7px;text-align:right;padding-right:0px;">6</div>
<svg class="a" style="left:795px;top:678px" width="16" height="16"><use href="#i-grp"/></svg>
<div class="cl" style="left:812px;top:678px;width:98px;color:#000;letter-spacing:-0.76px;padding-left:1px;">РАДУГА Ltd</div>


<div class="cl" style="left:1107px;top:678px;width:45px;color:#000;letter-spacing:-0.7px;padding-left:1px;">404</div>
<div class="cl" style="left:1154px;top:678px;width:54px;color:#000;letter-spacing:-0.7px;text-align:right;padding-right:0px;">4000.00</div>

<div class="cl" style="left:1319px;top:678px;width:85px;color:#000;letter-spacing:-0.8px;padding-left:1px;">СТАНДАРТ</div>
<div class="cl" style="left:1406px;top:678px;width:85px;color:#000;letter-spacing:-0.54px;padding-left:1px;">Завтрак</div>


<div class="cl" style="left:1760px;top:678px;width:122px;color:#000;letter-spacing:-0.55px;padding-left:1px;">Россия</div>
<svg class="a" style="left:126px;top:694px" width="16" height="16"><use href="#i-q"/></svg>
<div class="cl" style="left:161px;top:694px;width:45px;color:#000;letter-spacing:-0.7px;padding-left:2px;">200</div>

<div class="cl" style="left:335px;top:694px;width:130px;color:#10107a;letter-spacing:-0.91px;padding-left:1px;">BOOKING.COM (275) -</div>
<svg class="a" style="left:472px;top:697px" width="10" height="10"><use href="#i-dot"/></svg>
<div class="a t" style="left:492px;top:694px;color:#000;font-size:12px;letter-spacing:-0.6px;">507</div>
<div class="cl" style="left:535px;top:694px;width:73px;color:#000;letter-spacing:-0.8px;padding-left:1px;">СТАНДАРТ</div>
<div class="cl" style="left:610px;top:694px;width:79px;color:#10107a;letter-spacing:-0.7px;padding-left:1px;">04.02.22  12:00</div>
<div class="cl" style="left:691px;top:694px;width:78px;color:#10107a;letter-spacing:-0.7px;padding-left:1px;">13.02.22  12:00</div>
<div class="cl" style="left:771px;top:694px;width:20px;color:#000;letter-spacing:-0.7px;text-align:right;padding-right:0px;">9</div>
<svg class="a" style="left:795px;top:694px" width="16" height="16"><use href="#i-grp"/></svg>
<div class="cl" style="left:812px;top:694px;width:98px;color:#000;letter-spacing:-0.94px;padding-left:1px;">BOOKING.COM (275)</div>
<svg class="a" style="left:914px;top:696px" width="14" height="14"><use href="#i-chk"/></svg>
<svg class="a" style="left:931px;top:694px" width="16" height="16"><use href="#i-globe"/></svg>
<div class="cl" style="left:949px;top:694px;width:105px;color:#000;letter-spacing:-1.09px;padding-left:1px;">BOOKING.COM</div>

<div class="cl" style="left:1107px;top:694px;width:45px;color:#000;letter-spacing:-0.7px;padding-left:1px;">281</div>
<div class="cl" style="left:1154px;top:694px;width:54px;color:#000;letter-spacing:-0.7px;text-align:right;padding-right:0px;">1550.00</div>

<div class="cl" style="left:1319px;top:694px;width:85px;color:#000;letter-spacing:-0.52px;padding-left:1px;">Корпоративный</div>
<div class="cl" style="left:1406px;top:694px;width:85px;color:#000;letter-spacing:-0.54px;padding-left:1px;">Завтрак</div>


<div class="cl" style="left:1760px;top:694px;width:122px;color:#000;letter-spacing:-0.55px;padding-left:1px;">Россия</div>
<svg class="a" style="left:126px;top:710px" width="16" height="16"><use href="#i-q"/></svg>
<div class="cl" style="left:161px;top:710px;width:45px;color:#000;letter-spacing:-0.7px;padding-left:2px;">232</div>

<div class="cl" style="left:335px;top:710px;width:130px;color:#10107a;letter-spacing:-0.91px;padding-left:1px;">BOOKING.COM (275) -</div>
<svg class="a" style="left:472px;top:711px" width="12" height="14"><use href="#i-rq"/></svg>
<div class="cl" style="left:535px;top:710px;width:73px;color:#000;letter-spacing:-0.73px;padding-left:1px;">3М - М</div>
<div class="cl" style="left:610px;top:710px;width:79px;color:#10107a;letter-spacing:-0.7px;padding-left:1px;">04.02.22  12:00</div>
<div class="cl" style="left:691px;top:710px;width:78px;color:#10107a;letter-spacing:-0.7px;padding-left:1px;">16.02.22  12:00</div>
<div class="cl" style="left:771px;top:710px;width:20px;color:#000;letter-spacing:-0.7px;text-align:right;padding-right:0px;">12</div>
<svg class="a" style="left:795px;top:710px" width="16" height="16"><use href="#i-grp"/></svg>
<div class="cl" style="left:812px;top:710px;width:98px;color:#000;letter-spacing:-0.94px;padding-left:1px;">BOOKING.COM (275)</div>
<svg class="a" style="left:914px;top:712px" width="14" height="14"><use href="#i-chk"/></svg>
<svg class="a" style="left:931px;top:710px" width="16" height="16"><use href="#i-globe"/></svg>
<div class="cl" style="left:949px;top:710px;width:105px;color:#000;letter-spacing:-1.09px;padding-left:1px;">BOOKING.COM</div>

<div class="cl" style="left:1107px;top:710px;width:45px;color:#000;letter-spacing:-0.7px;padding-left:1px;">317</div>
<div class="cl" style="left:1154px;top:710px;width:54px;color:#000;letter-spacing:-0.7px;text-align:right;padding-right:0px;">750.00</div>

<div class="cl" style="left:1319px;top:710px;width:85px;color:#000;letter-spacing:-0.52px;padding-left:1px;">Корпоративный</div>
<div class="cl" style="left:1406px;top:710px;width:85px;color:#000;letter-spacing:-0.54px;padding-left:1px;">Завтрак</div>


<div class="cl" style="left:1760px;top:710px;width:122px;color:#000;letter-spacing:-0.55px;padding-left:1px;">Россия</div>
<svg class="a" style="left:126px;top:726px" width="16" height="16"><use href="#i-q"/></svg>
<div class="cl" style="left:161px;top:726px;width:45px;color:#000;letter-spacing:-0.7px;padding-left:2px;">252</div>

<div class="cl" style="left:335px;top:726px;width:130px;color:#10107a;letter-spacing:-0.91px;padding-left:1px;">BOOKING.COM (275) -</div>
<svg class="a" style="left:472px;top:727px" width="12" height="14"><use href="#i-rq"/></svg>
<div class="cl" style="left:535px;top:726px;width:73px;color:#000;letter-spacing:-0.73px;padding-left:1px;">3М - М</div>
<div class="cl" style="left:610px;top:726px;width:79px;color:#10107a;letter-spacing:-0.7px;padding-left:1px;">04.02.22  12:00</div>
<div class="cl" style="left:691px;top:726px;width:78px;color:#10107a;letter-spacing:-0.7px;padding-left:1px;">16.02.22  12:00</div>
<div class="cl" style="left:771px;top:726px;width:20px;color:#000;letter-spacing:-0.7px;text-align:right;padding-right:0px;">12</div>
<svg class="a" style="left:795px;top:726px" width="16" height="16"><use href="#i-grp"/></svg>
<div class="cl" style="left:812px;top:726px;width:98px;color:#000;letter-spacing:-0.94px;padding-left:1px;">BOOKING.COM (275)</div>
<svg class="a" style="left:914px;top:728px" width="14" height="14"><use href="#i-chk"/></svg>
<svg class="a" style="left:931px;top:726px" width="16" height="16"><use href="#i-globe"/></svg>
<div class="cl" style="left:949px;top:726px;width:105px;color:#000;letter-spacing:-1.09px;padding-left:1px;">BOOKING.COM</div>

<div class="cl" style="left:1107px;top:726px;width:45px;color:#000;letter-spacing:-0.7px;padding-left:1px;">341</div>
<div class="cl" style="left:1154px;top:726px;width:54px;color:#000;letter-spacing:-0.7px;text-align:right;padding-right:0px;">750.00</div>

<div class="cl" style="left:1319px;top:726px;width:85px;color:#000;letter-spacing:-0.52px;padding-left:1px;">Корпоративный</div>
<div class="cl" style="left:1406px;top:726px;width:85px;color:#000;letter-spacing:-0.54px;padding-left:1px;">Завтрак</div>


<div class="cl" style="left:1760px;top:726px;width:122px;color:#000;letter-spacing:-0.55px;padding-left:1px;">Россия</div>
<svg class="a" style="left:126px;top:742px" width="16" height="16"><use href="#i-q"/></svg>
<div class="cl" style="left:161px;top:742px;width:45px;color:#000;letter-spacing:-0.7px;padding-left:2px;">251</div>

<div class="cl" style="left:335px;top:742px;width:130px;color:#10107a;letter-spacing:-0.91px;padding-left:1px;">BOOKING.COM (275) -</div>
<svg class="a" style="left:472px;top:743px" width="12" height="14"><use href="#i-rq"/></svg>
<div class="cl" style="left:535px;top:742px;width:73px;color:#000;letter-spacing:-0.73px;padding-left:1px;">3М - М</div>
<div class="cl" style="left:610px;top:742px;width:79px;color:#10107a;letter-spacing:-0.7px;padding-left:1px;">04.02.22  12:00</div>
<div class="cl" style="left:691px;top:742px;width:78px;color:#10107a;letter-spacing:-0.7px;padding-left:1px;">16.02.22  12:00</div>
<div class="cl" style="left:771px;top:742px;width:20px;color:#000;letter-spacing:-0.7px;text-align:right;padding-right:0px;">12</div>
<svg class="a" style="left:795px;top:742px" width="16" height="16"><use href="#i-grp"/></svg>
<div class="cl" style="left:812px;top:742px;width:98px;color:#000;letter-spacing:-0.94px;padding-left:1px;">BOOKING.COM (275)</div>
<svg class="a" style="left:914px;top:744px" width="14" height="14"><use href="#i-chk"/></svg>
<svg class="a" style="left:931px;top:742px" width="16" height="16"><use href="#i-globe"/></svg>
<div class="cl" style="left:949px;top:742px;width:105px;color:#000;letter-spacing:-1.09px;padding-left:1px;">BOOKING.COM</div>

<div class="cl" style="left:1107px;top:742px;width:45px;color:#000;letter-spacing:-0.7px;padding-left:1px;">340</div>
<div class="cl" style="left:1154px;top:742px;width:54px;color:#000;letter-spacing:-0.7px;text-align:right;padding-right:0px;">750.00</div>

<div class="cl" style="left:1319px;top:742px;width:85px;color:#000;letter-spacing:-0.52px;padding-left:1px;">Корпоративный</div>
<div class="cl" style="left:1406px;top:742px;width:85px;color:#000;letter-spacing:-0.54px;padding-left:1px;">Завтрак</div>


<div class="cl" style="left:1760px;top:742px;width:122px;color:#000;letter-spacing:-0.55px;padding-left:1px;">Россия</div>
<svg class="a" style="left:126px;top:758px" width="16" height="16"><use href="#i-q"/></svg>
<div class="cl" style="left:161px;top:758px;width:45px;color:#000;letter-spacing:-0.7px;padding-left:2px;">231</div>

<div class="cl" style="left:335px;top:758px;width:130px;color:#10107a;letter-spacing:-0.91px;padding-left:1px;">BOOKING.COM (275) -</div>
<svg class="a" style="left:472px;top:759px" width="12" height="14"><use href="#i-rq"/></svg>
<div class="cl" style="left:535px;top:758px;width:73px;color:#000;letter-spacing:-0.73px;padding-left:1px;">3М - М</div>
<div class="cl" style="left:610px;top:758px;width:79px;color:#10107a;letter-spacing:-0.7px;padding-left:1px;">04.02.22  12:00</div>
<div class="cl" style="left:691px;top:758px;width:78px;color:#10107a;letter-spacing:-0.7px;padding-left:1px;">16.02.22  12:00</div>
<div class="cl" style="left:771px;top:758px;width:20px;color:#000;letter-spacing:-0.7px;text-align:right;padding-right:0px;">12</div>
<svg class="a" style="left:795px;top:758px" width="16" height="16"><use href="#i-grp"/></svg>
<div class="cl" style="left:812px;top:758px;width:98px;color:#000;letter-spacing:-0.94px;padding-left:1px;">BOOKING.COM (275)</div>
<svg class="a" style="left:914px;top:760px" width="14" height="14"><use href="#i-chk"/></svg>
<svg class="a" style="left:931px;top:758px" width="16" height="16"><use href="#i-globe"/></svg>
<div class="cl" style="left:949px;top:758px;width:105px;color:#000;letter-spacing:-1.09px;padding-left:1px;">BOOKING.COM</div>

<div class="cl" style="left:1107px;top:758px;width:45px;color:#000;letter-spacing:-0.7px;padding-left:1px;">316</div>
<div class="cl" style="left:1154px;top:758px;width:54px;color:#000;letter-spacing:-0.7px;text-align:right;padding-right:0px;">750.00</div>

<div class="cl" style="left:1319px;top:758px;width:85px;color:#000;letter-spacing:-0.52px;padding-left:1px;">Корпоративный</div>
<div class="cl" style="left:1406px;top:758px;width:85px;color:#000;letter-spacing:-0.54px;padding-left:1px;">Завтрак</div>


<div class="cl" style="left:1760px;top:758px;width:122px;color:#000;letter-spacing:-0.55px;padding-left:1px;">Россия</div>
<svg class="a" style="left:126px;top:774px" width="16" height="16"><use href="#i-q"/></svg>
<div class="cl" style="left:161px;top:774px;width:45px;color:#000;letter-spacing:-0.7px;padding-left:2px;">250</div>

<div class="cl" style="left:335px;top:774px;width:130px;color:#10107a;letter-spacing:-0.91px;padding-left:1px;">BOOKING.COM (275) -</div>
<svg class="a" style="left:472px;top:775px" width="12" height="14"><use href="#i-rq"/></svg>
<div class="cl" style="left:535px;top:774px;width:73px;color:#000;letter-spacing:-0.73px;padding-left:1px;">3М - М</div>
<div class="cl" style="left:610px;top:774px;width:79px;color:#10107a;letter-spacing:-0.7px;padding-left:1px;">04.02.22  12:00</div>
<div class="cl" style="left:691px;top:774px;width:78px;color:#10107a;letter-spacing:-0.7px;padding-left:1px;">16.02.22  12:00</div>
<div class="cl" style="left:771px;top:774px;width:20px;color:#000;letter-spacing:-0.7px;text-align:right;padding-right:0px;">12</div>
<svg class="a" style="left:795px;top:774px" width="16" height="16"><use href="#i-grp"/></svg>
<div class="cl" style="left:812px;top:774px;width:98px;color:#000;letter-spacing:-0.94px;padding-left:1px;">BOOKING.COM (275)</div>
<svg class="a" style="left:914px;top:776px" width="14" height="14"><use href="#i-chk"/></svg>
<svg class="a" style="left:931px;top:774px" width="16" height="16"><use href="#i-globe"/></svg>
<div class="cl" style="left:949px;top:774px;width:105px;color:#000;letter-spacing:-1.09px;padding-left:1px;">BOOKING.COM</div>

<div class="cl" style="left:1107px;top:774px;width:45px;color:#000;letter-spacing:-0.7px;padding-left:1px;">339</div>
<div class="cl" style="left:1154px;top:774px;width:54px;color:#000;letter-spacing:-0.7px;text-align:right;padding-right:0px;">750.00</div>

<div class="cl" style="left:1319px;top:774px;width:85px;color:#000;letter-spacing:-0.52px;padding-left:1px;">Корпоративный</div>
<div class="cl" style="left:1406px;top:774px;width:85px;color:#000;letter-spacing:-0.54px;padding-left:1px;">Завтрак</div>


<div class="cl" style="left:1760px;top:774px;width:122px;color:#000;letter-spacing:-0.55px;padding-left:1px;">Россия</div>
<svg class="a" style="left:126px;top:790px" width="16" height="16"><use href="#i-q"/></svg>
<div class="cl" style="left:161px;top:790px;width:45px;color:#000;letter-spacing:-0.7px;padding-left:2px;">230</div>

<div class="cl" style="left:335px;top:790px;width:130px;color:#10107a;letter-spacing:-0.91px;padding-left:1px;">BOOKING.COM (275) -</div>
<svg class="a" style="left:472px;top:791px" width="12" height="14"><use href="#i-rq"/></svg>
<div class="cl" style="left:535px;top:790px;width:73px;color:#000;letter-spacing:-0.73px;padding-left:1px;">3М - М</div>
<div class="cl" style="left:610px;top:790px;width:79px;color:#10107a;letter-spacing:-0.7px;padding-left:1px;">04.02.22  12:00</div>
<div class="cl" style="left:691px;top:790px;width:78px;color:#10107a;letter-spacing:-0.7px;padding-left:1px;">16.02.22  12:00</div>
<div class="cl" style="left:771px;top:790px;width:20px;color:#000;letter-spacing:-0.7px;text-align:right;padding-right:0px;">12</div>
<svg class="a" style="left:795px;top:790px" width="16" height="16"><use href="#i-grp"/></svg>
<div class="cl" style="left:812px;top:790px;width:98px;color:#000;letter-spacing:-0.94px;padding-left:1px;">BOOKING.COM (275)</div>
<svg class="a" style="left:914px;top:792px" width="14" height="14"><use href="#i-chk"/></svg>
<svg class="a" style="left:931px;top:790px" width="16" height="16"><use href="#i-globe"/></svg>
<div class="cl" style="left:949px;top:790px;width:105px;color:#000;letter-spacing:-1.09px;padding-left:1px;">BOOKING.COM</div>

<div class="cl" style="left:1107px;top:790px;width:45px;color:#000;letter-spacing:-0.7px;padding-left:1px;">315</div>
<div class="cl" style="left:1154px;top:790px;width:54px;color:#000;letter-spacing:-0.7px;text-align:right;padding-right:0px;">750.00</div>

<div class="cl" style="left:1319px;top:790px;width:85px;color:#000;letter-spacing:-0.52px;padding-left:1px;">Корпоративный</div>
<div class="cl" style="left:1406px;top:790px;width:85px;color:#000;letter-spacing:-0.54px;padding-left:1px;">Завтрак</div>


<div class="cl" style="left:1760px;top:790px;width:122px;color:#000;letter-spacing:-0.55px;padding-left:1px;">Россия</div>
<svg class="a" style="left:126px;top:806px" width="16" height="16"><use href="#i-q"/></svg>
<div class="cl" style="left:161px;top:806px;width:45px;color:#000;letter-spacing:-0.7px;padding-left:2px;">96</div>

<div class="cl" style="left:335px;top:806px;width:130px;color:#10107a;letter-spacing:-0.59px;padding-left:1px;">БЛОК Резервирований</div>
<svg class="a" style="left:472px;top:809px" width="10" height="10"><use href="#i-dot"/></svg>
<div class="a t" style="left:492px;top:806px;color:#000;font-size:12px;letter-spacing:-0.6px;">206</div>
<div class="cl" style="left:535px;top:806px;width:73px;color:#000;letter-spacing:-0.8px;padding-left:1px;">СТАНДАРТ</div>
<div class="cl" style="left:610px;top:806px;width:79px;color:#10107a;letter-spacing:-0.7px;padding-left:1px;">04.02.22  12:00</div>
<div class="cl" style="left:691px;top:806px;width:78px;color:#10107a;letter-spacing:-0.7px;padding-left:1px;">06.03.22  12:00</div>
<div class="cl" style="left:771px;top:806px;width:20px;color:#000;letter-spacing:-0.7px;text-align:right;padding-right:0px;">30</div>
<svg class="a" style="left:795px;top:806px" width="16" height="16"><use href="#i-list"/></svg>
<div class="cl" style="left:812px;top:806px;width:98px;color:#000;letter-spacing:-0.59px;padding-left:1px;">БЛОК Резервирований</div>
<svg class="a" style="left:932px;top:806px" width="14" height="16"><use href="#i-bld"/></svg>
<div class="cl" style="left:949px;top:806px;width:105px;color:#000;letter-spacing:-0.72px;padding-left:1px;">ООО &#x27;&#x27;ЭДЕЛИНК&#x27;&#x27;</div>

<div class="cl" style="left:1107px;top:806px;width:45px;color:#000;letter-spacing:-0.7px;padding-left:1px;">142</div>
<div class="cl" style="left:1154px;top:806px;width:54px;color:#000;letter-spacing:-0.7px;text-align:right;padding-right:0px;">1200.00</div>

<div class="cl" style="left:1319px;top:806px;width:85px;color:#000;letter-spacing:-0.53px;padding-left:1px;">Договорной</div>
<div class="cl" style="left:1406px;top:806px;width:85px;color:#000;letter-spacing:-0.54px;padding-left:1px;">Завтрак</div>


<div class="cl" style="left:1760px;top:806px;width:122px;color:#000;letter-spacing:-0.55px;padding-left:1px;">Россия</div>
<svg class="a" style="left:126px;top:822px" width="16" height="16"><use href="#i-q"/></svg>
<div class="cl" style="left:161px;top:822px;width:45px;color:#000;letter-spacing:-0.7px;padding-left:2px;">96</div>

<div class="cl" style="left:335px;top:822px;width:130px;color:#10107a;letter-spacing:-0.59px;padding-left:1px;">БЛОК Резервирований*</div>
<svg class="a" style="left:472px;top:825px" width="10" height="10"><use href="#i-dot"/></svg>
<div class="a t" style="left:492px;top:822px;color:#000;font-size:12px;letter-spacing:-0.6px;">206</div>
<div class="cl" style="left:535px;top:822px;width:73px;color:#000;letter-spacing:-0.8px;padding-left:1px;">СТАНДАРТ</div>
<div class="cl" style="left:610px;top:822px;width:79px;color:#10107a;letter-spacing:-0.7px;padding-left:1px;">04.02.22  12:00</div>
<div class="cl" style="left:691px;top:822px;width:78px;color:#10107a;letter-spacing:-0.7px;padding-left:1px;">06.03.22  12:00</div>
<div class="cl" style="left:771px;top:822px;width:20px;color:#000;letter-spacing:-0.7px;text-align:right;padding-right:0px;">30</div>
<svg class="a" style="left:795px;top:822px" width="16" height="16"><use href="#i-list"/></svg>
<div class="cl" style="left:812px;top:822px;width:98px;color:#000;letter-spacing:-0.59px;padding-left:1px;">БЛОК Резервирований</div>
<svg class="a" style="left:932px;top:822px" width="14" height="16"><use href="#i-bld"/></svg>
<div class="cl" style="left:949px;top:822px;width:105px;color:#000;letter-spacing:-0.72px;padding-left:1px;">ООО &#x27;&#x27;ЭДЕЛИНК&#x27;&#x27;</div>

<div class="cl" style="left:1107px;top:822px;width:45px;color:#000;letter-spacing:-0.7px;padding-left:1px;">144</div>
<div class="cl" style="left:1154px;top:822px;width:54px;color:#000;letter-spacing:-0.7px;text-align:right;padding-right:0px;">1200.00</div>

<div class="cl" style="left:1319px;top:822px;width:85px;color:#000;letter-spacing:-0.53px;padding-left:1px;">Договорной</div>
<div class="cl" style="left:1406px;top:822px;width:85px;color:#000;letter-spacing:-0.54px;padding-left:1px;">Завтрак</div>


<div class="cl" style="left:1760px;top:822px;width:122px;color:#000;letter-spacing:-0.55px;padding-left:1px;">Россия</div>
<svg class="a" style="left:126px;top:838px" width="16" height="16"><use href="#i-q"/></svg>
<div class="cl" style="left:161px;top:838px;width:45px;color:#000;letter-spacing:-0.7px;padding-left:2px;">242</div>

<div class="cl" style="left:335px;top:838px;width:130px;color:#10107a;letter-spacing:-0.91px;padding-left:1px;">BOOKING.COM (275) -</div>
<svg class="a" style="left:472px;top:839px" width="12" height="14"><use href="#i-rq"/></svg>
<div class="cl" style="left:535px;top:838px;width:73px;color:#000;letter-spacing:-0.8px;padding-left:1px;">СЬЮТ</div>
<div class="cl" style="left:610px;top:838px;width:79px;color:#10107a;letter-spacing:-0.7px;padding-left:1px;">04.02.22  12:00</div>
<div class="cl" style="left:691px;top:838px;width:78px;color:#10107a;letter-spacing:-0.7px;padding-left:1px;">16.02.22  12:00</div>
<div class="cl" style="left:771px;top:838px;width:20px;color:#000;letter-spacing:-0.7px;text-align:right;padding-right:0px;">12</div>
<svg class="a" style="left:795px;top:838px" width="16" height="16"><use href="#i-grp"/></svg>
<div class="cl" style="left:812px;top:838px;width:98px;color:#000;letter-spacing:-0.94px;padding-left:1px;">BOOKING.COM (275)</div>
<svg class="a" style="left:914px;top:840px" width="14" height="14"><use href="#i-chk"/></svg>
<svg class="a" style="left:931px;top:838px" width="16" height="16"><use href="#i-globe"/></svg>
<div class="cl" style="left:949px;top:838px;width:105px;color:#000;letter-spacing:-1.09px;padding-left:1px;">BOOKING.COM</div>

<div class="cl" style="left:1107px;top:838px;width:45px;color:#000;letter-spacing:-0.7px;padding-left:1px;">327</div>
<div class="cl" style="left:1154px;top:838px;width:54px;color:#000;letter-spacing:-0.7px;text-align:right;padding-right:0px;">2000.00</div>

<div class="cl" style="left:1319px;top:838px;width:85px;color:#000;letter-spacing:-0.52px;padding-left:1px;">Корпоративный</div>
<div class="cl" style="left:1406px;top:838px;width:85px;color:#000;letter-spacing:-0.54px;padding-left:1px;">Завтрак</div>


<div class="cl" style="left:1760px;top:838px;width:122px;color:#000;letter-spacing:-0.55px;padding-left:1px;">Россия</div>
<svg class="a" style="left:126px;top:854px" width="16" height="16"><use href="#i-q"/></svg>
<div class="cl" style="left:161px;top:854px;width:45px;color:#000;letter-spacing:-0.7px;padding-left:2px;">242</div>

<div class="cl" style="left:335px;top:854px;width:130px;color:#10107a;letter-spacing:-0.88px;padding-left:1px;">BOOKING.COM (275) * -</div>
<svg class="a" style="left:472px;top:855px" width="12" height="14"><use href="#i-rq"/></svg>
<div class="cl" style="left:535px;top:854px;width:73px;color:#000;letter-spacing:-0.8px;padding-left:1px;">СЬЮТ</div>
<div class="cl" style="left:610px;top:854px;width:79px;color:#10107a;letter-spacing:-0.7px;padding-left:1px;">04.02.22  12:00</div>
<div class="cl" style="left:691px;top:854px;width:78px;color:#10107a;letter-spacing:-0.7px;padding-left:1px;">16.02.22  12:00</div>
<div class="cl" style="left:771px;top:854px;width:20px;color:#000;letter-spacing:-0.7px;text-align:right;padding-right:0px;">12</div>
<svg class="a" style="left:795px;top:854px" width="16" height="16"><use href="#i-grp"/></svg>
<div class="cl" style="left:812px;top:854px;width:98px;color:#000;letter-spacing:-0.94px;padding-left:1px;">BOOKING.COM (275)</div>
<svg class="a" style="left:914px;top:856px" width="14" height="14"><use href="#i-chk"/></svg>
<svg class="a" style="left:931px;top:854px" width="16" height="16"><use href="#i-globe"/></svg>
<div class="cl" style="left:949px;top:854px;width:105px;color:#000;letter-spacing:-1.09px;padding-left:1px;">BOOKING.COM</div>

<div class="cl" style="left:1107px;top:854px;width:45px;color:#000;letter-spacing:-0.7px;padding-left:1px;">331</div>
<div class="cl" style="left:1154px;top:854px;width:54px;color:#000;letter-spacing:-0.7px;text-align:right;padding-right:0px;">2000.00</div>

<div class="cl" style="left:1319px;top:854px;width:85px;color:#000;letter-spacing:-0.52px;padding-left:1px;">Корпоративный</div>
<div class="cl" style="left:1406px;top:854px;width:85px;color:#000;letter-spacing:-0.54px;padding-left:1px;">Завтрак</div>


<div class="cl" style="left:1760px;top:854px;width:122px;color:#000;letter-spacing:-0.55px;padding-left:1px;">Россия</div>
<svg class="a" style="left:126px;top:870px" width="16" height="16"><use href="#i-q"/></svg>
<div class="cl" style="left:161px;top:870px;width:45px;color:#000;letter-spacing:-0.7px;padding-left:2px;">237</div>

<div class="cl" style="left:335px;top:870px;width:130px;color:#10107a;letter-spacing:-0.91px;padding-left:1px;">BOOKING.COM (275) -</div>
<svg class="a" style="left:472px;top:871px" width="12" height="14"><use href="#i-rq"/></svg>
<div class="cl" style="left:535px;top:870px;width:73px;color:#000;letter-spacing:-0.73px;padding-left:1px;">3М - М</div>
<div class="cl" style="left:610px;top:870px;width:79px;color:#10107a;letter-spacing:-0.7px;padding-left:1px;">04.02.22  12:00</div>
<div class="cl" style="left:691px;top:870px;width:78px;color:#10107a;letter-spacing:-0.7px;padding-left:1px;">16.02.22  12:00</div>
<div class="cl" style="left:771px;top:870px;width:20px;color:#000;letter-spacing:-0.7px;text-align:right;padding-right:0px;">12</div>
<svg class="a" style="left:795px;top:870px" width="16" height="16"><use href="#i-grp"/></svg>
<div class="cl" style="left:812px;top:870px;width:98px;color:#000;letter-spacing:-0.94px;padding-left:1px;">BOOKING.COM (275)</div>
<svg class="a" style="left:914px;top:872px" width="14" height="14"><use href="#i-chk"/></svg>
<svg class="a" style="left:931px;top:870px" width="16" height="16"><use href="#i-globe"/></svg>
<div class="cl" style="left:949px;top:870px;width:105px;color:#000;letter-spacing:-1.09px;padding-left:1px;">BOOKING.COM</div>

<div class="cl" style="left:1107px;top:870px;width:45px;color:#000;letter-spacing:-0.7px;padding-left:1px;">322</div>
<div class="cl" style="left:1154px;top:870px;width:54px;color:#000;letter-spacing:-0.7px;text-align:right;padding-right:0px;">750.00</div>

<div class="cl" style="left:1319px;top:870px;width:85px;color:#000;letter-spacing:-0.52px;padding-left:1px;">Корпоративный</div>
<div class="cl" style="left:1406px;top:870px;width:85px;color:#000;letter-spacing:-0.54px;padding-left:1px;">Завтрак</div>


<div class="cl" style="left:1760px;top:870px;width:122px;color:#000;letter-spacing:-0.55px;padding-left:1px;">Россия</div>
<svg class="a" style="left:126px;top:886px" width="16" height="16"><use href="#i-q"/></svg>
<div class="cl" style="left:161px;top:886px;width:45px;color:#000;letter-spacing:-0.7px;padding-left:2px;">236</div>

<div class="cl" style="left:335px;top:886px;width:130px;color:#10107a;letter-spacing:-0.91px;padding-left:1px;">BOOKING.COM (275) -</div>
<svg class="a" style="left:472px;top:887px" width="12" height="14"><use href="#i-rq"/></svg>
<div class="cl" style="left:535px;top:886px;width:73px;color:#000;letter-spacing:-0.73px;padding-left:1px;">3М - М</div>
<div class="cl" style="left:610px;top:886px;width:79px;color:#10107a;letter-spacing:-0.7px;padding-left:1px;">04.02.22  12:00</div>
<div class="cl" style="left:691px;top:886px;width:78px;color:#10107a;letter-spacing:-0.7px;padding-left:1px;">16.02.22  12:00</div>
<div class="cl" style="left:771px;top:886px;width:20px;color:#000;letter-spacing:-0.7px;text-align:right;padding-right:0px;">12</div>
<svg class="a" style="left:795px;top:886px" width="16" height="16"><use href="#i-grp"/></svg>
<div class="cl" style="left:812px;top:886px;width:98px;color:#000;letter-spacing:-0.94px;padding-left:1px;">BOOKING.COM (275)</div>
<svg class="a" style="left:914px;top:888px" width="14" height="14"><use href="#i-chk"/></svg>
<svg class="a" style="left:931px;top:886px" width="16" height="16"><use href="#i-globe"/></svg>
<div class="cl" style="left:949px;top:886px;width:105px;color:#000;letter-spacing:-1.09px;padding-left:1px;">BOOKING.COM</div>

<div class="cl" style="left:1107px;top:886px;width:45px;color:#000;letter-spacing:-0.7px;padding-left:1px;">321</div>
<div class="cl" style="left:1154px;top:886px;width:54px;color:#000;letter-spacing:-0.7px;text-align:right;padding-right:0px;">750.00</div>

<div class="cl" style="left:1319px;top:886px;width:85px;color:#000;letter-spacing:-0.52px;padding-left:1px;">Корпоративный</div>
<div class="cl" style="left:1406px;top:886px;width:85px;color:#000;letter-spacing:-0.54px;padding-left:1px;">Завтрак</div>


<div class="cl" style="left:1760px;top:886px;width:122px;color:#000;letter-spacing:-0.55px;padding-left:1px;">Россия</div>
<svg class="a" style="left:126px;top:902px" width="16" height="16"><use href="#i-q"/></svg>
<div class="cl" style="left:161px;top:902px;width:45px;color:#000;letter-spacing:-0.7px;padding-left:2px;">196</div>

<div class="cl" style="left:335px;top:902px;width:130px;color:#10107a;letter-spacing:-0.91px;padding-left:1px;">BOOKING.COM (275) -</div>
<svg class="a" style="left:472px;top:905px" width="10" height="10"><use href="#i-dot"/></svg>
<div class="a t" style="left:492px;top:902px;color:#000;font-size:12px;letter-spacing:-0.6px;">508</div>
<div class="cl" style="left:535px;top:902px;width:73px;color:#000;letter-spacing:-0.8px;padding-left:1px;">СТАНДАРТ</div>
<div class="cl" style="left:610px;top:902px;width:79px;color:#10107a;letter-spacing:-0.7px;padding-left:1px;">04.02.22  12:00</div>
<div class="cl" style="left:691px;top:902px;width:78px;color:#10107a;letter-spacing:-0.7px;padding-left:1px;">13.02.22  12:00</div>
<div class="cl" style="left:771px;top:902px;width:20px;color:#000;letter-spacing:-0.7px;text-align:right;padding-right:0px;">9</div>
<svg class="a" style="left:795px;top:902px" width="16" height="16"><use href="#i-grp"/></svg>
<div class="cl" style="left:812px;top:902px;width:98px;color:#000;letter-spacing:-0.94px;padding-left:1px;">BOOKING.COM (275)</div>
<svg class="a" style="left:914px;top:904px" width="14" height="14"><use href="#i-chk"/></svg>
<svg class="a" style="left:931px;top:902px" width="16" height="16"><use href="#i-globe"/></svg>
<div class="cl" style="left:949px;top:902px;width:105px;color:#000;letter-spacing:-1.09px;padding-left:1px;">BOOKING.COM</div>

<div class="cl" style="left:1107px;top:902px;width:45px;color:#000;letter-spacing:-0.7px;padding-left:1px;">277</div>
<div class="cl" style="left:1154px;top:902px;width:54px;color:#000;letter-spacing:-0.7px;text-align:right;padding-right:0px;">1550.00</div>

<div class="cl" style="left:1319px;top:902px;width:85px;color:#000;letter-spacing:-0.52px;padding-left:1px;">Корпоративный</div>
<div class="cl" style="left:1406px;top:902px;width:85px;color:#000;letter-spacing:-0.54px;padding-left:1px;">Завтрак</div>


<div class="cl" style="left:1760px;top:902px;width:122px;color:#000;letter-spacing:-0.55px;padding-left:1px;">Россия</div>
<svg class="a" style="left:126px;top:918px" width="16" height="16"><use href="#i-q"/></svg>
<div class="cl" style="left:161px;top:918px;width:45px;color:#000;letter-spacing:-0.7px;padding-left:2px;">229</div>

<div class="cl" style="left:335px;top:918px;width:130px;color:#10107a;letter-spacing:-0.91px;padding-left:1px;">BOOKING.COM (275) -</div>
<svg class="a" style="left:472px;top:919px" width="12" height="14"><use href="#i-rq"/></svg>
<div class="cl" style="left:535px;top:918px;width:73px;color:#000;letter-spacing:-0.73px;padding-left:1px;">3М - М</div>
<div class="cl" style="left:610px;top:918px;width:79px;color:#10107a;letter-spacing:-0.7px;padding-left:1px;">04.02.22  12:00</div>
<div class="cl" style="left:691px;top:918px;width:78px;color:#10107a;letter-spacing:-0.7px;padding-left:1px;">16.02.22  12:00</div>
<div class="cl" style="left:771px;top:918px;width:20px;color:#000;letter-spacing:-0.7px;text-align:right;padding-right:0px;">12</div>
<svg class="a" style="left:795px;top:918px" width="16" height="16"><use href="#i-grp"/></svg>
<div class="cl" style="left:812px;top:918px;width:98px;color:#000;letter-spacing:-0.94px;padding-left:1px;">BOOKING.COM (275)</div>
<svg class="a" style="left:914px;top:920px" width="14" height="14"><use href="#i-chk"/></svg>
<svg class="a" style="left:931px;top:918px" width="16" height="16"><use href="#i-globe"/></svg>
<div class="cl" style="left:949px;top:918px;width:105px;color:#000;letter-spacing:-1.09px;padding-left:1px;">BOOKING.COM</div>

<div class="cl" style="left:1107px;top:918px;width:45px;color:#000;letter-spacing:-0.7px;padding-left:1px;">314</div>
<div class="cl" style="left:1154px;top:918px;width:54px;color:#000;letter-spacing:-0.7px;text-align:right;padding-right:0px;">750.00</div>

<div class="cl" style="left:1319px;top:918px;width:85px;color:#000;letter-spacing:-0.52px;padding-left:1px;">Корпоративный</div>
<div class="cl" style="left:1406px;top:918px;width:85px;color:#000;letter-spacing:-0.54px;padding-left:1px;">Завтрак</div>


<div class="cl" style="left:1760px;top:918px;width:122px;color:#000;letter-spacing:-0.55px;padding-left:1px;">Россия</div>
<svg class="a" style="left:126px;top:934px" width="16" height="16"><use href="#i-q"/></svg>
<div class="cl" style="left:161px;top:934px;width:45px;color:#000;letter-spacing:-0.7px;padding-left:2px;">107</div>

<div class="cl" style="left:335px;top:934px;width:130px;color:#10107a;letter-spacing:-0.8px;padding-left:1px;">ДОЛГОЖИЛОВ МИХАИЛ</div>
<svg class="a" style="left:472px;top:937px" width="10" height="10"><use href="#i-dot"/></svg>
<div class="a t" style="left:492px;top:934px;color:#000;font-size:12px;letter-spacing:-0.6px;">510-1</div>
<div class="cl" style="left:535px;top:934px;width:73px;color:#000;letter-spacing:-0.73px;padding-left:1px;">3М - М</div>
<div class="cl" style="left:610px;top:934px;width:79px;color:#10107a;letter-spacing:-0.7px;padding-left:1px;">04.02.22  12:00</div>
<div class="cl" style="left:691px;top:934px;width:78px;color:#000;letter-spacing:-0.7px;padding-left:1px;">06.09.22  12:00</div>
<div class="cl" style="left:771px;top:934px;width:20px;color:#000;letter-spacing:-0.7px;text-align:right;padding-right:0px;">214</div>



<div class="cl" style="left:1107px;top:934px;width:45px;color:#000;letter-spacing:-0.7px;padding-left:1px;">159</div>
<div class="cl" style="left:1154px;top:934px;width:54px;color:#000;letter-spacing:-0.7px;text-align:right;padding-right:0px;">4200.00</div>
<div class="cl" style="left:1210px;top:934px;width:30px;color:#007a20;letter-spacing:-0.7px;padding-left:1px;">06.09</div>
<div class="cl" style="left:1242px;top:934px;width:54px;color:#c01010;letter-spacing:-0.7px;text-align:right;padding-right:6px;">29400.00</div>
<div class="cl" style="left:1319px;top:934px;width:85px;color:#000;letter-spacing:-0.8px;padding-left:1px;">МЕСЯЦ</div>
<div class="cl" style="left:1406px;top:934px;width:85px;color:#000;letter-spacing:-0.54px;padding-left:1px;">Завтрак</div>


<div class="cl" style="left:1760px;top:934px;width:122px;color:#000;letter-spacing:-0.55px;padding-left:1px;">Россия</div>
<svg class="a" style="left:126px;top:950px" width="16" height="16"><use href="#i-wait"/></svg>
<div class="cl" style="left:161px;top:950px;width:45px;color:#000;letter-spacing:-0.7px;padding-left:2px;">307</div>

<div class="cl" style="left:335px;top:950px;width:130px;color:#000;letter-spacing:-0.73px;padding-left:1px;">РАДУГА Ltd * -</div>
<svg class="a" style="left:472px;top:951px" width="12" height="14"><use href="#i-rq"/></svg>
<div class="cl" style="left:535px;top:950px;width:73px;color:#000;letter-spacing:-0.8px;padding-left:1px;">СТАНДАРТ</div>
<div class="cl" style="left:610px;top:950px;width:79px;color:#10107a;letter-spacing:-0.7px;padding-left:1px;">04.02.22  12:00</div>
<div class="cl" style="left:691px;top:950px;width:78px;color:#10107a;letter-spacing:-0.7px;padding-left:1px;">10.02.22  12:00</div>
<div class="cl" style="left:771px;top:950px;width:20px;color:#000;letter-spacing:-0.7px;text-align:right;padding-right:0px;">6</div>
<svg class="a" style="left:795px;top:950px" width="16" height="16"><use href="#i-grp"/></svg>
<div class="cl" style="left:812px;top:950px;width:98px;color:#000;letter-spacing:-0.76px;padding-left:1px;">РАДУГА Ltd</div>


<div class="cl" style="left:1107px;top:950px;width:45px;color:#000;letter-spacing:-0.7px;padding-left:1px;">405</div>
<div class="cl" style="left:1154px;top:950px;width:54px;color:#000;letter-spacing:-0.7px;text-align:right;padding-right:0px;">4000.00</div>

<div class="cl" style="left:1319px;top:950px;width:85px;color:#000;letter-spacing:-0.8px;padding-left:1px;">СТАНДАРТ</div>
<div class="cl" style="left:1406px;top:950px;width:85px;color:#000;letter-spacing:-0.54px;padding-left:1px;">Завтрак</div>


<div class="cl" style="left:1760px;top:950px;width:122px;color:#000;letter-spacing:-0.55px;padding-left:1px;">Россия</div>
<svg class="a" style="left:126px;top:966px" width="16" height="16"><use href="#i-q"/></svg>
<div class="cl" style="left:161px;top:966px;width:45px;color:#000;letter-spacing:-0.7px;padding-left:2px;">249</div>

<div class="cl" style="left:335px;top:966px;width:130px;color:#10107a;letter-spacing:-0.91px;padding-left:1px;">BOOKING.COM (275) -</div>
<svg class="a" style="left:472px;top:967px" width="12" height="14"><use href="#i-rq"/></svg>
<div class="cl" style="left:535px;top:966px;width:73px;color:#000;letter-spacing:-0.73px;padding-left:1px;">3М - М</div>
<div class="cl" style="left:610px;top:966px;width:79px;color:#10107a;letter-spacing:-0.7px;padding-left:1px;">04.02.22  12:00</div>
<div class="cl" style="left:691px;top:966px;width:78px;color:#10107a;letter-spacing:-0.7px;padding-left:1px;">16.02.22  12:00</div>
<div class="cl" style="left:771px;top:966px;width:20px;color:#000;letter-spacing:-0.7px;text-align:right;padding-right:0px;">12</div>
<svg class="a" style="left:795px;top:966px" width="16" height="16"><use href="#i-grp"/></svg>
<div class="cl" style="left:812px;top:966px;width:98px;color:#000;letter-spacing:-0.94px;padding-left:1px;">BOOKING.COM (275)</div>
<svg class="a" style="left:914px;top:968px" width="14" height="14"><use href="#i-chk"/></svg>
<svg class="a" style="left:931px;top:966px" width="16" height="16"><use href="#i-globe"/></svg>
<div class="cl" style="left:949px;top:966px;width:105px;color:#000;letter-spacing:-1.09px;padding-left:1px;">BOOKING.COM</div>

<div class="cl" style="left:1107px;top:966px;width:45px;color:#000;letter-spacing:-0.7px;padding-left:1px;">338</div>
<div class="cl" style="left:1154px;top:966px;width:54px;color:#000;letter-spacing:-0.7px;text-align:right;padding-right:0px;">750.00</div>

<div class="cl" style="left:1319px;top:966px;width:85px;color:#000;letter-spacing:-0.52px;padding-left:1px;">Корпоративный</div>
<div class="cl" style="left:1406px;top:966px;width:85px;color:#000;letter-spacing:-0.54px;padding-left:1px;">Завтрак</div>


<div class="cl" style="left:1760px;top:966px;width:122px;color:#000;letter-spacing:-0.55px;padding-left:1px;">Россия</div>
<svg class="a" style="left:126px;top:982px" width="16" height="16"><use href="#i-q"/></svg>
<div class="cl" style="left:161px;top:982px;width:45px;color:#000;letter-spacing:-0.7px;padding-left:2px;">240</div>

<div class="cl" style="left:335px;top:982px;width:130px;color:#10107a;letter-spacing:-0.88px;padding-left:1px;">BOOKING.COM (275) * -</div>
<svg class="a" style="left:472px;top:983px" width="12" height="14"><use href="#i-rq"/></svg>
<div class="cl" style="left:535px;top:982px;width:73px;color:#000;letter-spacing:-0.8px;padding-left:1px;">СЬЮТ</div>
<div class="cl" style="left:610px;top:982px;width:79px;color:#10107a;letter-spacing:-0.7px;padding-left:1px;">04.02.22  12:00</div>
<div class="cl" style="left:691px;top:982px;width:78px;color:#10107a;letter-spacing:-0.7px;padding-left:1px;">16.02.22  12:00</div>
<div class="cl" style="left:771px;top:982px;width:20px;color:#000;letter-spacing:-0.7px;text-align:right;padding-right:0px;">12</div>
<svg class="a" style="left:795px;top:982px" width="16" height="16"><use href="#i-grp"/></svg>
<div class="cl" style="left:812px;top:982px;width:98px;color:#000;letter-spacing:-0.94px;padding-left:1px;">BOOKING.COM (275)</div>
<svg class="a" style="left:914px;top:984px" width="14" height="14"><use href="#i-chk"/></svg>
<svg class="a" style="left:931px;top:982px" width="16" height="16"><use href="#i-globe"/></svg>
<div class="cl" style="left:949px;top:982px;width:105px;color:#000;letter-spacing:-1.09px;padding-left:1px;">BOOKING.COM</div>

<div class="cl" style="left:1107px;top:982px;width:45px;color:#000;letter-spacing:-0.7px;padding-left:1px;">329</div>
<div class="cl" style="left:1154px;top:982px;width:54px;color:#000;letter-spacing:-0.7px;text-align:right;padding-right:0px;">2000.00</div>

<div class="cl" style="left:1319px;top:982px;width:85px;color:#000;letter-spacing:-0.52px;padding-left:1px;">Корпоративный</div>
<div class="cl" style="left:1406px;top:982px;width:85px;color:#000;letter-spacing:-0.54px;padding-left:1px;">Завтрак</div>


<div class="cl" style="left:1760px;top:982px;width:122px;color:#000;letter-spacing:-0.55px;padding-left:1px;">Россия</div>
<div class="a" style="left:1882px;top:166px;width:18px;height:832px;background:#ececec"></div>
<div class="btn" style="left:1883px;top:166px;width:15px;height:16px"></div>
<svg class="a" style="left:1887px;top:171px" width="8" height="5"><path d="M0 4 H7 L3.5 0Z" fill="#000"/></svg>
<div class="btn" style="left:1883px;top:182px;width:15px;height:312px;background:#d0d0d0"></div>
<div class="btn" style="left:1883px;top:982px;width:15px;height:16px"></div>
<svg class="a" style="left:1887px;top:988px" width="8" height="5"><path d="M0 0 H7 L3.5 4Z" fill="#000"/></svg>
<div class="a" style="left:1898px;top:166px;width:2px;height:832px;background:#1a1a1a"></div>
<div class="a" style="left:121px;top:998px;width:1762px;height:16px;background:#dcdcdc;border-bottom:1px solid #fff"></div>
<div class="a t" style="left:132px;top:998px;color:#000;font-size:12px;letter-spacing:0px;font-weight:bold;">1 (133)</div>
<div class="a" style="left:770px;top:998px;width:1113px;height:16px;background:#ececec"></div>
<div class="btn" style="left:770px;top:998px;width:16px;height:16px"></div>
<svg class="a" style="left:775px;top:1002px" width="5" height="8"><path d="M4 0 V7 L0 3.5Z" fill="#000"/></svg>
<div class="btn" style="left:786px;top:998px;width:16px;height:16px"></div>
<div class="btn" style="left:1867px;top:998px;width:16px;height:16px"></div>
<svg class="a" style="left:1873px;top:1002px" width="5" height="8"><path d="M0 0 V7 L4 3.5Z" fill="#000"/></svg>
<div class="a" style="left:1883px;top:998px;width:16px;height:16px;background:#dcdcdc"></div>
<svg class="a" style="left:1887px;top:1000px" width="8" height="13"><path d="M0 4 H7 L3.5 0Z M0 8 H7 L3.5 12Z" fill="#000"/></svg>
<div class="a" style="left:121px;top:1014px;width:1791px;height:6px;background:#dedede"></div>
</body></html>
